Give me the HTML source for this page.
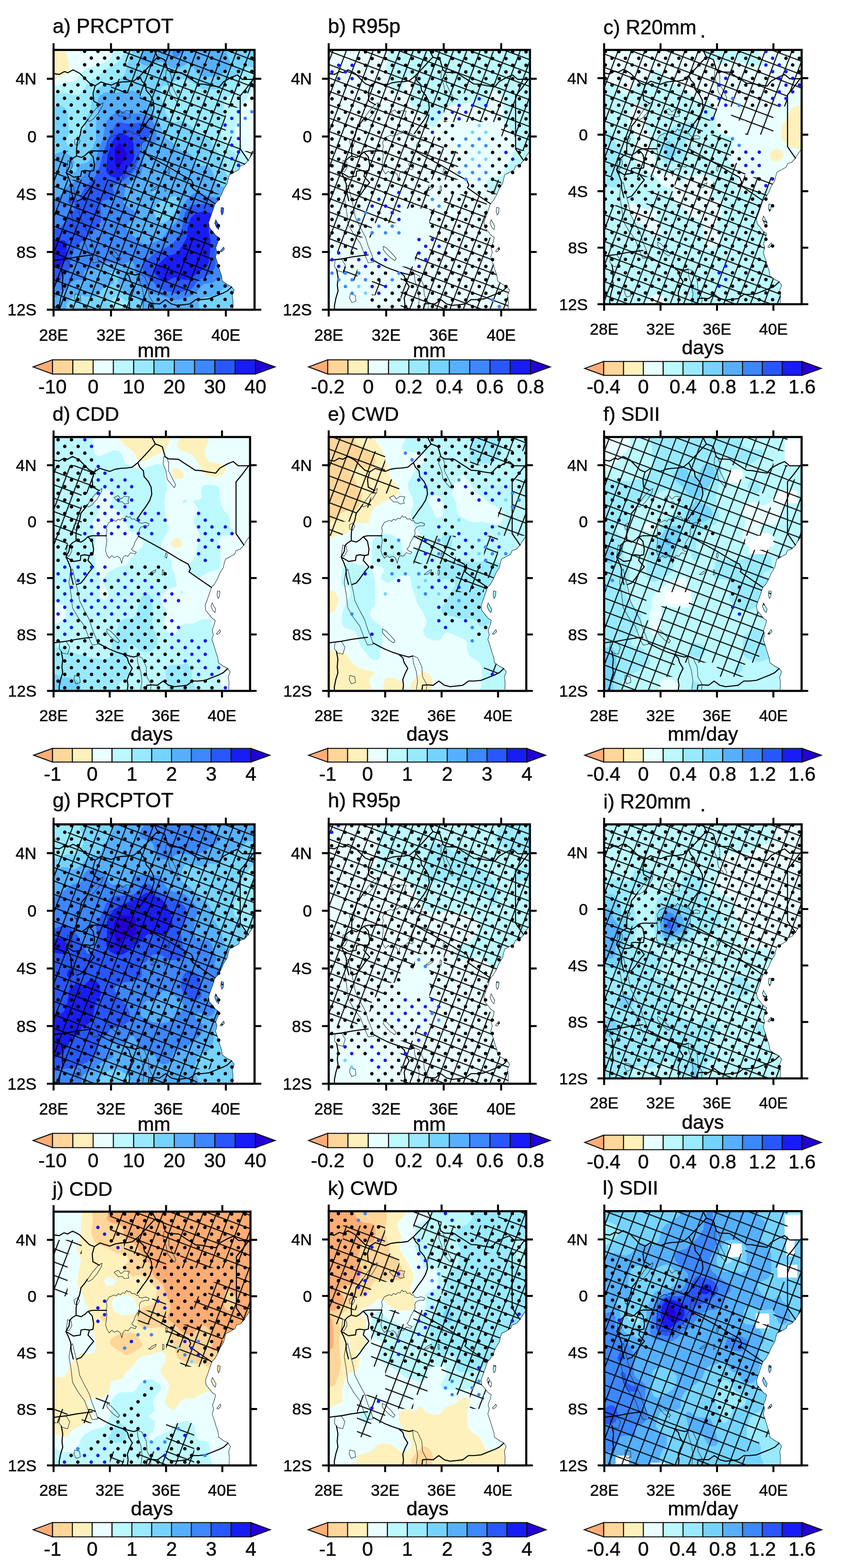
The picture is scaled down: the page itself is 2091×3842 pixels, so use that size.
<!DOCTYPE html>
<html lang="en"><head><meta charset="utf-8"><title>Figure</title>
<style>html,body{margin:0;padding:0;background:#fff}svg{display:block}text{font-family:"Liberation Sans", Arial, Helvetica, sans-serif;fill:#0a0a0a;stroke:#0a0a0a;stroke-width:.7px;stroke-linejoin:round}.fr{fill:none;stroke:#000;stroke-width:5.2}.tk{stroke:#000;stroke-width:4.8;fill:none}.cbx{stroke:#111;stroke-width:2.5;stroke-linejoin:miter}.bd{fill:none;stroke:#000;stroke-width:2.6;stroke-linejoin:round;stroke-linecap:round}.ct{fill:none;stroke:#1c2b33;stroke-width:1.2;stroke-linejoin:round}</style></head><body>
<svg width="2091" height="3842" viewBox="0 0 2091 3842">
<rect width="2091" height="3842" fill="#fff"/>
<defs>
<pattern id="h_a" patternUnits="userSpaceOnUse" width="30.7" height="30.7" patternTransform="translate(448.4 213.9) rotate(20.6) translate(-15.3 -15.3)"><path d="M0 15.3H30.7M15.3 0V30.7" stroke="#000" stroke-width="2.5" fill="none"/></pattern>
<clipPath id="c_a"><rect x="131.3" y="122.3" width="492.7" height="636.6"/></clipPath>
<pattern id="h_b" patternUnits="userSpaceOnUse" width="30.7" height="30.7" patternTransform="translate(843.4 139.1) rotate(20.6) translate(-15.3 -15.3)"><path d="M0 15.3H30.7M15.3 0V30.7" stroke="#000" stroke-width="2.5" fill="none"/></pattern>
<clipPath id="c_b"><rect x="805.8" y="122.3" width="493.3" height="636.6"/></clipPath>
<pattern id="h_c" patternUnits="userSpaceOnUse" width="30.7" height="30.7" patternTransform="translate(1565.9 164.1) rotate(20.6) translate(-15.3 -15.3)"><path d="M0 15.3H30.7M15.3 0V30.7" stroke="#000" stroke-width="2.5" fill="none"/></pattern>
<clipPath id="c_c"><rect x="1480.9" y="122.3" width="484.2" height="623.1"/></clipPath>
<pattern id="h_d" patternUnits="userSpaceOnUse" width="30.7" height="30.7" patternTransform="translate(230.9 1159.4) rotate(20.6) translate(-15.3 -15.3)"><path d="M0 15.3H30.7M15.3 0V30.7" stroke="#000" stroke-width="2.5" fill="none"/></pattern>
<clipPath id="c_d"><rect x="131.3" y="1070.8" width="481.7" height="622.1"/></clipPath>
<pattern id="h_e" patternUnits="userSpaceOnUse" width="30.7" height="30.7" patternTransform="translate(1180.9 1109.8) rotate(20.6) translate(-15.3 -15.3)"><path d="M0 15.3H30.7M15.3 0V30.7" stroke="#000" stroke-width="2.5" fill="none"/></pattern>
<clipPath id="c_e"><rect x="805.8" y="1070.8" width="484.3" height="622.1"/></clipPath>
<pattern id="h_f" patternUnits="userSpaceOnUse" width="30.7" height="30.7" patternTransform="translate(1582.3 1273.7) rotate(20.6) translate(-15.3 -15.3)"><path d="M0 15.3H30.7M15.3 0V30.7" stroke="#000" stroke-width="2.5" fill="none"/></pattern>
<clipPath id="c_f"><rect x="1480.9" y="1070.8" width="484.1" height="622.1"/></clipPath>
<pattern id="h_g" patternUnits="userSpaceOnUse" width="30.7" height="30.7" patternTransform="translate(208 2121.3) rotate(20.6) translate(-15.3 -15.3)"><path d="M0 15.3H30.7M15.3 0V30.7" stroke="#000" stroke-width="2.5" fill="none"/></pattern>
<clipPath id="c_g"><rect x="131.3" y="2019.9" width="492.7" height="635.5"/></clipPath>
<pattern id="h_h" patternUnits="userSpaceOnUse" width="30.7" height="30.7" patternTransform="translate(832.1 2065.6) rotate(20.6) translate(-15.3 -15.3)"><path d="M0 15.3H30.7M15.3 0V30.7" stroke="#000" stroke-width="2.5" fill="none"/></pattern>
<clipPath id="c_h"><rect x="805.8" y="2019.9" width="493.2" height="635.5"/></clipPath>
<pattern id="h_i" patternUnits="userSpaceOnUse" width="30.7" height="30.7" patternTransform="translate(1505 2040.3) rotate(20.6) translate(-15.3 -15.3)"><path d="M0 15.3H30.7M15.3 0V30.7" stroke="#000" stroke-width="2.5" fill="none"/></pattern>
<clipPath id="c_i"><rect x="1480.9" y="2019.9" width="484.2" height="622.5"/></clipPath>
<pattern id="h_j" patternUnits="userSpaceOnUse" width="30.7" height="30.7" patternTransform="translate(496 3064.9) rotate(20.6) translate(-15.3 -15.3)"><path d="M0 15.3H30.7M15.3 0V30.7" stroke="#000" stroke-width="2.5" fill="none"/></pattern>
<clipPath id="c_j"><rect x="131.3" y="2968.9" width="482.7" height="621.8"/></clipPath>
<pattern id="h_k" patternUnits="userSpaceOnUse" width="30.7" height="30.7" patternTransform="translate(913.7 3095.6) rotate(20.6) translate(-15.3 -15.3)"><path d="M0 15.3H30.7M15.3 0V30.7" stroke="#000" stroke-width="2.5" fill="none"/></pattern>
<clipPath id="c_k"><rect x="805.8" y="2967.8" width="484.2" height="622.9"/></clipPath>
<pattern id="h_l" patternUnits="userSpaceOnUse" width="30.7" height="30.7" patternTransform="translate(1583.5 3169.3) rotate(20.6) translate(-15.3 -15.3)"><path d="M0 15.3H30.7M15.3 0V30.7" stroke="#000" stroke-width="2.5" fill="none"/></pattern>
<clipPath id="c_l"><rect x="1481.4" y="2967.6" width="483.6" height="623.1"/></clipPath>
</defs>
<g id="p_a">
<g clip-path="url(#c_a)">
<rect x="131.3" y="122.3" width="492.7" height="636.6" fill="#fff1bc"/>
<path d="M130.9 190.5l16.1-2.4l9.3-4.4l7.9-5.7l4.6-5.6l2.1-11.3l-7.2-22.6l-1.6-16.6l462.3 0l0 637.4l-493.5 0z" fill="#eaffff" fill-rule="evenodd"/>
<path d="M619.4 223.2l-19 22.6l-6.7 11.3l-8.9 39.5l-9.4 16.9l.1 22.6l.1 5.7l3.6 5.6l6.8 4.1l5.6 7.1l11.1 23l6.9 5.4l14.8 2.1l0 370.2l-493.5 0l0-549.5l10.6-.1l16.7-6l22.2-4.8l5.5-3.4l16.7-19.3l11.1-7.9l33.4-11.5l15.4-7l7.2-5.7l4.1-5.6l2.2-16.6l348.4 0l0 99z" fill="#bcf9ff" fill-rule="evenodd"/>
<path d="M624.4 191.5l-16.1-1.4l-17.1 10.5l-5.1 5.7l-8 16.9l-5.6 5.6l-17.1 11.3l-5.2 5.7l-1.8 5.6l.3 22.6l-6.4 50.8l2.5 17l7.9 16.9l5.5 5.6l16.7 9.4l5.6 7.3l12.2 22.9l10 5.8l21.7-1.4l0 351l-493.5 0l0-525.7l21.7-6.4l11.1 .8l16.7 5.3l11.1-1.5l5.3-3l5.9-5.6l10.5-16.9l6.1-6.8l16.7-10l20.5-17.1l29.5-17.3l13.4-16.6l5.4-11.3l.3-5.3l319.3 0z" fill="#99eaff" fill-rule="evenodd"/>
<path d="M624.4 165.2l-16.1-2.2l-5.6 2.7l-10.1 12.3l-6.6 5l-28.2 12l-6.7 5.6l-9.5 12.8l-5.8 4.2l-10.9 1.7l-27.8-.5l-33.3-22l-11.1-2.5l-11.1-.1l-11.2 3.1l-16.6 10.7l-16.7 3.2l-3.4 6.4l-.8 11.2l1 11.3l4.7 11.3l5.8 22.6l9.4 14.9l5.5 6.2l5.6 3.3l5.5 .5l11.2-2.6l11.1 1.7l21.4 15.5l17.5 17.3l22.2 11.5l27.8 44.7l6.1 16.9l3.6 16.9l6.9 10.1l5.6 3.1l16.7 4.7l16.6 12.6l5.6 1.5l21.7-.1l0 306.6l-308.9 0l2.7-11l-2.1-5.6l-19-13.4l-11.1-3.1l-10.4 5.2l-4.1 5.7l-5.5 22.2l-135.1 0l0-498.6l10.6-2l11.1 1.6l5.6 3.9l7 9.8l1.7 5.7l.1 16.9l3 28.2l-8.9 22.6l2.9 5.7l5.3 2.7l11.1 .4l5.5-4.6l7.7-15.5l14.3-22.6l3.1-22.5l10.8-22.6l3.6-28.3l4.4-11.3l9.8-11.2l13-9l11.1-5.1l22.3-4.9l6.7-3.6l12-11.3l3.3-5.7l3.9-22.6l11.1-22.5l.8-11l300.6 0z" fill="#75d3ff" fill-rule="evenodd"/>
<path d="M308.2 221l16.7 1l16.6 7.8l11.1 8.1l18.7 24.8l6.8 17l11.2 16.9l4.9 11.3l3.5 16.9l5 10.8l16.6 11.4l22.3 20.3l5.5 3.5l16.7 4.4l5.5 4.6l4.5 7.2l4.1 11.2l4.5 5.7l9.2 2.4l16.6 .6l5.6 2.5l7.1 11.4l12.8 33.9l24.5 5.5l27.8 8.6l38.4 2.3l0 223.8l-10.6-1.1l-38.9 2.3l-27.8 12.2l-16.6 15.6l-11.2 3.6l-16.6 .5l-5.6 2.5l-7.6 6.6l-3.1 5.6l2.4 16.6l-132.3 0l-5.7-5.3l-3.6-11.3l-5.7-7.6l-5.5-3.7l-22.3-9l-11-7.9l-8.6-11.3l-6.1-17l3.8-11.3l-2.8-5.6l-8.6-3.9l-5.6 .2l-6.5 3.7l-.5 5.6l2.7 5.7l6.3 5.6l3 5.7l-7.9 5.6l-19.3 9.1l-16.6 18.2l-5.6 1.9l-11.1 .6l-27.8-4.5l-5.6 .4l-5.5 2.7l-16.7 16.8l-1.9 5.6l2.4 11l-33.3 0l0-380.3l16.1-6.1l5.6-.3l10.1 3.1l9.5 5.6l5.4 5.7l5.4 11.2l-1.8 5.7l-7.6 11.3l.7 5.6l6.1 2.1l5.5-2.9l3.6-10.5l3.9-5.6l20.3-5.8l5.6-4.7l2.5-6.4l2-17l11.3-28.2l.1-33.9l4.7-33.9l-1.6-22.6l2.8-11.3l6-7.8l11.1-6.1l27.8 1.5zM380.4 464.9l-9.4 6.8l3.9 3.3l5.5-1.4l1.6-1.9zM424.9 480.4l-33.4 13.9l-5.5 3.6l-5.8 7.6l-2.6 11.3l1.7 11.3l5.3 11.3l6.9 6.6l5.6 .9l5.6-1.5l17.6-11.6l10.1-16.1l7.3-17.8l.9-11.3l-3.8-5.6l-4.4-2.4zM553.1 121.9l9.7 27.9l.2 11.3l-1.5 5.6l-4.1 5.7l-7.1 5.6l-14.3 8.4l-5.5 1.5l-27.8 .3l-11.1-3.3l-8.4-6.9l-13.9-20.2l-5.5-2.4l-5.6 1.1l-18.2 10.2l-9.6 2l-11.1-2.4l-22.2-14.5l-5.6-.5l-22.2 7.7l-11.1 1.8l-11.1-3.7l-4.7-7.3l.2-5.7l4.4-11.2l9.8-11z" fill="#56b0ff" fill-rule="evenodd"/>
<path d="M291.5 272.1l11.1 .2l11.1 3.7l11.2 1.5l22.2 .6l11.1 4l11.1 8.7l7.8 11.5l3.9 11.2l2.6 17l-1.1 16.9l-2.1 5.2l-5.5 3.6l-11.1 3.3l-5.6 4.5l-2.6 6l-5 17l-2.1 28.2l-2.5 11.3l-4.8 5.6l-24.1 17l-10 11.3l-4.7 28.2l.2 7l5.6 7.8l19.6 13.4l3.3 5.7l1 5.6l-1.7 6l-14.1 11l-4.5 5.6l-1.5 5.7l.8 5.6l3.5 5.7l26.9 24.3l11.1 6.1l11.2 1l27.7-10.6l10.3-9.6l12.2-16.9l18.4-16.9l3.6-6.3l9.2-27.6l13-22.4l11.1-10.9l11.2-5l11.1 .2l22.2 8.7l16.7 2.8l27.7-1.1l27.8 1.2l38.4-1.9l0 195.2l-10.6-1.6l-27.8 .6l-27.8 5.5l-22.2 .4l-16.7 11.2l-16.6 1.1l-5.6 2.1l-16.6 20.1l-11.2 7.4l-27.7 8.9l-16.7 1.3l-22.2-8.2l-27.8-7.5l-9.5-4.8l-23.2-17l-6.2-12.4l-6.2-32.7l-4.9-11l-5.6-1.4l-16.7 6.9l-38.9-3.9l-11.1 3l-22.2 11.6l-16.7 2.4l-5.5 2.3l-2.5 7l3 11.3l-.5 6.1l-16.7-1.6l-11.1 3.3l-5.6 4.3l-22.2 25.5l-21.7 12.2l0-245.7l10.6-2.7l5.5-3.2l7.6-7.1l14.7-20l22.2-9l36.6-33.2l5.9-11.3l6.4-28.2l11.2-28.2l6.6-34.9l3.4-10.3l13.2-15.2zM452.7 122.3l-16.7 16.4l-5.6 2l-5.5-2.5l-1.9-5.3l-.3-11z" fill="#3d87ff" fill-rule="evenodd"/>
<path d="M502.7 499.4l38.9 5.9l33.3-4.2l27.8 .7l21.7-2.3l0 49.7l-5.6 1.5l-21.7 15l-27.7 .5l-22.3-5.7l-5.5-.2l-2.5 1.7l-10.7 50.8l-1.1 11.3l1.6 22.6l-3.6 11.3l-11.5 14.1l-26.7 14.1l-17.8 21.4l-5.5 2.9l-33.4 8.4l-35.6-10.1l-8.3-5.6l-15.4-17l-12.9-9.6l-5.6-6.7l-2.6-11.9l2.6-15.8l11.2-7.8l17.1-15.9l36.2-17l17.9-16.9l6.6-12.6l7.6-26.9l4.3-22.6l10.3-16.5l11.1-4.5zM291.5 299.4l22.2 3.8l38.9-3.1l11.2 7.6l3.2 5.8l1.4 5.7l-1 11.3l-16.6 16.9l-7.4 11.3l-5.8 39.5l-10.7 22.6l-10.4 11.3l-13.9 10.5l-24.7 12.1l-2.3 5.7l4.8 11.3l-.2 5.6l-4.5 5.7l-6.4 4l-16.7 4.6l-3.4 2.6l-2.4 5.7l.9 39.5l-1.5 5.7l-23.4 28.2l-20.2 16l-18 17.9l-4.2 6.9l-12.7 43.9l-5.4 11.3l-15.3 19l-5.5 4.2l-10.6 4.4l0-136.8l16.1-1l7.5-8.4l14.8-23.5l12.4-10.4l1-16.9l-2.3-5.1l-5.6 3.6l-5.5 .5l-2.5-4.7l1.7-5.6l6.3-5.8l5.6-1l3.1 1.2l2.4 8.9l9.1-3.3l3.4-11.3l13.6-22.6l21.7-22.6l10.1-22.6l10-39.5l13.4-33.9l13.9-28.2l4.9-5.9z" fill="#2857ff" fill-rule="evenodd"/>
<path d="M152.6 588.8l7.2 1.4l3.9 5.7l-.4 22.6l-3.4 16.9l-7.3 14.2l-5.6 4.5l-16.1 1.2l0-63.5zM491.6 519l16.6 .9l7.5 2.6l7.8 5.6l.6 5.7l-9 16.9l-3.7 11.3l-.1 5.7l4.9 22.5l.1 11.3l-4.2 39.6l-3.9 9.9l-5.5 6.4l-16.7 10.2l-22.2 18.1l-11.1 .1l-22.3-6.1l-5.5 .6l-16.7 10.1l-5.5 .1l-5.6-2.6l-17.9-18.6l-2.1-5.7l1.4-5.6l29.7-30.5l16.7-3.2l11.1-6.2l20.8-33.5l3.4-28.2l7.7-22.6l11.6-11.3zM574.9 517.3l11.1 1.5l6.5 3.7l3.8 5.6l-1.7 5.7l-3 2.9l-11.1 6.3l-5.6 .2l-10.6-3.8l-6.4-5.6l-1.4-5.7l4.9-5.6zM297.1 326l16.6 7.3l11.2 11.5l2.3 8.3l1.7 33.9l-4 9.5l-7.1 7.4l-9.7 16.9l-5 5.7l-11.6 8.2l-11.1 .2l-11.1-4.1l-5.7-4.3l-2.8-5.7l-.6-5.6l4.3-33.9l5.7-22.6l10.2-21l5.6-7.2l5.5-3.8z" fill="#181cf7" fill-rule="evenodd"/>
<path d="M291.5 351.4l5.6 1.4l4.4 5.9l8.4 17l1.2 5.6l-1.3 5.7l-13.2 16.9l-5.1 10.1l-5.5 1.6l-2.1-6.1l-3.7-33.8l4.6-17z" fill="#2400d8" fill-rule="evenodd"/>
<path d="M569.5 723.5l4.5-12.3l-6.3-8.9l-10.6-5.3l-12.3-8.8l-1.7-12.4l-5.3-15.9l-3.5-12.4l-6-17.7l3.5-12.4l-2.8-10.6l5.3-14.1l2.4-10.6l-7.7-5.3l-7.1-8.9l-8.8-10.6l-1.7-12.4l6.3-17.7l4.9-14.1l4.6-13.8l7.1-7.4l8.1-14.2l5.9-14.1l8.8-14.2l1.8-8.8l3.5-12.4l10.6-5.3l12.3-7.1l3.5-8.8l10.6-3.5l9.1-10.3l6.7-11l8.8-12.3l21.1 0l0 410.2l-74.6 0l.7-42.4zM548.3 509.6l-5.9-1.8l-1.1 10.6l2.5 8.8l3.5-5.3zM536 562.6l1.8-8.8l-5.3-8.9l-3.5-7l-2.8 8.8l4.5 10.6zM543.1 617.4l7-7l-1.8-5.3l-8.8 10.6z" fill="#fff" fill-rule="evenodd"/>
<path class="ct" d="M624 369.9l-8.8 12.3l-6.7 11l-9.1 10.3l-10.6 3.5l-3.5 8.8l-12.3 7.1l-10.6 5.3l-3.5 12.4l-1.8 8.8l-8.8 14.2l-5.9 14.1l-8.1 14.2l-7.1 7.4l-4.6 13.8l-4.9 14.1l-6.3 17.7l1.7 12.4l8.8 10.6l7.1 8.9l7.7 5.3l-2.4 10.6l-5.3 14.1l2.8 10.6l-3.5 12.4l6 17.7l3.5 12.4l5.3 15.9l1.7 12.4l12.3 8.8l10.6 5.3l6.3 8.9l-4.5 12.3l1.7 14.2l-.7 21.2M542.4 507.8l5.9 1.8l-1 12.3l-3.5 5.3l-2.5-8.8l1.1-10.6M529 537.9l3.5 7l5.3 8.9l-1.8 8.8l-5.3-5.3l-4.5-10.6l2.8-8.8M548.3 605.1l1.8 5.3l-7 7l-3.6-1.7l8.8-10.6M270.3 336.3l5.3-1.8l7-3.5l5.3 2.8l5.3-5.7l5.3 2.9l5.2-5.3l5.3 1.7l5.3-7.8l3.5 4.3l5.3-1.8l3.5 6l7.1-.7l5.2 5.3l3.6-1.7l3.5 6.3l7 1.4l8.8-2.4l8.8 3.5l-1.7 5.3l-10.6 0l-8.8 3.5l-3.5 7.1l.7 10.6l-6 10.6l-5.3 8.9l-3.5 10.6l-5.3 7.1l5.3 5.3l7 1.7l-3.5 5.3l-10.5-3.5l-7.1 8.8l-7-1.7l-5.3 5.3l-3.5 14.1l-3.5-12.3l-7.1-5.4l-8.8 3.6l-5.2-5.3l-7.1 7.1l-5.3-8.9l-3.5-10.6l1.8-12.4l1.7-14.1l-2.8-10.6l2.8-10.6l-1.7-10.7l7-12.3M178.8 453l8.8 37.1l5.3 21.2l3.5 21.3l12.3 24.7l12.3 23l7.1 23l8.8 21.2l5.3 17.7l-14.1 1.8l-8.8-19.5l-10.6-28.3l-15.8-21.2l-14.1-24.8l-3.5-31.8l-5.3-31.8l3.5-24.8l5.3-8.8M340.7 670.5l12.3 5.3l10.6 23l1.7 24.7l10.6 19.5l-1.8 15.9M340.7 670.5l1.8 17.7l7 21.2l3.5 24.7l-3.5 24.8M407.6 171.8l7 1.8l5.3 12.4l0 21.2l8.8 17.7l8.8 17.6l-3.5 7.1l-7.1-8.8l-10.5-12.4l-3.6-21.2l-7-17.7l1.8-17.7M214 295.6l15.8-23l14.1-15.9l8.8-5.3l-1.7 8.8l-10.6 17.7l-12.3 14.2l-8.8 5.3l-5.3-1.8M182.3 343.3l8.8-5.3l5.3 7.1l-5.3 10.6l-7-1.7l-1.8-10.7M166.5 392.9l8.8 3.5l1.8 12.4l-7.1 12.3l-7-1.7l1.7-14.2l1.8-12.3M282.6 274.4l10.6-5.3l7 8.8l8.8-7.1l12.3 1.8l-3.5 8.8l1.8 7.1l-10.6 1.8l-5.3-5.3l-10.5 0l-5.3-5.3l-5.3-5.3M265 603.3l8.8 5.3l12.3 12.4l10.6 12.3l-3.5 5.4l-10.6-7.1l-10.5-10.6l-7.1-8.9l0-8.8M147.1 636.9l15.9-1.8l8.8 14.2l-5.3 17.6l-14.1-3.5l-7-10.6l1.7-15.9M184.1 720l12.3 3.5l1.8 14.2l-10.6 3.5l-5.3-10.6l1.8-10.6M368.9 467.1l8.7-7l10.6-5.4l-1.8 5.4l-10.5 7l-7 0M404 454.7l3.6 1.8l0 10.6l-3.6 1.8l0-14.2M412.8 412.3l3.6 3.5l-1.8 10.7l-3.5-3.6l1.7-10.6"/>
<path class="bd" d="M131.3 180.3l14.1 2.1l12.3-7.1l8.8 2.9l12.3-7.1l8.8 4.2l8.8 5l12.3 12.7l12.3 12.1l12.4 4.9l14-9.2l10.6 3.6l14.1 4.2l14-5.7l14.1-2.1l14.1-.7l14.1-2.1l14.1-11.3M342.5 186.7l17.6-18.4l17.5-19.5l8.8-8.8l-3.5-7.1l-5.3-10.6M386.4 140l10.6 3.5l7 3.6l3.6 12.3l3.5 12.4l8.8 5.3l24.6 1.1l14.1 9.5l14.1 8.9l14 9.2l14.1 .7l17.6 3.5l19.4 2.8l10.5-12.7l19.4-10.6l14.1-5.7l12.3 10.6l26.4-.3l3.5-2.8M620.5 194.1l-17.6 23.7l-14.1 17l0 129.8l19.7 28.6M342.5 186.7l5.2 11.6l8.8 8.9l1.8 14.1l10.6 12.4l7 14.2l1.7 17.6l-5.2 15.9l-8.8 14.2l-10.6 14.1l-7 10.7l-5.3 7M344.2 370.9l33.4 18.4l35.2 19.5l35.2 21.2l21.2 11.3l5.2 11.7l-3.5 7.1l7 5.3l22.9 15.9l26.4 18M217.5 372.3l10.6-2.4l35.9 0M233.4 210l-5.3 18.4l1.7 19.5l15.9 8.8M215.8 292.1l-7.1 10.6l-8.8 10.6l-3.5 17.7l-7 17.6l-1.8 17.7l0 15.9M187.6 382.2l12.3 3.6l8.8-5.3l8.8-8.2M217.5 372.3l10.6 11.7l3.5 19.5l-1.8 14.1l-8.8 1.8M221 419.4l-12.3-1.8l-8.8 1.8l-1.7 12.4l-17.6 2.4l-12.3-7.7l-6-3.6M162.3 422.9l7.7-14.1l1.8-14.2l7-7l8.8-5.4M221 419.4l-3.5 12.4l14.1 15.9l-10.6 12.4l-12.3 17.6l-8.8 10.6l-10.5 3.9M162.3 422.9l6 12.4l5.9 15.9l1.1 19.5l5.3 21.2M131.3 638.7l10.6-1.8l21.1-2.5l24.6-4.6l24.6-3.5l15.9-1.8M150.7 659.9l3.5 19.4l-1.8 19.5l1.8 14.1l-5.3 17.7l-3.5 17.7l0 10.6M242.2 638.7l15.8 8.8l14.1 7.1l17.6 7l15.8 5.3M305.5 666.9l12.3 3.6l14.1 3.5l8.8-2.8M305.5 666.9l10.6 8.9l3.5 12.4l8.8 14.1l-7.1 14.2l-5.2 14.1l1.7 14.2l-1.7 14.1M375.9 743.7l15.8 1.1l14.1-10.7l14.1 10.7l14.1 3.5l17.6-1.8l14-1.7l14.1-10.7l14.1 0l17.6-1.7l17.6-7.1l17.6-7.1l10.5-5.3l10.6-9.9M375.9 743.7l-10.6 1.1l-1.7 14.1"/>
<path d="M131.3 652.8l0-35.4l0-35.3l0-35.4l0-35.4l0-35.3l0-35.4l0-35.4l0-35.3l35.2 0l0 35.3l0 35.4l140.8 0l0-35.4l35.2 0l0-35.3l0-35.4l0-35.4l0-35.3l0-35.4l-70.4 0l0-35.4l35.2 0l0-35.3l0-35.4l316.7 0l0 35.4l0 35.3l0 35.4l-35.2 0l0 35.4l-35.2 0l0 35.3l0 35.4l35.2 0l0 35.4l35.2 0l-8.8 12.3l-6.7 11l-9.1 10.3l-5.3 1.7l-5.3 0l0 1.8l-3.5 8.8l-12.3 7.1l-10.6 5.3l-3.5 12.4l-5.3 0l0 14.5l-5.3 8.5l-5.2 12.4l-24.7 0l0 35.3l-35.2 0l0 35.4l-35.2 0l0 35.4l70.4 0l0 35.3l0 35.4l0 35.4l-35.2 0l0 35.3l-105.6 0l0 35.4l-246.3 0l0-35.4l0-35.3zM412.8 582.1l0 35.3l0 35.4l35.2 0l0-35.4l0-35.3z" fill="url(#h_a)" fill-rule="evenodd"/>
<path d="M207.4 125.8h0m32.8 0h0m32.8 0h0m32.8 0h0m32.8 0h0m32.8 0h0m32.8 0h0m32.8 0h0m32.8 0h0m32.8 0h0m32.8 0h0m32.8 0h0m32.8 0h0m-377.2 16.4h0m32.8 0h0m32.8 0h0m32.8 0h0m32.8 0h0m32.8 0h0m32.8 0h0m32.8 0h0m32.8 0h0m32.8 0h0m32.8 0h0m32.8 0h0m32.8 0h0m-410 16.5h0m32.8 0h0m32.8 0h0m32.8 0h0m32.8 0h0m32.8 0h0m32.8 0h0m32.8 0h0m32.8 0h0m32.8 0h0m32.8 0h0m32.8 0h0m32.8 0h0m-377.2 16.4h0m32.8 0h0m32.8 0h0m32.8 0h0m32.8 0h0m32.8 0h0m32.8 0h0m32.8 0h0m32.8 0h0m32.8 0h0m32.8 0h0m32.8 0h0m32.8 0h0m-410 16.4h0m32.8 0h0m32.8 0h0m32.8 0h0m32.8 0h0m32.8 0h0m32.8 0h0m32.8 0h0m32.8 0h0m32.8 0h0m32.8 0h0m32.8 0h0m32.8 0h0m-442.8 16.4h0m32.8 0h0m32.8 0h0m32.8 0h0m32.8 0h0m32.8 0h0m32.8 0h0m32.8 0h0m32.8 0h0m32.8 0h0m32.8 0h0m32.8 0h0m32.8 0h0m32.8 0h0m32.8 0h0m-475.6 16.5h0m32.8 0h0m32.8 0h0m32.8 0h0m32.8 0h0m32.8 0h0m32.8 0h0m32.8 0h0m32.8 0h0m32.8 0h0m32.8 0h0m32.8 0h0m32.8 0h0m32.8 0h0m32.8 0h0m-442.8 16.4h0m32.8 0h0m32.8 0h0m32.8 0h0m32.8 0h0m32.8 0h0m32.8 0h0m32.8 0h0m32.8 0h0m32.8 0h0m32.8 0h0m32.8 0h0m32.8 0h0m32.8 0h0m32.8 0h0m-475.6 16.4h0m32.8 0h0m32.8 0h0m32.8 0h0m32.8 0h0m32.8 0h0m32.8 0h0m32.8 0h0m32.8 0h0m32.8 0h0m32.8 0h0m32.8 0h0m32.8 0h0m32.8 0h0m32.8 0h0m-442.8 16.5h0m32.8 0h0m32.8 0h0m32.8 0h0m32.8 0h0m32.8 0h0m32.8 0h0m32.8 0h0m32.8 0h0m32.8 0h0m32.8 0h0m32.8 0h0m32.8 0h0m-410 16.4h0m32.8 0h0m32.8 0h0m32.8 0h0m32.8 0h0m32.8 0h0m32.8 0h0m32.8 0h0m32.8 0h0m32.8 0h0m32.8 0h0m32.8 0h0m32.8 0h0m-377.2 16.4h0m32.8 0h0m32.8 0h0m32.8 0h0m32.8 0h0m32.8 0h0m32.8 0h0m32.8 0h0m32.8 0h0m32.8 0h0m32.8 0h0m32.8 0h0m-377.2 16.5h0m32.8 0h0m32.8 0h0m32.8 0h0m32.8 0h0m32.8 0h0m32.8 0h0m32.8 0h0m32.8 0h0m32.8 0h0m32.8 0h0m32.8 0h0m32.8 0h0m-377.2 16.4h0m32.8 0h0m32.8 0h0m32.8 0h0m32.8 0h0m32.8 0h0m32.8 0h0m32.8 0h0m32.8 0h0m32.8 0h0m32.8 0h0m32.8 0h0m32.8 0h0m-410 16.4h0m32.8 0h0m32.8 0h0m32.8 0h0m32.8 0h0m32.8 0h0m32.8 0h0m32.8 0h0m32.8 0h0m32.8 0h0m32.8 0h0m32.8 0h0m32.8 0h0m-377.2 16.4h0m32.8 0h0m32.8 0h0m32.8 0h0m32.8 0h0m32.8 0h0m32.8 0h0m32.8 0h0m32.8 0h0m32.8 0h0m32.8 0h0m32.8 0h0m32.8 0h0m-410 16.5h0m32.8 0h0m32.8 0h0m32.8 0h0m32.8 0h0m32.8 0h0m32.8 0h0m32.8 0h0m32.8 0h0m32.8 0h0m32.8 0h0m32.8 0h0m32.8 0h0m-377.2 16.4h0m32.8 0h0m32.8 0h0m32.8 0h0m32.8 0h0m32.8 0h0m32.8 0h0m32.8 0h0m32.8 0h0m32.8 0h0m32.8 0h0m32.8 0h0m32.8 0h0m-410 16.4h0m32.8 0h0m32.8 0h0m32.8 0h0m32.8 0h0m32.8 0h0m32.8 0h0m32.8 0h0m32.8 0h0m32.8 0h0m32.8 0h0m32.8 0h0m32.8 0h0m32.8 0h0m-410 16.5h0m32.8 0h0m32.8 0h0m32.8 0h0m32.8 0h0m32.8 0h0m32.8 0h0m32.8 0h0m32.8 0h0m32.8 0h0m32.8 0h0m32.8 0h0m32.8 0h0m-410 16.4h0m32.8 0h0m32.8 0h0m32.8 0h0m32.8 0h0m32.8 0h0m32.8 0h0m32.8 0h0m32.8 0h0m32.8 0h0m32.8 0h0m32.8 0h0m32.8 0h0m-377.2 16.4h0m32.8 0h0m32.8 0h0m32.8 0h0m32.8 0h0m32.8 0h0m32.8 0h0m32.8 0h0m32.8 0h0m32.8 0h0m32.8 0h0m32.8 0h0m-377.2 16.5h0m32.8 0h0m32.8 0h0m32.8 0h0m32.8 0h0m32.8 0h0m32.8 0h0m32.8 0h0m32.8 0h0m32.8 0h0m32.8 0h0m32.8 0h0m32.8 0h0m-377.2 16.4h0m32.8 0h0m32.8 0h0m32.8 0h0m32.8 0h0m32.8 0h0m32.8 0h0m32.8 0h0m32.8 0h0m32.8 0h0m32.8 0h0m32.8 0h0m-377.2 16.4h0m32.8 0h0m32.8 0h0m32.8 0h0m32.8 0h0m32.8 0h0m32.8 0h0m32.8 0h0m32.8 0h0m32.8 0h0m32.8 0h0m32.8 0h0m-344.4 16.4h0m32.8 0h0m32.8 0h0m32.8 0h0m32.8 0h0m32.8 0h0m32.8 0h0m32.8 0h0m32.8 0h0m32.8 0h0m32.8 0h0m-344.4 16.5h0m32.8 0h0m32.8 0h0m32.8 0h0m32.8 0h0m32.8 0h0m32.8 0h0m32.8 0h0m32.8 0h0m32.8 0h0m32.8 0h0m32.8 0h0m32.8 0h0m-377.2 16.4h0m32.8 0h0m32.8 0h0m32.8 0h0m32.8 0h0m32.8 0h0m32.8 0h0m32.8 0h0m32.8 0h0m32.8 0h0m32.8 0h0m32.8 0h0m-377.2 16.4h0m32.8 0h0m32.8 0h0m32.8 0h0m32.8 0h0m32.8 0h0m32.8 0h0m32.8 0h0m32.8 0h0m32.8 0h0m32.8 0h0m32.8 0h0m32.8 0h0m-377.2 16.5h0m32.8 0h0m32.8 0h0m32.8 0h0m32.8 0h0m32.8 0h0m32.8 0h0m32.8 0h0m32.8 0h0m32.8 0h0m32.8 0h0m32.8 0h0m-377.2 16.4h0m32.8 0h0m32.8 0h0m32.8 0h0m32.8 0h0m32.8 0h0m32.8 0h0m32.8 0h0m32.8 0h0m32.8 0h0m32.8 0h0m32.8 0h0m32.8 0h0m-377.2 16.4h0m32.8 0h0m32.8 0h0m32.8 0h0m32.8 0h0m32.8 0h0m32.8 0h0m32.8 0h0m32.8 0h0m32.8 0h0m32.8 0h0m32.8 0h0m-377.2 16.5h0m32.8 0h0m32.8 0h0m32.8 0h0m32.8 0h0m32.8 0h0m32.8 0h0m32.8 0h0m32.8 0h0m32.8 0h0m32.8 0h0m32.8 0h0m32.8 0h0m-377.2 16.4h0m32.8 0h0m32.8 0h0m32.8 0h0m32.8 0h0m32.8 0h0m32.8 0h0m32.8 0h0m32.8 0h0m32.8 0h0m32.8 0h0m32.8 0h0m-377.2 16.4h0m32.8 0h0m32.8 0h0m32.8 0h0m32.8 0h0m32.8 0h0m32.8 0h0m32.8 0h0m32.8 0h0m32.8 0h0m32.8 0h0m32.8 0h0m32.8 0h0m-377.2 16.4h0m32.8 0h0m32.8 0h0m32.8 0h0m32.8 0h0m32.8 0h0m32.8 0h0m32.8 0h0m32.8 0h0m32.8 0h0m32.8 0h0m32.8 0h0m32.8 0h0m-410 16.5h0m32.8 0h0m32.8 0h0m32.8 0h0m32.8 0h0m32.8 0h0m32.8 0h0m32.8 0h0m32.8 0h0m32.8 0h0m32.8 0h0m32.8 0h0m32.8 0h0m32.8 0h0m-410 16.4h0m32.8 0h0m32.8 0h0m32.8 0h0m32.8 0h0m32.8 0h0m32.8 0h0m32.8 0h0m32.8 0h0m32.8 0h0m32.8 0h0m32.8 0h0m32.8 0h0m-410 16.4h0m32.8 0h0m32.8 0h0m32.8 0h0m32.8 0h0m32.8 0h0m32.8 0h0m32.8 0h0m32.8 0h0m32.8 0h0m32.8 0h0m32.8 0h0m32.8 0h0m32.8 0h0" stroke="#000" stroke-width="8.5" stroke-linecap="round" fill="none"/>
<path d="M584.6 273.7h0m-16.4 16.4h0m-16.4 16.4h0m32.8 32.9h0m-16.4 16.4h0m16.4 16.4h0m-16.4 16.5h0m16.4 16.4h0" stroke="#1a1af0" stroke-width="8.5" stroke-linecap="round" fill="none"/>
<path d="M617.4 273.7h0m-16.4 16.4h0m-16.4 16.4h0m-16.4 16.5h0" stroke="#3d87ff" stroke-width="8.5" stroke-linecap="round" fill="none"/>
</g>
<path class="tk" d="M131.3 105.8v16.5M131.3 758.9v16.5M272.1 105.8v16.5M272.1 758.9v16.5M412.8 105.8v16.5M412.8 758.9v16.5M553.6 105.8v16.5M553.6 758.9v16.5M114.8 193h16.5M624 193h16.5M114.8 334.5h16.5M624 334.5h16.5M114.8 476h16.5M624 476h16.5M114.8 617.4h16.5M624 617.4h16.5M114.8 758.9h16.5M624 758.9h16.5"/>
<rect class="fr" x="131.3" y="122.3" width="492.7" height="636.6"/>
<text x="129" y="81" font-size="50">a) PRCPTOT</text>
<text x="89.5" y="207.4" font-size="40" text-anchor="end">4N</text>
<text x="89.5" y="348.8" font-size="40" text-anchor="end">0</text>
<text x="89.5" y="490.3" font-size="40" text-anchor="end">4S</text>
<text x="89.5" y="631.8" font-size="40" text-anchor="end">8S</text>
<text x="89.5" y="773.2" font-size="40" text-anchor="end">12S</text>
<text x="131.3" y="835.4" font-size="40" text-anchor="middle">28E</text>
<text x="272.1" y="835.4" font-size="40" text-anchor="middle">32E</text>
<text x="412.8" y="835.4" font-size="40" text-anchor="middle">36E</text>
<text x="553.6" y="835.4" font-size="40" text-anchor="middle">40E</text>
<text x="377.6" y="874.5" font-size="48.5" text-anchor="middle">mm</text>
<g class="cbx">
<path d="M128.8 881.7L81.2 899.1L128.8 916.5Z" fill="#ffac75"/>
<rect x="128.8" y="881.7" width="49.7" height="34.8" fill="#ffd699"/>
<rect x="178.6" y="881.7" width="49.7" height="34.8" fill="#fff1bc"/>
<rect x="228.3" y="881.7" width="49.7" height="34.8" fill="#eaffff"/>
<rect x="278" y="881.7" width="49.7" height="34.8" fill="#bcf9ff"/>
<rect x="327.8" y="881.7" width="49.7" height="34.8" fill="#99eaff"/>
<rect x="377.5" y="881.7" width="49.7" height="34.8" fill="#75d3ff"/>
<rect x="427.3" y="881.7" width="49.7" height="34.8" fill="#56b0ff"/>
<rect x="477" y="881.7" width="49.7" height="34.8" fill="#3d87ff"/>
<rect x="526.8" y="881.7" width="49.7" height="34.8" fill="#2857ff"/>
<rect x="576.5" y="881.7" width="49.7" height="34.8" fill="#181cf7"/>
<path d="M626.3 881.7L674.3 899.1L626.3 916.5Z" fill="#2400d8"/>
</g>
<text x="128.8" y="964" font-size="48" text-anchor="middle">-10</text>
<text x="228.3" y="964" font-size="48" text-anchor="middle">0</text>
<text x="327.8" y="964" font-size="48" text-anchor="middle">10</text>
<text x="427.3" y="964" font-size="48" text-anchor="middle">20</text>
<text x="526.8" y="964" font-size="48" text-anchor="middle">30</text>
<text x="626.3" y="964" font-size="48" text-anchor="middle">40</text>
</g>
<g id="p_b">
<g clip-path="url(#c_b)">
<rect x="805.8" y="122.3" width="493.3" height="636.6" fill="#eaffff"/>
<path d="M1299.5 437.3l-27.3 .1l-23 6l-6.7 5.7l-9.2 19.4l-11.2 6.2l-11.1-.2l-5.6-2.7l-7-5.8l-6.5-11.3l1.8-11.3l6.2-6.7l11.1-3.7l16.7-1l5.5-5.5l4.6-11.3l17.3-28.2l10-33.9l.6-22.6l-3-5.7l-12.7-6.7l-11.2-13.3l-3.8-8.2l-2.2-16.9l1.8-28.3l-4.1-11.3l-8.4-12.7l-5.5-4.3l-5.6-1.7l-5.6 .5l-5.5 3.7l-3.5 31.5l-7.6 6.2l-11.2-.3l-22.2-10.8l-5.6-1.2l-16.7 3.6l-16.7 .8l-11.1 3.2l-11.1 7.7l-6.8 7.7l-21 37.9l-11.2-1.6l-10.4-8l-7.3-17l-4.1-5.6l-21.5-17l-7.7-11.3l-2.4-11.3l1.2-5.6l7.7-8.4l3.9-8.5l-.2-22.6l-2.7-5.7l-6.5-2.3l-5.6 .7l-5.6 4.3l-7.1 14.3l-.9 16.9l-2.7 5.6l-11.9 0l-11.6-5.6l-3.4-16.9l-9.1-28.3l-.4-11.3l4-28.2l0-16.6l348.6 0z" fill="#bcf9ff" fill-rule="evenodd"/>
<path d="M1244.5 723.5l4.6-12.3l-6.4-8.9l-10.5-5.3l-12.4-8.8l-1.7-12.4l-5.3-15.9l-3.6-12.4l-5.9-17.7l3.5-12.4l-2.8-10.6l5.2-14.1l2.5-10.6l-7.7-5.3l-7.1-8.9l-8.8-10.6l-1.8-12.4l6.4-17.7l4.9-14.1l4.6-13.8l7-7.4l8.2-14.2l5.9-14.1l8.9-14.2l1.7-8.8l3.5-12.4l10.6-5.3l12.3-7.1l3.6-8.8l10.5-3.5l9.2-10.3l6.7-11l8.8-12.3l21.1 0l0 410.2l-74.7 0l.7-42.4zM1223.3 509.6l-5.9-1.8l-1.1 10.6l2.5 8.8l3.5-5.3zM1211 562.6l1.8-8.8l-5.3-8.9l-3.5-7l-2.9 8.8l4.6 10.6zM1218.1 617.4l7-7l-1.8-5.3l-8.8 10.6z" fill="#fff" fill-rule="evenodd"/>
<path class="ct" d="M1299.1 369.9l-8.8 12.3l-6.7 11l-9.2 10.3l-10.5 3.5l-3.6 8.8l-12.3 7.1l-10.6 5.3l-3.5 12.4l-1.7 8.8l-8.9 14.2l-5.9 14.1l-8.2 14.2l-7 7.4l-4.6 13.8l-4.9 14.1l-6.4 17.7l1.8 12.4l8.8 10.6l7.1 8.9l7.7 5.3l-2.5 10.6l-5.2 14.1l2.8 10.6l-3.5 12.4l5.9 17.7l3.6 12.4l5.3 15.9l1.7 12.4l12.4 8.8l10.5 5.3l6.4 8.9l-4.6 12.3l1.7 14.2l-.7 21.2M1217.4 507.8l5.9 1.8l-1 12.3l-3.5 5.3l-2.5-8.8l1.1-10.6M1204 537.9l3.5 7l5.3 8.9l-1.8 8.8l-5.3-5.3l-4.6-10.6l2.9-8.8M1223.3 605.1l1.8 5.3l-7 7l-3.6-1.7l8.8-10.6M945 336.3l5.3-1.8l7-3.5l5.3 2.8l5.3-5.7l5.3 2.9l5.3-5.3l5.2 1.7l5.3-7.8l3.5 4.3l5.3-1.8l3.6 6l7-.7l5.3 5.3l3.5-1.7l3.5 6.3l7.1 1.4l8.8-2.4l8.8 3.5l-1.8 5.3l-10.5 0l-8.8 3.5l-3.6 7.1l.7 10.6l-5.9 10.6l-5.3 8.9l-3.6 10.6l-5.2 7.1l5.2 5.3l7.1 1.7l-3.5 5.3l-10.6-3.5l-7.1 8.8l-7-1.7l-5.3 5.3l-3.5 14.1l-3.5-12.3l-7.1-5.4l-8.8 3.6l-5.3-5.3l-7 7.1l-5.3-8.9l-3.5-10.6l1.7-12.4l1.8-14.1l-2.8-10.6l2.8-10.6l-1.8-10.7l7.1-12.3M853.4 453l8.8 37.1l5.3 21.2l3.5 21.3l12.3 24.7l12.4 23l7 23l8.8 21.2l5.3 17.7l-14.1 1.8l-8.8-19.5l-10.6-28.3l-15.8-21.2l-14.1-24.8l-3.6-31.8l-5.2-31.8l3.5-24.8l5.3-8.8M1015.5 670.5l12.3 5.3l10.6 23l1.7 24.7l10.6 19.5l-1.8 15.9M1015.5 670.5l1.7 17.7l7.1 21.2l3.5 24.7l-3.5 24.8M1082.4 171.8l7 1.8l5.3 12.4l0 21.2l8.8 17.7l8.9 17.6l-3.6 7.1l-7-8.8l-10.6-12.4l-3.5-21.2l-7.1-17.7l1.8-17.7M888.6 295.6l15.9-23l14.1-15.9l8.8-5.3l-1.8 8.8l-10.6 17.7l-12.3 14.2l-8.8 5.3l-5.3-1.8M856.9 343.3l8.8-5.3l5.3 7.1l-5.3 10.6l-7-1.7l-1.8-10.7M841 392.9l8.8 3.5l1.8 12.4l-7 12.3l-7.1-1.7l1.8-14.2l1.7-12.3M957.3 274.4l10.6-5.3l7 8.8l8.8-7.1l12.4 1.8l-3.6 8.8l1.8 7.1l-10.6 1.8l-5.2-5.3l-10.6 0l-5.3-5.3l-5.3-5.3M939.7 603.3l8.8 5.3l12.3 12.4l10.6 12.3l-3.5 5.4l-10.6-7.1l-10.6-10.6l-7-8.9l0-8.8M821.7 636.9l15.8-1.8l8.8 14.2l-5.3 17.6l-14.1-3.5l-7-10.6l1.8-15.9M858.7 720l12.3 3.5l1.7 14.2l-10.5 3.5l-5.3-10.6l1.8-10.6M1043.6 467.1l8.8-7l10.6-5.4l-1.7 5.4l-10.6 7l-7.1 0M1078.9 454.7l3.5 1.8l0 10.6l-3.5 1.8l0-14.2M1087.7 412.3l3.5 3.5l-1.8 10.7l-3.5-3.6l1.8-10.6"/>
<path class="bd" d="M805.8 180.3l14.1 2.1l12.3-7.1l8.8 2.9l12.4-7.1l8.8 4.2l8.8 5l12.3 12.7l12.4 12.1l12.3 4.9l14.1-9.2l10.5 3.6l14.1 4.2l14.1-5.7l14.1-2.1l14.1-.7l14.1-2.1l14.1-11.3M1017.2 186.7l17.6-18.4l17.6-19.5l8.9-8.8l-3.6-7.1l-5.3-10.6M1061.3 140l10.5 3.5l7.1 3.6l3.5 12.3l3.5 12.4l8.8 5.3l24.7 1.1l14.1 9.5l14.1 8.9l14.1 9.2l14.1 .7l17.6 3.5l19.4 2.8l10.5-12.7l19.4-10.6l14.1-5.7l12.3 10.6l26.5-.3l3.5-2.8M1295.6 194.1l-17.6 23.7l-14.1 17l0 129.8l19.7 28.6M1017.2 186.7l5.3 11.6l8.8 8.9l1.8 14.1l10.5 12.4l7.1 14.2l1.7 17.6l-5.2 15.9l-8.8 14.2l-10.6 14.1l-7.1 10.7l-5.2 7M1019 370.9l33.4 18.4l35.3 19.5l35.2 21.2l21.2 11.3l5.2 11.7l-3.5 7.1l7.1 5.3l22.9 15.9l26.4 18M892.1 372.3l10.6-2.4l35.9 0M908 210l-5.3 18.4l1.8 19.5l15.8 8.8M890.4 292.1l-7.1 10.6l-8.8 10.6l-3.5 17.7l-7.1 17.6l-1.7 17.7l0 15.9M862.2 382.2l12.3 3.6l8.8-5.3l8.8-8.2M892.1 372.3l10.6 11.7l3.5 19.5l-1.7 14.1l-8.8 1.8M895.7 419.4l-12.4-1.8l-8.8 1.8l-1.8 12.4l-17.6 2.4l-12.3-7.7l-6-3.6M836.8 422.9l7.8-14.1l1.7-14.2l7.1-7l8.8-5.4M895.7 419.4l-3.6 12.4l14.1 15.9l-10.5 12.4l-12.4 17.6l-8.8 10.6l-10.6 3.9M836.8 422.9l6 12.4l6 15.9l1 19.5l5.3 21.2M805.8 638.7l10.6-1.8l21.1-2.5l24.7-4.6l24.6-3.5l15.9-1.8M825.2 659.9l3.5 19.4l-1.8 19.5l1.8 14.1l-5.3 17.7l-3.5 17.7l0 10.6M916.8 638.7l15.8 8.8l14.1 7.1l17.7 7l15.8 5.3M980.2 666.9l12.3 3.6l14.1 3.5l8.9-2.8M980.2 666.9l10.6 8.9l3.5 12.4l8.8 14.1l-7 14.2l-5.3 14.1l1.7 14.2l-1.7 14.1M1050.7 743.7l15.8 1.1l14.1-10.7l14.1 10.7l14.1 3.5l17.6-1.8l14.1-1.7l14.1-10.7l14.1 0l17.6-1.7l17.7-7.1l17.6-7.1l10.6-5.3l10.5-9.9M1050.7 743.7l-10.6 1.1l-1.7 14.1"/>
<path d="M911.5 723.5l0-35.3l35.2 0l0 35.3zM841 652.8l35.3 0l0 35.4l-35.3 0zM805.8 546.7l0-35.4l0-35.3l0-35.4l0-35.4l0-35.3l0-35.4l0-35.4l0-35.3l0-35.4l0-35.4l0-35.3l0-35.4l493.3 0l0 35.4l0 35.3l0 35.4l0 35.4l0 35.3l0 35.4l0 35.4l-35.2 0l0-35.4l-35.3 0l0-35.4l-140.9 0l0-35.3l-35.3 0l0 35.3l0 35.4l35.3 0l0 35.4l35.2 0l0 35.3l0 35.4l-70.5 0l0 35.4l0 35.3l-70.4 0l0 35.4l-70.5 0l0 35.4l-35.2 0l0 35.3l-70.5 0l0-35.3zM1158.2 263.8l0-35.4l-35.3 0l0 35.4zM1017.2 652.8l0-35.4l35.2 0l0-35.3l0-35.4l0-35.4l35.3 0l0-35.3l105.7 0l0 35.3l0 13.9l-.7 2l-6.4 17.7l1.8 12.4l5.3 6.4l0 18.4l18.3 0l-2.5 10.6l-5.2 14.1l2.8 10.6l-3.5 12.4l5.9 17.7l3.6 12.4l5.3 15.9l1.7 12.4l12.4 8.8l10.5 5.3l6.4 8.9l-4.6 12.3l1.7 14.2l-.3 21.2l-263.9 0l0-35.4l0-35.3l0-35.4zM1193.4 440.6l35.2 0l0 14.5l-5.3 8.5l-5.2 12.4l-24.7 0zM1225.1 610.4l-7 7l-3.6-1.7l8.8-10.6z" fill="url(#h_b)" fill-rule="evenodd"/>
<path d="M895.9 127h0m32.8 0h0m32.8 0h0m32.8 0h0m32.8 0h0m32.8 0h0m32.8 0h0m32.8 0h0m32.8 0h0m32.8 0h0m32.8 0h0m32.8 0h0m32.8 0h0m-410 16.4h0m32.8 0h0m32.8 0h0m32.8 0h0m32.8 0h0m32.8 0h0m32.8 0h0m32.8 0h0m32.8 0h0m32.8 0h0m32.8 0h0m32.8 0h0m32.8 0h0m-377.2 16.5h0m32.8 0h0m32.8 0h0m32.8 0h0m32.8 0h0m32.8 0h0m32.8 0h0m32.8 0h0m32.8 0h0m32.8 0h0m32.8 0h0m32.8 0h0m32.8 0h0m-410 16.4h0m32.8 0h0m32.8 0h0m32.8 0h0m32.8 0h0m32.8 0h0m32.8 0h0m32.8 0h0m32.8 0h0m32.8 0h0m32.8 0h0m32.8 0h0m32.8 0h0m-377.2 16.4h0m32.8 0h0m32.8 0h0m32.8 0h0m32.8 0h0m32.8 0h0m32.8 0h0m32.8 0h0m32.8 0h0m32.8 0h0m32.8 0h0m32.8 0h0m32.8 0h0m-475.6 16.5h0m32.8 0h0m32.8 0h0m32.8 0h0m32.8 0h0m32.8 0h0m32.8 0h0m32.8 0h0m32.8 0h0m32.8 0h0m32.8 0h0m32.8 0h0m32.8 0h0m32.8 0h0m32.8 0h0m-442.8 16.4h0m32.8 0h0m32.8 0h0m32.8 0h0m32.8 0h0m32.8 0h0m32.8 0h0m32.8 0h0m32.8 0h0m32.8 0h0m32.8 0h0m32.8 0h0m32.8 0h0m32.8 0h0m32.8 0h0m-475.6 16.4h0m32.8 0h0m32.8 0h0m32.8 0h0m32.8 0h0m32.8 0h0m32.8 0h0m32.8 0h0m32.8 0h0m32.8 0h0m32.8 0h0m65.6 0h0m32.8 0h0m32.8 0h0m-442.8 16.4h0m32.8 0h0m32.8 0h0m32.8 0h0m32.8 0h0m32.8 0h0m32.8 0h0m32.8 0h0m32.8 0h0m131.2 0h0m32.8 0h0m32.8 0h0m-475.6 16.5h0m32.8 0h0m32.8 0h0m32.8 0h0m32.8 0h0m32.8 0h0m32.8 0h0m32.8 0h0m131.2 0h0m32.8 0h0m32.8 0h0m32.8 0h0m-442.8 16.4h0m32.8 0h0m32.8 0h0m32.8 0h0m32.8 0h0m32.8 0h0m32.8 0h0m65.6 0h0m65.6 0h0m32.8 0h0m32.8 0h0m32.8 0h0m32.8 0h0m-475.6 16.4h0m32.8 0h0m32.8 0h0m32.8 0h0m32.8 0h0m32.8 0h0m32.8 0h0m32.8 0h0m32.8 0h0m32.8 0h0m131.2 0h0m32.8 0h0m-442.8 16.5h0m32.8 0h0m32.8 0h0m32.8 0h0m32.8 0h0m32.8 0h0m32.8 0h0m65.6 0h0m164 0h0m32.8 0h0m-475.6 16.4h0m32.8 0h0m32.8 0h0m32.8 0h0m32.8 0h0m32.8 0h0m32.8 0h0m32.8 0h0m32.8 0h0m32.8 0h0m98.4 0h0m32.8 0h0m32.8 0h0m-442.8 16.4h0m32.8 0h0m32.8 0h0m32.8 0h0m32.8 0h0m32.8 0h0m32.8 0h0m32.8 0h0m32.8 0h0m131.2 0h0m32.8 0h0m32.8 0h0m-475.6 16.4h0m32.8 0h0m32.8 0h0m32.8 0h0m32.8 0h0m32.8 0h0m32.8 0h0m32.8 0h0m32.8 0h0m32.8 0h0m32.8 0h0m65.6 0h0m65.6 0h0m-442.8 16.5h0m32.8 0h0m32.8 0h0m32.8 0h0m32.8 0h0m32.8 0h0m32.8 0h0m32.8 0h0m32.8 0h0m32.8 0h0m98.4 0h0m65.6 0h0m-475.6 16.4h0m32.8 0h0m32.8 0h0m32.8 0h0m32.8 0h0m32.8 0h0m32.8 0h0m32.8 0h0m32.8 0h0m32.8 0h0m98.4 0h0m32.8 0h0m32.8 0h0m-442.8 16.4h0m32.8 0h0m32.8 0h0m32.8 0h0m32.8 0h0m32.8 0h0m32.8 0h0m32.8 0h0m32.8 0h0m131.2 0h0m32.8 0h0m-442.8 16.5h0m32.8 0h0m32.8 0h0m32.8 0h0m32.8 0h0m32.8 0h0m32.8 0h0m32.8 0h0m32.8 0h0m32.8 0h0m98.4 0h0m-377.2 16.4h0m32.8 0h0m32.8 0h0m32.8 0h0m32.8 0h0m32.8 0h0m32.8 0h0m32.8 0h0m32.8 0h0m32.8 0h0m32.8 0h0m32.8 0h0m32.8 0h0m-410 16.4h0m32.8 0h0m32.8 0h0m32.8 0h0m32.8 0h0m65.6 0h0m32.8 0h0m32.8 0h0m32.8 0h0m32.8 0h0m32.8 0h0m32.8 0h0m-377.2 16.5h0m32.8 0h0m32.8 0h0m65.6 0h0m32.8 0h0m32.8 0h0m65.6 0h0m32.8 0h0m32.8 0h0m32.8 0h0m-377.2 16.4h0m32.8 0h0m32.8 0h0m131.2 0h0m32.8 0h0m65.6 0h0m32.8 0h0m32.8 0h0m-344.4 16.4h0m32.8 0h0m65.6 0h0m131.2 0h0m32.8 0h0m32.8 0h0m32.8 0h0m32.8 0h0m-377.2 16.5h0m32.8 0h0m65.6 0h0m32.8 0h0m131.2 0h0m32.8 0h0m32.8 0h0m32.8 0h0m-344.4 16.4h0m32.8 0h0m32.8 0h0m164 0h0m32.8 0h0m32.8 0h0m32.8 0h0m32.8 0h0m-377.2 16.4h0m32.8 0h0m32.8 0h0m196.8 0h0m32.8 0h0m32.8 0h0m32.8 0h0m-344.4 16.4h0m32.8 0h0m229.6 0h0m32.8 0h0m32.8 0h0m32.8 0h0m-377.2 16.5h0m32.8 0h0m262.4 0h0m32.8 0h0m32.8 0h0m32.8 0h0m-344.4 16.4h0m196.8 0h0m32.8 0h0m32.8 0h0m32.8 0h0m32.8 0h0m-344.4 16.4h0m229.6 0h0m32.8 0h0m32.8 0h0m32.8 0h0m32.8 0h0m-344.4 16.5h0m196.8 0h0m32.8 0h0m32.8 0h0m32.8 0h0m32.8 0h0m-278.8 16.4h0m32.8 0h0m65.6 0h0m32.8 0h0m32.8 0h0m32.8 0h0m32.8 0h0m32.8 0h0m32.8 0h0m-278.8 16.4h0m65.6 0h0m32.8 0h0m32.8 0h0m32.8 0h0m32.8 0h0m32.8 0h0m32.8 0h0m-213.2 16.4h0m32.8 0h0m32.8 0h0m32.8 0h0m32.8 0h0m32.8 0h0m32.8 0h0m32.8 0h0m32.8 0h0m-278.8 16.5h0m32.8 0h0m32.8 0h0m32.8 0h0m32.8 0h0m32.8 0h0m32.8 0h0m32.8 0h0m32.8 0h0m-311.6 16.4h0m32.8 0h0m32.8 0h0m32.8 0h0m32.8 0h0m32.8 0h0m32.8 0h0m32.8 0h0m32.8 0h0m65.6 0h0m-311.6 16.4h0m32.8 0h0m32.8 0h0m32.8 0h0m32.8 0h0m32.8 0h0m32.8 0h0m32.8 0h0m32.8 0h0" stroke="#000" stroke-width="8.5" stroke-linecap="round" fill="none"/>
<path d="M830.3 159.9h0m32.8 0h0m-49.2 16.4h0m32.8 0h0m-16.4 16.4h0m32.8 0h0m311.6 49.3h0m-49.2 16.4h0m32.8 0h0m32.8 0h0m-114.8 16.5h0m32.8 0h0m32.8 0h0m-82 16.4h0m65.6 0h0m-65.6 32.9h0m180.4 49.2h0m16.4 16.5h0m-278.8 82.1h0m-49.2 16.5h0m-16.4 16.4h0m32.8 0h0m32.8 0h0m-16.4 16.4h0m16.4 16.5h0m49.2 49.2h0m32.8 0h0m-16.4 16.5h0m32.8 0h0m-246 16.4h0m65.6 0h0m32.8 0h0m98.4 0h0m-213.2 16.4h0m65.6 0h0m32.8 0h0m32.8 0h0m98.4 0h0m-213.2 16.5h0m65.6 0h0m32.8 0h0m98.4 0h0m-114.8 49.2h0m32.8 0h0m-16.4 16.5h0" stroke="#1a1af0" stroke-width="8.5" stroke-linecap="round" fill="none"/>
<path d="M1174.7 307.7h0m-16.4 16.5h0m32.8 0h0m-16.4 49.2h0m-16.4 16.5h0m32.8 0h0m-311.6 312.1h0m16.4 16.5h0" stroke="#75d3ff" stroke-width="8.5" stroke-linecap="round" fill="none"/>
<path d="M1141.9 340.6h0m32.8 0h0m-49.2 16.4h0m32.8 0h0m32.8 0h0m-49.2 49.3h0m32.8 0h0m-49.2 16.4h0m32.8 0h0m32.8 0h0m-49.2 16.5h0m32.8 0h0m-114.8 49.3h0m16.4 16.4h0m-180.4 16.4h0m-16.4 16.5h0m49.2 16.4h0m32.8 0h0m-49.2 16.4h0m32.8 0h0m32.8 0h0m-164 98.6h0m32.8 0h0m32.8 0h0m98.4 0h0m-147.6 16.4h0m32.8 0h0m32.8 0h0m65.6 0h0m-114.8 16.4h0m16.4 16.5h0m344.4 16.4h0m16.4 16.4h0" stroke="#3d87ff" stroke-width="8.5" stroke-linecap="round" fill="none"/>
</g>
<path class="tk" d="M805.8 105.8v16.5M805.8 758.9v16.5M946.7 105.8v16.5M946.7 758.9v16.5M1087.7 105.8v16.5M1087.7 758.9v16.5M1228.6 105.8v16.5M1228.6 758.9v16.5M789.3 193h16.5M1299.1 193h16.5M789.3 334.5h16.5M1299.1 334.5h16.5M789.3 476h16.5M1299.1 476h16.5M789.3 617.4h16.5M1299.1 617.4h16.5M789.3 758.9h16.5M1299.1 758.9h16.5"/>
<rect class="fr" x="805.8" y="122.3" width="493.3" height="636.6"/>
<text x="803.8" y="81" font-size="50">b) R95p</text>
<text x="764.5" y="207.4" font-size="40" text-anchor="end">4N</text>
<text x="764.5" y="348.8" font-size="40" text-anchor="end">0</text>
<text x="764.5" y="490.3" font-size="40" text-anchor="end">4S</text>
<text x="764.5" y="631.8" font-size="40" text-anchor="end">8S</text>
<text x="764.5" y="773.2" font-size="40" text-anchor="end">12S</text>
<text x="805.8" y="835.4" font-size="40" text-anchor="middle">28E</text>
<text x="946.7" y="835.4" font-size="40" text-anchor="middle">32E</text>
<text x="1087.7" y="835.4" font-size="40" text-anchor="middle">36E</text>
<text x="1228.6" y="835.4" font-size="40" text-anchor="middle">40E</text>
<text x="1052.4" y="874.5" font-size="48.5" text-anchor="middle">mm</text>
<g class="cbx">
<path d="M803.3 881.7L756.4 899.1L803.3 916.5Z" fill="#ffac75"/>
<rect x="803.3" y="881.7" width="49.7" height="34.8" fill="#ffd699"/>
<rect x="853" y="881.7" width="49.7" height="34.8" fill="#fff1bc"/>
<rect x="902.8" y="881.7" width="49.7" height="34.8" fill="#eaffff"/>
<rect x="952.5" y="881.7" width="49.7" height="34.8" fill="#bcf9ff"/>
<rect x="1002.2" y="881.7" width="49.7" height="34.8" fill="#99eaff"/>
<rect x="1051.9" y="881.7" width="49.7" height="34.8" fill="#75d3ff"/>
<rect x="1101.7" y="881.7" width="49.7" height="34.8" fill="#56b0ff"/>
<rect x="1151.4" y="881.7" width="49.7" height="34.8" fill="#3d87ff"/>
<rect x="1201.1" y="881.7" width="49.7" height="34.8" fill="#2857ff"/>
<rect x="1250.9" y="881.7" width="49.7" height="34.8" fill="#181cf7"/>
<path d="M1300.6 881.7L1349 899.1L1300.6 916.5Z" fill="#2400d8"/>
</g>
<text x="803.3" y="964" font-size="48" text-anchor="middle">-0.2</text>
<text x="902.8" y="964" font-size="48" text-anchor="middle">0</text>
<text x="1002.2" y="964" font-size="48" text-anchor="middle">0.2</text>
<text x="1101.7" y="964" font-size="48" text-anchor="middle">0.4</text>
<text x="1201.1" y="964" font-size="48" text-anchor="middle">0.6</text>
<text x="1300.6" y="964" font-size="48" text-anchor="middle">0.8</text>
</g>
<g id="p_c">
<g clip-path="url(#c_c)">
<rect x="1480.9" y="122.3" width="484.2" height="623.1" fill="#fff1bc"/>
<path d="M1965.4 258.1l-15.8 1.6l-5.4 3.1l-12.1 13.5l-8.3 22.1l-8.3 11.1l-.2 27.6l.4 5.6l9.3 5.5l9.4 11l31 8.1l0 378.4l-484.8 0l0-623.7l484.8 0zM1897.9 364.8l-7.1 5.5l-2.8 5.5l.7 11.1l6.3 7.7l5.5 2.2l5.4-.4l5.5-2.7l6.3-6.8l1.9-5.6l-.3-5.5l-7.9-9.1l-5.5-2.5z" fill="#eaffff" fill-rule="evenodd"/>
<path d="M1612.7 171.3l8.1 5.5l12.1 19.4l21.8 10.6l16.4 11.6l21.9 12.5l14.5 12.3l7.3 2.5l21.9 .9l5.4 4.9l12.9 35.9l.7 22.1l2.8 8.3l10.3 8.3l25.5 11l3.6 5.6l-1.6 11l-8.3 22.1l-.5 11.1l5.4 27.6l3.8 6.8l8.7 9.8l1.6 5.5l1.1 11.1l-3.3 11l2.8 6.9l5.5 1.9l16.4-2.7l21.8 5.4l16.4 .8l10.9-3.8l11-9.5l5.4-.9l27.3 12.2l43.1 .9l0 275.8l-334.6 0l-1.3-10.6l-2.3-5.6l-5.8-5.5l-10.3-3l-5.5 .1l-5.5 2.3l-22.1 22.3l-97.4 0l0-539.1l10.3 .3l10.9-3.6l5.5 3l16.4 20l5.4 3.2l11-.1l11-8.3l10.8-18.2l5.5-3.9l5.4-.8l10.9 1.7l5.5-2l8.1-10l3.3-11.1l5-5.3zM1551 260.5l-6.3 10.3l-5.6 27.6l1.2 5.6l10.7 17.9l3.6 9.7l4.3 27.6l-3.5 22.1l5.1 16.6l12.3 13.3l32.8 20l12.3 16.5l6 5.5l22.5 11l2 5.6l0 16.6l2.7 5.5l23 16.6l13.4 19.8l5.5 3.2l21.8 5.9l4.7 4.2l5 11.1l-.6 27.6l4.6 16.6l8.2 10.7l5.4 2.8l10.9-5l9.4-8.5l1.6-5.5l.8-16.6l-6.9-16.6l-1.4-11l12.1-22.2l1.7-5.5l.7-16.6l-1.6-6.5l-3.8-4.5l-16.6-5.5l-5.2-5.6l5.3-27.6l-3.7-11.1l-8.7-8.7l-11-4.5l-27.3 2.6l-16.4-.2l-4.8 5.3l-6.1 13.1l-5.4-.2l-.8-12.9l-3.3-5.5l-6.9-5.2l-5.4-1.4l-16.4 .3l-16.4-5.7l-4.8-4.6l-2.8-5.5l-3.3-27.7l-11.2-22.1l-4-27.6l-6.5-16.6l-.8-11l2.9-22.1l-.8-5.6l-6.3-11l-11.5-8.5l-11 .2zM1540.7 502.9l-3.6 11.1l8.7 16.6l5.2 6.2l27.1 15.9l8.6 16.6l8 6.5l10.9 3l5.5-1.6l5.4-4.3l4.7-9.2l-.1-5.5l-13.1-22.1l2.8-16.6l-3.5-5.5l-7.2-1.5l-10.9 .6l-16.4-4.6l-13.4-5.6l-8.4-9.4l-5.5 3.4zM1860.1 122l-.9 10.6l3.1 7.4l5.4 6.4l5.7 2.8l-5.7 11.6l-27.3 .2l-21.8-8l-21.9-5.5l-10.6 1.7l-11.2 7.8l-5.5 .3l-16.4-8.5l-19.2-5.1l-4.5-5.5l3.5-16.2z" fill="#bcf9ff" fill-rule="evenodd"/>
<path d="M1703.9 699l5.4 6.4l6.3 24.1l-.7 5.6l-3.7 5.5l-1.9 2.2l-5.4 1.4l-6.6-3.6l-4.9-33.2l.9-5.5l5.1-3.5zM1497.4 326.1l4 5.5l5.8 16.6l16.5 18.9l3.3 8.7l1.8 11.1l-1.5 11l-7.7 16.6l1.5 22.1l-1.4 11.1l-2.1 5.5l-4.8 6l-5.5 1.6l-26.7-7.1l0-109.7l4.9-14.9l5.4-3.8zM1701.3 304l1.6 16.5l-20.1 22.2l-3 5.5l-1.1 11l2.8 22.1l-2.1 5.6l-7.2 5.5l-28.4 9.8l-5.4 .7l-5.5-1.4l-5.5-4.5l-5.4-8.8l-8.2-23.4l-1.7-16.6l4.6-16.6l5.3-6.7l5.4-3.4l17.8-6.5l20.5-13l10.9-2.1l10.9 .4l10.9-2.7z" fill="#99eaff" fill-rule="evenodd"/>
<path d="M1632.9 346.9l5.5-2.3l5.4 2.3l12.6 23.4l.9 5.5l-3 5.5l-5 2.9l-5.5 1.9l-5.4-.5l-5.4-4.3l-2.6-5.5l-2.4-16.6z" fill="#75d3ff" fill-rule="evenodd"/>
<path d="M1911.5 710.8l4.5-12.1l-6.2-8.7l-10.4-5.2l-12.1-8.6l-1.7-12.1l-5.2-15.6l-3.5-12.1l-5.9-17.4l3.5-12.1l-2.8-10.4l5.2-13.8l2.4-10.4l-7.6-5.2l-6.9-8.6l-8.6-10.4l-1.8-12.1l6.3-17.3l4.8-13.9l4.5-13.5l6.9-7.3l8-13.8l5.8-13.8l8.7-13.9l1.7-8.6l3.5-12.2l10.4-5.2l12.1-6.9l3.4-8.6l10.4-3.5l9-10l6.6-10.8l8.6-12.1l20.8 0l0 401.6l-73.4 0l.7-41.6zM1890.7 501.4l-5.8-1.8l-1.1 10.4l2.4 8.7l3.5-5.2zM1878.6 553.3l1.8-8.7l-5.2-8.6l-3.5-7l-2.7 8.7l4.4 10.4zM1885.6 606.9l6.9-6.9l-1.8-5.2l-8.6 10.4z" fill="#fff" fill-rule="evenodd"/>
<path class="ct" d="M1965.1 364.6l-8.6 12.1l-6.6 10.8l-9 10l-10.4 3.5l-3.4 8.6l-12.1 6.9l-10.4 5.2l-3.5 12.2l-1.7 8.6l-8.7 13.9l-5.8 13.8l-8 13.8l-6.9 7.3l-4.5 13.5l-4.8 13.9l-6.3 17.3l1.8 12.1l8.6 10.4l6.9 8.6l7.6 5.2l-2.4 10.4l-5.2 13.8l2.8 10.4l-3.5 12.1l5.9 17.4l3.5 12.1l5.2 15.6l1.7 12.1l12.1 8.6l10.4 5.2l6.2 8.7l-4.5 12.1l1.7 13.8l-.7 20.8M1884.9 499.6l5.8 1.8l-1 12.1l-3.5 5.2l-2.4-8.7l1.1-10.4M1871.7 529l3.5 7l5.2 8.6l-1.8 8.7l-5.2-5.2l-4.4-10.4l2.7-8.7M1890.7 594.8l1.8 5.2l-6.9 6.9l-3.5-1.7l8.6-10.4M1617.5 331.7l5.2-1.7l6.9-3.5l5.2 2.8l5.2-5.5l5.2 2.7l5.2-5.2l5.2 1.8l5.1-7.6l3.5 4.1l5.2-1.7l3.5 5.9l6.9-.7l5.2 5.2l3.4-1.8l3.5 6.3l6.9 1.4l8.6-2.5l8.7 3.5l-1.7 5.2l-10.4 0l-8.7 3.4l-3.4 7l.7 10.4l-5.9 10.3l-5.2 8.7l-3.5 10.4l-5.1 6.9l5.1 5.2l7 1.7l-3.5 5.2l-10.4-3.4l-6.9 8.6l-6.9-1.7l-5.2 5.2l-3.5 13.8l-3.4-12.1l-6.9-5.2l-8.7 3.5l-5.2-5.2l-6.9 6.9l-5.2-8.7l-3.4-10.3l1.7-12.2l1.7-13.8l-2.7-10.4l2.7-10.4l-1.7-10.4l6.9-12.1M1527.6 446l8.6 36.3l5.2 20.8l3.5 20.8l12.1 24.2l12.1 22.5l6.9 22.5l8.7 20.8l5.1 17.3l-13.8 1.7l-8.6-19l-10.4-27.7l-15.6-20.8l-13.8-24.2l-3.5-31.2l-5.2-31.1l3.5-24.3l5.2-8.6M1686.7 658.9l12.1 5.2l10.4 22.5l1.7 24.2l10.4 19l-1.8 15.6M1686.7 658.9l1.7 17.3l6.9 20.7l3.5 24.3l-3.5 24.2M1752.4 170.8l6.9 1.7l5.2 12.1l0 20.8l8.6 17.3l8.7 17.3l-3.5 6.9l-6.9-8.6l-10.4-12.2l-3.4-20.7l-6.9-17.3l1.7-17.3M1562.2 291.9l15.5-22.5l13.9-15.6l8.6-5.1l-1.7 8.6l-10.4 17.3l-12.1 13.9l-8.6 5.2l-5.2-1.8M1531 338.7l8.7-5.2l5.2 6.9l-5.2 10.4l-6.9-1.8l-1.8-10.3M1515.5 387.1l8.6 3.5l1.8 12.1l-7 12.1l-6.9-1.7l1.8-13.9l1.7-12.1M1629.6 271.2l10.4-5.2l6.9 8.6l8.7-6.9l12.1 1.7l-3.5 8.7l1.7 6.9l-10.3 1.7l-5.2-5.2l-10.4 0l-5.2-5.2l-5.2-5.1M1612.3 593.1l8.7 5.2l12.1 12.1l10.4 12.1l-3.5 5.2l-10.4-6.9l-10.4-10.4l-6.9-8.7l0-8.6M1496.5 626l15.5-1.8l8.7 13.9l-5.2 17.3l-13.8-3.5l-7-10.4l1.8-15.5M1532.8 707.3l12.1 3.5l1.7 13.8l-10.4 3.5l-5.2-10.4l1.8-10.4M1714.4 459.8l8.6-6.9l10.4-5.2l-1.8 5.2l-10.3 6.9l-6.9 0M1748.9 447.7l3.5 1.7l0 10.4l-3.5 1.7l0-13.8M1757.6 406.2l3.4 3.4l-1.7 10.4l-3.4-3.5l1.7-10.3"/>
<path class="bd" d="M1480.9 179.1l13.8 2l12.1-6.9l8.7 2.8l12.1-6.9l8.6 4.1l8.7 4.9l12.1 12.4l12.1 11.8l12.1 4.8l13.8-9l10.4 3.5l13.8 4.2l13.9-5.6l13.8-2.1l13.8-.6l13.9-2.1l13.8-11.1M1688.4 185.3l17.3-18l17.3-19l8.6-8.7l-3.4-6.9l-5.2-10.4M1731.6 139.6l10.4 3.5l6.9 3.4l3.5 12.1l3.5 12.2l8.6 5.2l24.2 1l13.8 9.3l13.9 8.7l13.8 9l13.8 .7l17.3 3.4l19.1 2.8l10.3-12.4l19.1-10.4l13.8-5.6l12.1 10.4l25.9-.3l3.5-2.8M1961.6 192.6l-17.3 23.2l-13.8 16.6l0 127l19.4 28.1M1688.4 185.3l5.2 11.4l8.6 8.7l1.8 13.8l10.4 12.1l6.9 13.9l1.7 17.3l-5.2 15.6l-8.6 13.8l-10.4 13.9l-6.9 10.4l-5.2 6.9M1690.1 365.7l32.9 18l34.6 19l34.6 20.8l20.7 11l5.2 11.5l-3.4 6.9l6.9 5.2l22.4 15.6l26 17.6M1565.6 367l10.4-2.4l35.3 0M1581.2 208.1l-5.2 18l1.7 19.1l15.6 8.6M1563.9 288.5l-6.9 10.3l-8.7 10.4l-3.4 17.3l-6.9 17.3l-1.8 17.4l0 15.5M1536.2 376.7l12.1 3.5l8.7-5.2l8.6-8M1565.6 367l10.4 11.5l3.5 19l-1.8 13.8l-8.6 1.8M1569.1 413.1l-12.1-1.8l-8.7 1.8l-1.7 12.1l-17.3 2.4l-12.1-7.6l-5.9-3.5M1511.3 416.5l7.6-13.8l1.8-13.9l6.9-6.9l8.6-5.2M1569.1 413.1l-3.5 12.1l13.9 15.6l-10.4 12.1l-12.1 17.3l-8.7 10.4l-10.3 3.8M1511.3 416.5l5.9 12.2l5.9 15.5l1 19.1l5.2 20.7M1480.9 627.7l10.4-1.7l20.7-2.5l24.2-4.5l24.2-3.4l15.6-1.7M1499.9 648.5l3.5 19l-1.7 19.1l1.7 13.8l-5.2 17.3l-3.5 17.3l0 10.4M1589.8 627.7l15.6 8.7l13.8 6.9l17.3 6.9l15.6 5.2M1652.1 655.4l12.1 3.5l13.8 3.4l8.7-2.7M1652.1 655.4l10.4 8.7l3.4 12.1l8.7 13.8l-6.9 13.9l-5.2 13.8l1.7 13.9l-1.7 13.8M1721.3 730.5l15.5 1.1l13.9-10.4l13.8 10.4l13.8 3.4l17.3-1.7l13.9-1.7l13.8-10.4l13.8 0l17.3-1.8l17.3-6.9l17.3-6.9l10.4-5.2l10.4-9.7M1721.3 730.5l-10.4 1.1l-1.7 13.8"/>
<path d="M1480.9 641.5l0-34.6l0-34.6l0-34.6l0-34.6l103.8 0l0-34.6l69.1 0l0-34.6l-172.9 0l0-34.7l0-34.6l0-34.6l0-34.6l0-34.6l0-34.7l0-34.6l0-34.6l0-34.6l484.2 0l0 34.6l0 34.6l0 34.6l-34.6 0l0 34.7l-34.6 0l0 34.6l0 34.6l-69.1 0l0-34.6l-34.6 0l0-34.6l-34.6 0l0 34.6l-34.6 0l0 34.6l69.2 0l0 34.6l0 34.6l34.6 0l0 34.7l69.1 0l0 14.1l-5.2 8.4l-5.8 13.8l-8 13.8l-6.9 7.3l-4.5 13.5l-4.8 13.9l-6.3 17.3l1.8 12.1l8.6 10.4l6.9 8.6l7.6 5.2l-2.4 10.4l-5.2 13.8l2.8 10.4l-3.5 12.1l5.9 17.4l3.5 12.1l5.2 15.6l1.7 12.1l12.1 8.6l10.4 5.2l6.2 8.7l-4.5 12.1l1.7 13.8l-.3 20.8l-432 0l0-34.6l0-34.6zM1883.8 510l1.1-10.4l5.8 1.8l-1 12.1l-3.5 5.2zM1871.7 529l3.5 7l5.2 8.6l-1.8 8.7l-5.2-5.2l-4.4-10.4zM1892.5 600l-6.9 6.9l-3.5-1.7l8.6-10.4z" fill="url(#h_c)" fill-rule="evenodd"/>
<path d="M1483.9 126.3h0m32.8 0h0m32.8 0h0m32.8 0h0m32.8 0h0m32.8 0h0m32.8 0h0m32.8 0h0m32.8 0h0m32.8 0h0m32.8 0h0m32.8 0h0m65.6 0h0m32.8 0h0m-442.8 16.4h0m32.8 0h0m32.8 0h0m32.8 0h0m32.8 0h0m32.8 0h0m32.8 0h0m32.8 0h0m32.8 0h0m32.8 0h0m32.8 0h0m32.8 0h0m65.6 0h0m32.8 0h0m-475.6 16.5h0m32.8 0h0m32.8 0h0m32.8 0h0m32.8 0h0m32.8 0h0m32.8 0h0m32.8 0h0m32.8 0h0m32.8 0h0m32.8 0h0m32.8 0h0m98.4 0h0m-442.8 16.4h0m32.8 0h0m32.8 0h0m32.8 0h0m32.8 0h0m32.8 0h0m32.8 0h0m32.8 0h0m32.8 0h0m32.8 0h0m32.8 0h0m32.8 0h0m98.4 0h0m-475.6 16.4h0m32.8 0h0m32.8 0h0m32.8 0h0m32.8 0h0m32.8 0h0m32.8 0h0m32.8 0h0m32.8 0h0m65.6 0h0m32.8 0h0m32.8 0h0m-377.2 16.4h0m32.8 0h0m32.8 0h0m32.8 0h0m32.8 0h0m32.8 0h0m32.8 0h0m32.8 0h0m65.6 0h0m32.8 0h0m32.8 0h0m32.8 0h0m-410 16.5h0m32.8 0h0m32.8 0h0m32.8 0h0m32.8 0h0m32.8 0h0m32.8 0h0m32.8 0h0m32.8 0h0m65.6 0h0m32.8 0h0m32.8 0h0m-377.2 16.4h0m32.8 0h0m32.8 0h0m32.8 0h0m32.8 0h0m32.8 0h0m32.8 0h0m32.8 0h0m98.4 0h0m32.8 0h0m-377.2 16.4h0m32.8 0h0m32.8 0h0m32.8 0h0m32.8 0h0m32.8 0h0m32.8 0h0m32.8 0h0m32.8 0h0m98.4 0h0m32.8 0h0m-377.2 16.5h0m32.8 0h0m32.8 0h0m32.8 0h0m32.8 0h0m32.8 0h0m32.8 0h0m-213.2 16.4h0m32.8 0h0m32.8 0h0m32.8 0h0m32.8 0h0m32.8 0h0m32.8 0h0m32.8 0h0m-213.2 16.4h0m32.8 0h0m32.8 0h0m32.8 0h0m32.8 0h0m32.8 0h0m32.8 0h0m32.8 0h0m32.8 0h0m-278.8 16.5h0m32.8 0h0m32.8 0h0m32.8 0h0m32.8 0h0m32.8 0h0m32.8 0h0m32.8 0h0m32.8 0h0m32.8 0h0m-278.8 16.4h0m32.8 0h0m32.8 0h0m32.8 0h0m32.8 0h0m32.8 0h0m32.8 0h0m32.8 0h0m32.8 0h0m-278.8 16.4h0m32.8 0h0m32.8 0h0m32.8 0h0m32.8 0h0m32.8 0h0m32.8 0h0m32.8 0h0m32.8 0h0m32.8 0h0m-278.8 16.5h0m32.8 0h0m32.8 0h0m32.8 0h0m32.8 0h0m32.8 0h0m32.8 0h0m32.8 0h0m32.8 0h0m32.8 0h0m-311.6 16.4h0m32.8 0h0m32.8 0h0m32.8 0h0m32.8 0h0m32.8 0h0m32.8 0h0m32.8 0h0m32.8 0h0m32.8 0h0m32.8 0h0m-311.6 16.4h0m32.8 0h0m32.8 0h0m32.8 0h0m32.8 0h0m32.8 0h0m32.8 0h0m32.8 0h0m32.8 0h0m32.8 0h0m-311.6 16.4h0m32.8 0h0m32.8 0h0m32.8 0h0m32.8 0h0m32.8 0h0m32.8 0h0m32.8 0h0m32.8 0h0m32.8 0h0m32.8 0h0m-311.6 16.5h0m32.8 0h0m32.8 0h0m32.8 0h0m32.8 0h0m32.8 0h0m32.8 0h0m32.8 0h0m32.8 0h0m32.8 0h0m32.8 0h0m32.8 0h0m-377.2 16.4h0m32.8 0h0m32.8 0h0m32.8 0h0m32.8 0h0m32.8 0h0m32.8 0h0m32.8 0h0m32.8 0h0m32.8 0h0m32.8 0h0m32.8 0h0m-344.4 16.4h0m32.8 0h0m32.8 0h0m32.8 0h0m32.8 0h0m32.8 0h0m32.8 0h0m32.8 0h0m32.8 0h0m32.8 0h0m32.8 0h0m32.8 0h0m-377.2 16.5h0m32.8 0h0m32.8 0h0m32.8 0h0m32.8 0h0m32.8 0h0m32.8 0h0m32.8 0h0m32.8 0h0m32.8 0h0m32.8 0h0m32.8 0h0m32.8 0h0m-377.2 16.4h0m32.8 0h0m32.8 0h0m32.8 0h0m32.8 0h0m32.8 0h0m32.8 0h0m32.8 0h0m32.8 0h0m32.8 0h0m32.8 0h0m32.8 0h0m32.8 0h0m-410 16.4h0m32.8 0h0m32.8 0h0m32.8 0h0m32.8 0h0m32.8 0h0m32.8 0h0m32.8 0h0m32.8 0h0m32.8 0h0m32.8 0h0m32.8 0h0m-344.4 16.4h0m32.8 0h0m32.8 0h0m32.8 0h0m32.8 0h0m32.8 0h0m32.8 0h0m32.8 0h0m32.8 0h0m32.8 0h0m32.8 0h0m-344.4 16.5h0m32.8 0h0m32.8 0h0m32.8 0h0m32.8 0h0m32.8 0h0m32.8 0h0m32.8 0h0m32.8 0h0m32.8 0h0m32.8 0h0m32.8 0h0m32.8 0h0m-377.2 16.4h0m32.8 0h0m32.8 0h0m32.8 0h0m32.8 0h0m32.8 0h0m32.8 0h0m32.8 0h0m32.8 0h0m32.8 0h0m32.8 0h0m32.8 0h0m-377.2 16.4h0m32.8 0h0m32.8 0h0m32.8 0h0m32.8 0h0m32.8 0h0m32.8 0h0m32.8 0h0m32.8 0h0m32.8 0h0m32.8 0h0m32.8 0h0m32.8 0h0m-377.2 16.5h0m32.8 0h0m32.8 0h0m32.8 0h0m32.8 0h0m32.8 0h0m32.8 0h0m32.8 0h0m32.8 0h0m32.8 0h0m32.8 0h0m32.8 0h0m32.8 0h0m-410 16.4h0m32.8 0h0m32.8 0h0m32.8 0h0m32.8 0h0m32.8 0h0m32.8 0h0m32.8 0h0m32.8 0h0m32.8 0h0m32.8 0h0m32.8 0h0m-344.4 16.4h0m32.8 0h0m32.8 0h0m32.8 0h0m32.8 0h0m32.8 0h0m32.8 0h0m32.8 0h0m32.8 0h0m32.8 0h0m32.8 0h0m32.8 0h0m-377.2 16.5h0m32.8 0h0m32.8 0h0m32.8 0h0m32.8 0h0m32.8 0h0m32.8 0h0m32.8 0h0m32.8 0h0m65.6 0h0m32.8 0h0m32.8 0h0m-377.2 16.4h0m32.8 0h0m32.8 0h0m32.8 0h0m32.8 0h0m32.8 0h0m32.8 0h0m32.8 0h0m65.6 0h0m32.8 0h0m32.8 0h0m-377.2 16.4h0m32.8 0h0m32.8 0h0m32.8 0h0m32.8 0h0m32.8 0h0m32.8 0h0m32.8 0h0m32.8 0h0m65.6 0h0m32.8 0h0m32.8 0h0m-377.2 16.4h0m32.8 0h0m32.8 0h0m32.8 0h0m32.8 0h0m32.8 0h0m32.8 0h0m32.8 0h0m65.6 0h0m32.8 0h0m32.8 0h0m32.8 0h0m-410 16.5h0m32.8 0h0m32.8 0h0m32.8 0h0m32.8 0h0m32.8 0h0m32.8 0h0m32.8 0h0m32.8 0h0m32.8 0h0m32.8 0h0m32.8 0h0m32.8 0h0m32.8 0h0m-410 16.4h0m32.8 0h0m32.8 0h0m32.8 0h0m32.8 0h0m32.8 0h0m32.8 0h0m32.8 0h0m32.8 0h0m32.8 0h0m32.8 0h0m32.8 0h0m32.8 0h0" stroke="#000" stroke-width="8.5" stroke-linecap="round" fill="none"/>
<path d="M1877.5 126.3h0m16.4 16.4h0m-16.4 16.5h0m32.8 0h0m-16.4 16.4h0m32.8 0h0m-147.6 16.4h0m131.2 0h0m32.8 0h0m-180.4 16.4h0m164 0h0m32.8 0h0m-180.4 16.5h0m131.2 0h0m32.8 0h0m-180.4 16.4h0m131.2 0h0m32.8 0h0m-147.6 16.4h0m131.2 0h0m-180.4 16.5h0m16.4 16.4h0m82 82.2h0m32.8 0h0m-16.4 16.4h0m-16.4 16.4h0m32.8 0h0m-16.4 16.4h0m49.2 16.5h0m-16.4 16.4h0m-98.4 197.2h0m-16.4 16.4h0m16.4 16.4h0m-16.4 16.4h0" stroke="#1a1af0" stroke-width="8.5" stroke-linecap="round" fill="none"/>
<path d="M1795.5 241.3h0m16.4 16.4h0m-16.4 82.2h0m16.4 16.4h0" stroke="#3d87ff" stroke-width="8.5" stroke-linecap="round" fill="none"/>
</g>
<path class="tk" d="M1480.9 106.1v16.2M1480.9 745.4v16.2M1619.2 106.1v16.2M1619.2 745.4v16.2M1757.6 106.1v16.2M1757.6 745.4v16.2M1895.9 106.1v16.2M1895.9 745.4v16.2M1464.7 191.5h16.2M1965.1 191.5h16.2M1464.7 330h16.2M1965.1 330h16.2M1464.7 468.5h16.2M1965.1 468.5h16.2M1464.7 606.9h16.2M1965.1 606.9h16.2M1464.7 745.4h16.2M1965.1 745.4h16.2"/>
<rect class="fr" x="1480.9" y="122.3" width="484.2" height="623.1"/>
<text x="1478.9" y="84" font-size="49.5">c) R20mm</text>
<text x="1723" y="92" font-size="49.5" text-anchor="middle">.</text>
<text x="1440.9" y="205.7" font-size="39.5" text-anchor="end">4N</text>
<text x="1440.9" y="344.1" font-size="39.5" text-anchor="end">0</text>
<text x="1440.9" y="482.6" font-size="39.5" text-anchor="end">4S</text>
<text x="1440.9" y="621.1" font-size="39.5" text-anchor="end">8S</text>
<text x="1440.9" y="759.5" font-size="39.5" text-anchor="end">12S</text>
<text x="1480.9" y="819.8" font-size="39.5" text-anchor="middle">28E</text>
<text x="1619.2" y="819.8" font-size="39.5" text-anchor="middle">32E</text>
<text x="1757.6" y="819.8" font-size="39.5" text-anchor="middle">36E</text>
<text x="1895.9" y="819.8" font-size="39.5" text-anchor="middle">40E</text>
<text x="1723" y="867.7" font-size="49" text-anchor="middle">days</text>
<g class="cbx">
<path d="M1479.9 885.7L1433.4 902.7L1479.9 919.7Z" fill="#ffac75"/>
<rect x="1479.9" y="885.7" width="48.6" height="34" fill="#ffd699"/>
<rect x="1528.5" y="885.7" width="48.6" height="34" fill="#fff1bc"/>
<rect x="1577.1" y="885.7" width="48.6" height="34" fill="#eaffff"/>
<rect x="1625.8" y="885.7" width="48.6" height="34" fill="#bcf9ff"/>
<rect x="1674.4" y="885.7" width="48.6" height="34" fill="#99eaff"/>
<rect x="1723" y="885.7" width="48.6" height="34" fill="#75d3ff"/>
<rect x="1771.6" y="885.7" width="48.6" height="34" fill="#56b0ff"/>
<rect x="1820.2" y="885.7" width="48.6" height="34" fill="#3d87ff"/>
<rect x="1868.9" y="885.7" width="48.6" height="34" fill="#2857ff"/>
<rect x="1917.5" y="885.7" width="48.6" height="34" fill="#181cf7"/>
<path d="M1966.1 885.7L2013.5 902.7L1966.1 919.7Z" fill="#2400d8"/>
</g>
<text x="1479.9" y="964" font-size="48" text-anchor="middle">-0.4</text>
<text x="1577.1" y="964" font-size="48" text-anchor="middle">0</text>
<text x="1674.4" y="964" font-size="48" text-anchor="middle">0.4</text>
<text x="1771.6" y="964" font-size="48" text-anchor="middle">0.8</text>
<text x="1868.9" y="964" font-size="48" text-anchor="middle">1.2</text>
<text x="1966.1" y="964" font-size="48" text-anchor="middle">1.6</text>
</g>
<g id="p_d">
<g clip-path="url(#c_d)">
<rect x="131.3" y="1070.8" width="481.7" height="622.1" fill="#fff1bc"/>
<path d="M291.4 1070.5l4.6 10.6l10.6 11l22.6 16.6l6.7 16.6l11.8 5.3l10.9-2.7l16.3-10l21.1-9.2l6-4.4l6-6.6l6.1-11.1l2.1-16.1l29.5 0l-11.2 16.1l-.3 5.5l2.5 5.6l8.8 6.8l16.3 4.6l10.9 6.2l18 26.5l8.1 16.6l5.9 5.5l11.4 3.8l10.9 1.2l10.8-2.4l10.9-6.6l4.5-7.1l-.1-5.5l-3.1-5.5l-6.7-4.4l-27.2-5l-5.4-3.9l-6.1-8.8l-3.5-11l.5-5.5l9.4-22.1l-.2-10.6l102.5 0l0 622.7l-482.3 0l0-622.7zM427.1 1147.3l-4.5 5.5l-.7 5.6l1.9 8.7l5.4 5.9l5.4 1.5l10.9-2l3.5-3.1l1.3-5.5l-4.8-9.8l-10.9-7.4zM422.2 1323.9l-2.8 5.5l.2 5.5l4.2 5.9l10.8 1.7l8.7-2l2.2-2.3l.9-8.8l-2.9-5.5l-3.4-2.8l-5.5-2.1l-5.4 .1z" fill="#eaffff" fill-rule="evenodd"/>
<path d="M446.4 1456.3l-1.7 0l-2.9-5.5l3.7-4.6l4.5 4.6zM226 1070.5l4.7 38.2l2.9 5.5l5.4 2.8l5.5 1.4l32.6-14.4l10.8 .1l5.5 3.2l5.4 6.9l5.3 16.6l3.8 5.5l18.1 8.8l10.8 2.9l10.9 .5l38-11.6l10.9 2.3l5.4 5.9l7.4 46.4l0 5.5l-6.6 27.6l1.8 38.6l2.9 12.7l6.4 14.9l.2 5.5l-15.5 27.6l-4.2 11l3.2 11.1l22.5 27.6l1.5 16.5l1.3 5.5l4 5.6l6.5 33.1l-4.2 3.6l-16.3 5.8l-16.8 12.6l-2.2 11.1l1.5 11l9.8 11.1l2.6 5.5l-.1 5.5l-5.9 22.1l-.1 11l5.8 11.4l10.8 9.4l5.5 1.7l5.4-1.8l15.5-20.7l6.2-4.3l5.5-1.4l16.3 .2l16.3-8.3l10.8-3l10.9 .2l5.4 2.1l2.3 3.5l1.5 22l3 11.1l5.4 5.5l18.9 11l3.3 5.5l.4 11.1l-14 66.2l.9 11l9.1 27.2l-415.9 0l0-163.7l15.7-3.6l6.1-3.3l7.3-11.1l2.1-11l-2.7-11l-4.6-5.6l-23.9-11.5l0-401.9zM255.3 1200.5l-24.7 18.6l-1.7 5.5l3.1 11l9.1 16.6l-.5 5.5l-12.4 18.2l-2.1 9.4l9.3 33.1l-7 33.1l4.2 16.6l3.1 27.5l8.8 24.1l2.6 3.5l-2.7 11.1l.5 27.6l3 5.5l7.4 2.3l5.9-2.3l3.9-5.5l1.2-5.6l-3.6-11l-11.1-16.5l.1-11.1l8.6-11l11.3-8.7l16.3-8.1l21.8-6.1l4.3-4.7l6.5-13.1l10.9-6.5l9.4-13.5l8.6-5.5l2.1-11.1l-1.9-11l-6.4-11l-6.4-2.9l-10.8 .1l-5.5-1.7l-5.4-7.2l-16.9-38l-4.8-5.6l-13.8-5.4l-6.5-5.6l-.1-11l4.7-22.1l-1.2-5.5l-4.9-3.4l-10.8-.2zM510.7 1187.4l16.3 1.3l6.4 2.8l4.1 5.5l3.6 38.6l8.2 16.6l11.8 11l2.5 11l-.1 16.6l7.3 5.5l1.3 5.5l-1.7 5.9l-5.4 4.7l-16.3-.7l-5.4 2.3l-7.2 9.9l-.5 11l4.7 22.1l.4 33.1l-6.7 5.5l-23.3 6.1l-16.3 11.4l-5.4 1.3l-5.5-.7l-10.8-6.9l-10.7-11.2l-1.5-5.5l0-5.5l12.2-11.4l6.5-10.7l3.7-22l6.3-16.6l.6-5.5l-1.4-11l-14.2-27.6l.5-5.6l11.6-27.5l-8.2-12l-5.5-4.6l5.5-4l10.9-2.1l5.4-3.9l-2.1-17.6l2.1-7.6l5.4-5.5zM456.9 1224.6l1.6 5.5l-2.1 1.6l-5.5 1.6l-4.2-3.2l4.2-5.8z" fill="#bcf9ff" fill-rule="evenodd"/>
<path d="M440.1 1628.4l16.3-2.8l5.4 2.4l7.5 10.4l1.4 11.1l-2.3 16.5l9.4 16.6l3 10.6l-70.9 0l.3-10.6l-4.1-38.6l1.4-7.9l2.4-3.2l8.4-3.2zM358.6 1452.7l5.4 3.1l5.3 6.1l4 11l1.7 22.1l-2 33.1l2.2 11l11 22.1l0 11l-2.1 11.1l-11 11l-14.5 3.9l-16.3-3.1l-16.3-14.3l-5.5-2.7l-5.4 4.4l-2.4 33.9l4.2 33.1l-1.8 5.5l-5 5.5l-16.7 11.2l-3 5.4l-.8 5.5l.9 10.6l-159.5 0l0-105.2l21.1-4.1l21.8 14.2l38 10.5l38 7.2l10.9-1.2l5.4-2.6l6.1-6.7l1.8-5.5l-.7-27.6l20-46.8l5.4-6.1l5.4-2.8l16.3-1.4l8.6-3.6l3.7-5.5l14.9-46.4l5.4-6.5z" fill="#99eaff" fill-rule="evenodd"/>
<path d="M131 1649.5l21.1 10.3l21.8 .9l15.1 5.3l5.2 5.6l2.7 5.5l1.7 16.1l-67.6 0z" fill="#75d3ff" fill-rule="evenodd"/>
<path d="M559.7 1658.3l4.4-12.1l-6.2-8.6l-10.3-5.2l-12-8.6l-1.7-12.1l-5.2-15.6l-3.4-12.1l-5.9-17.2l3.5-12.1l-2.8-10.4l5.2-13.8l2.4-10.4l-7.6-5.2l-6.9-8.6l-8.6-10.4l-1.7-12.1l6.2-17.3l4.8-13.8l4.5-13.5l6.9-7.2l7.9-13.9l5.8-13.8l8.6-13.8l1.7-8.7l3.5-12l10.3-5.2l12.1-6.9l3.4-8.7l10.3-3.4l9-10.1l6.5-10.7l8.6-12.1l20.6 0l0 400.9l-72.9 0l.7-41.4zM539 1449.2l-5.8-1.7l-1.1 10.4l2.5 8.6l3.4-5.2zM527 1501.1l1.7-8.7l-5.2-8.6l-3.4-6.9l-2.8 8.6l4.5 10.4zM533.9 1554.7l6.8-7l-1.7-5.1l-8.6 10.3z" fill="#fff" fill-rule="evenodd"/>
<path class="ct" d="M613 1312.7l-8.6 12.1l-6.5 10.7l-9 10.1l-10.3 3.4l-3.4 8.7l-12.1 6.9l-10.3 5.2l-3.5 12l-1.7 8.7l-8.6 13.8l-5.8 13.8l-7.9 13.9l-6.9 7.2l-4.5 13.5l-4.8 13.8l-6.2 17.3l1.7 12.1l8.6 10.4l6.9 8.6l7.6 5.2l-2.4 10.4l-5.2 13.8l2.8 10.4l-3.5 12.1l5.9 17.2l3.4 12.1l5.2 15.6l1.7 12.1l12 8.6l10.3 5.2l6.2 8.6l-4.4 12.1l1.7 13.9l-.7 20.7M533.2 1447.5l5.8 1.7l-1 12.1l-3.4 5.2l-2.5-8.6l1.1-10.4M520.1 1476.9l3.4 6.9l5.2 8.6l-1.7 8.7l-5.2-5.2l-4.5-10.4l2.8-8.6M539 1542.6l1.7 5.1l-6.8 7l-3.5-1.8l8.6-10.3M267.2 1279.9l5.2-1.7l6.9-3.5l5.1 2.8l5.2-5.6l5.1 2.8l5.2-5.2l5.2 1.8l5.1-7.6l3.5 4.1l5.1-1.7l3.5 5.8l6.8-.6l5.2 5.1l3.4-1.7l3.5 6.2l6.9 1.4l8.6-2.4l8.6 3.5l-1.8 5.1l-10.3 0l-8.6 3.5l-3.4 6.9l.7 10.4l-5.9 10.3l-5.1 8.7l-3.5 10.3l-5.1 7l5.1 5.1l6.9 1.8l-3.4 5.2l-10.4-3.5l-6.8 8.6l-6.9-1.7l-5.2 5.2l-3.4 13.8l-3.5-12.1l-6.8-5.2l-8.6 3.5l-5.2-5.2l-6.9 6.9l-5.2-8.6l-3.4-10.4l1.7-12.1l1.7-13.8l-2.7-10.4l2.7-10.3l-1.7-10.4l6.9-12.1M177.7 1393.9l8.7 36.3l5.1 20.8l3.5 20.7l12 24.2l12 22.5l6.9 22.4l8.6 20.8l5.2 17.2l-13.8 1.8l-8.6-19l-10.3-27.7l-15.5-20.7l-13.8-24.2l-3.4-31.1l-5.2-31.1l3.5-24.2l5.1-8.7M336 1606.5l12.1 5.2l10.3 22.4l1.7 24.2l10.3 19l-1.7 15.6M336 1606.5l1.7 17.3l6.9 20.7l3.5 24.2l-3.5 24.2M401.4 1119.2l6.9 1.7l5.1 12.1l0 20.7l8.6 17.3l8.6 17.3l-3.4 6.9l-6.9-8.6l-10.3-12.1l-3.4-20.8l-6.9-17.2l1.7-17.3M212.2 1240.1l15.4-22.4l13.8-15.6l8.6-5.2l-1.7 8.7l-10.3 17.3l-12.1 13.8l-8.6 5.2l-5.1-1.8M181.2 1286.8l8.6-5.2l5.2 6.9l-5.2 10.4l-6.9-1.7l-1.7-10.4M165.7 1335.2l8.6 3.4l1.7 12.1l-6.9 12.1l-6.8-1.7l1.7-13.8l1.7-12.1M279.3 1219.4l10.3-5.2l6.9 8.7l8.6-6.9l12 1.7l-3.4 8.6l1.7 6.9l-10.3 1.8l-5.2-5.2l-10.3 0l-5.2-5.2l-5.1-5.2M262 1540.8l8.6 5.2l12.1 12.1l10.3 12.1l-3.4 5.2l-10.3-6.9l-10.4-10.4l-6.9-8.6l0-8.7M146.8 1573.7l15.5-1.8l8.6 13.9l-5.2 17.2l-13.8-3.4l-6.8-10.4l1.7-15.5M182.9 1654.9l12.1 3.4l1.7 13.9l-10.3 3.4l-5.2-10.3l1.7-10.4M363.5 1407.8l8.6-6.9l10.4-5.2l-1.7 5.2l-10.4 6.9l-6.9 0M398 1395.7l3.4 1.7l0 10.4l-3.4 1.7l0-13.8M406.6 1354.2l3.4 3.5l-1.7 10.3l-3.5-3.4l1.8-10.4"/>
<path class="bd" d="M131.3 1127.5l13.8 2.1l12-7l8.6 2.8l12-6.9l8.7 4.1l8.6 4.9l12 12.4l12 11.8l12.1 4.8l13.7-9l10.4 3.5l13.7 4.1l13.8-5.5l13.8-2.1l13.7-.7l13.8-2l13.7-11.1M337.7 1133.7l17.2-18l17.2-19l8.7-8.6l-3.5-6.9l-5.2-10.4M380.8 1088.1l10.3 3.4l6.9 3.5l3.4 12.1l3.4 12.1l8.6 5.2l24.1 1l13.8 9.3l13.7 8.7l13.8 9l13.8 .7l17.2 3.4l18.9 2.8l10.3-12.5l18.9-10.3l13.8-5.6l12.1 10.4l25.8-.3l3.4-2.8M609.6 1141l-17.2 23.1l-13.8 16.6l0 126.8l19.3 28M337.7 1133.7l5.2 11.4l8.6 8.6l1.7 13.9l10.3 12.1l6.9 13.8l1.7 17.3l-5.1 15.5l-8.6 13.8l-10.3 13.9l-6.9 10.3l-5.2 7M339.5 1313.8l32.6 17.9l34.5 19l34.4 20.8l20.6 11l5.2 11.4l-3.5 7l6.9 5.1l22.4 15.6l25.8 17.6M215.6 1315.1l10.3-2.4l35.1 0M231.1 1156.5l-5.2 18l1.7 19l15.5 8.6M213.9 1236.7l-6.9 10.4l-8.6 10.3l-3.4 17.3l-6.9 17.3l-1.7 17.3l0 15.5M186.4 1324.8l12 3.5l8.6-5.2l8.6-8M215.6 1315.1l10.3 11.5l3.5 19l-1.8 13.8l-8.6 1.7M219 1361.1l-12-1.7l-8.6 1.7l-1.7 12.1l-17.2 2.4l-12.1-7.6l-5.8-3.4M161.6 1364.6l7.5-13.9l1.8-13.8l6.8-6.9l8.7-5.2M219 1361.1l-3.4 12.1l13.8 15.6l-10.4 12.1l-12 17.2l-8.6 10.4l-10.3 3.8M161.6 1364.6l5.8 12.1l5.9 15.5l1 19l5.2 20.8M131.3 1575.4l10.3-1.7l20.7-2.5l24.1-4.4l24-3.5l15.5-1.7M150.2 1596.1l3.5 19l-1.8 19l1.8 13.9l-5.2 17.3l-3.4 17.2l0 10.4M239.7 1575.4l15.5 8.6l13.7 6.9l17.2 7l15.5 5.1M301.6 1603l12.1 3.5l13.7 3.5l8.6-2.8M301.6 1603l10.3 8.7l3.5 12.1l8.6 13.8l-6.9 13.8l-5.2 13.9l1.8 13.8l-1.8 13.8M370.4 1678l15.5 1.1l13.8-10.4l13.7 10.4l13.8 3.4l17.2-1.7l13.8-1.7l13.7-10.4l13.8 0l17.2-1.7l17.2-6.9l17.2-6.9l10.3-5.2l10.3-9.7M370.4 1678l-10.3 1.1l-1.7 13.8"/>
<path d="M131.3 1312.7l0-34.5l0-34.6l0-34.6l0-34.5l0-34.6l103.2 0l0 34.6l0 34.5l-34.4 0l0 34.6l0 34.6l0 34.5l-34.4 0l0 34.6l-34.4 0z" fill="url(#h_d)" fill-rule="evenodd"/>
<path d="M142.4 1077.4h0m32.8 0h0m-16.4 16.4h0m32.8 0h0m-49.2 16.5h0m32.8 0h0m32.8 0h0m-49.2 16.4h0m32.8 0h0m32.8 0h0m-82 16.4h0m32.8 0h0m32.8 0h0m-49.2 16.4h0m32.8 0h0m32.8 0h0m-82 16.5h0m32.8 0h0m32.8 0h0m-49.2 16.4h0m32.8 0h0m32.8 0h0m-82 16.4h0m32.8 0h0m32.8 0h0m-49.2 16.5h0m32.8 0h0m32.8 0h0m-82 16.4h0m32.8 0h0m32.8 0h0m-49.2 16.4h0m32.8 0h0m32.8 0h0m-82 16.5h0m32.8 0h0m32.8 0h0m-49.2 16.4h0m32.8 0h0m-49.2 16.4h0m32.8 0h0m-16.4 16.4h0m32.8 0h0m32.8 0h0m-82 16.5h0m32.8 0h0m32.8 0h0m-49.2 16.4h0m32.8 0h0m32.8 0h0m-82 16.4h0m32.8 0h0m32.8 0h0m114.8 16.5h0m32.8 0h0m32.8 0h0m-49.2 16.4h0m32.8 0h0m32.8 0h0m-16.4 16.4h0m-246 16.5h0m65.6 0h0m65.6 0h0m65.6 0h0m65.6 0h0m-213.2 16.4h0m65.6 0h0m82 16.4h0m-16.4 16.4h0m32.8 0h0m32.8 0h0m-180.4 16.5h0m131.2 0h0m32.8 0h0m32.8 0h0m-213.2 16.4h0m32.8 0h0m32.8 0h0m32.8 0h0m32.8 0h0m32.8 0h0m32.8 0h0m-246 16.4h0m65.6 0h0m32.8 0h0m32.8 0h0m32.8 0h0m32.8 0h0m32.8 0h0m32.8 0h0m-213.2 16.5h0m32.8 0h0m32.8 0h0m32.8 0h0m32.8 0h0m32.8 0h0m32.8 0h0m-246 16.4h0m32.8 0h0m32.8 0h0m32.8 0h0m32.8 0h0m32.8 0h0m32.8 0h0m32.8 0h0m32.8 0h0m-246 16.4h0m32.8 0h0m32.8 0h0m32.8 0h0m32.8 0h0m32.8 0h0m32.8 0h0m32.8 0h0m-246 16.5h0m32.8 0h0m32.8 0h0m32.8 0h0m32.8 0h0m32.8 0h0m32.8 0h0m32.8 0h0m32.8 0h0m32.8 0h0m-278.8 16.4h0m32.8 0h0m32.8 0h0m32.8 0h0m32.8 0h0m32.8 0h0m32.8 0h0m32.8 0h0m32.8 0h0m-278.8 16.4h0m32.8 0h0m32.8 0h0m32.8 0h0m32.8 0h0m32.8 0h0m32.8 0h0m32.8 0h0m32.8 0h0m32.8 0h0m32.8 0h0m-311.6 16.4h0m32.8 0h0m32.8 0h0m32.8 0h0m32.8 0h0m32.8 0h0m32.8 0h0m32.8 0h0m32.8 0h0m32.8 0h0m-311.6 16.5h0m32.8 0h0m32.8 0h0m32.8 0h0m32.8 0h0m32.8 0h0m32.8 0h0m32.8 0h0m32.8 0h0m32.8 0h0m32.8 0h0m32.8 0h0m32.8 0h0m-377.2 16.4h0m32.8 0h0m32.8 0h0m32.8 0h0m32.8 0h0m32.8 0h0m32.8 0h0m32.8 0h0m32.8 0h0m32.8 0h0m32.8 0h0m32.8 0h0" stroke="#000" stroke-width="8.5" stroke-linecap="round" fill="none"/>
<path d="M208 1077.4h0m16.4 16.4h0m16.4 49.3h0m16.4 16.4h0m-16.4 16.5h0m32.8 0h0m32.8 0h0m-49.2 16.4h0m32.8 0h0m32.8 0h0m-82 16.4h0m32.8 0h0m32.8 0h0m-49.2 16.5h0m32.8 0h0m32.8 0h0m-82 16.4h0m32.8 0h0m32.8 0h0m-49.2 16.4h0m32.8 0h0m32.8 0h0m32.8 0h0m32.8 0h0m98.4 0h0m-246 16.5h0m32.8 0h0m32.8 0h0m32.8 0h0m32.8 0h0m32.8 0h0m98.4 0h0m-278.8 16.4h0m32.8 0h0m32.8 0h0m32.8 0h0m32.8 0h0m131.2 0h0m32.8 0h0m32.8 0h0m-344.4 16.4h0m32.8 0h0m32.8 0h0m32.8 0h0m32.8 0h0m32.8 0h0m131.2 0h0m32.8 0h0m32.8 0h0m-82 16.4h0m32.8 0h0m-16.4 16.5h0m32.8 0h0m-49.2 16.4h0m16.4 16.4h0m-344.4 16.5h0m32.8 0h0m32.8 0h0m32.8 0h0m-114.8 16.4h0m32.8 0h0m32.8 0h0m32.8 0h0m65.6 0h0m-147.6 16.4h0m32.8 0h0m32.8 0h0m32.8 0h0m32.8 0h0m32.8 0h0m32.8 0h0m-180.4 16.5h0m65.6 0h0m65.6 0h0m65.6 0h0m-213.2 16.4h0m65.6 0h0m65.6 0h0m32.8 0h0m32.8 0h0m32.8 0h0m32.8 0h0m-278.8 16.4h0m32.8 0h0m32.8 0h0m32.8 0h0m32.8 0h0m32.8 0h0m65.6 0h0m32.8 0h0m32.8 0h0m-278.8 16.4h0m32.8 0h0m32.8 0h0m32.8 0h0m32.8 0h0m-147.6 16.5h0m32.8 0h0m65.6 0h0m32.8 0h0m32.8 0h0m-147.6 16.4h0m262.4 0h0m-246 16.4h0m262.4 0h0m-278.8 16.5h0m262.4 0h0m16.4 16.4h0m32.8 0h0m32.8 0h0m-82 16.4h0m32.8 0h0m32.8 0h0m-16.4 16.5h0m32.8 0h0m-49.2 16.4h0m32.8 0h0m16.4 16.4h0m32.8 0h0m-49.2 16.4h0m32.8 0h0m32.8 32.9h0" stroke="#1a1af0" stroke-width="8.5" stroke-linecap="round" fill="none"/>
</g>
<path class="tk" d="M131.3 1054.7v16.1M131.3 1692.9v16.1M268.9 1054.7v16.1M268.9 1692.9v16.1M406.6 1054.7v16.1M406.6 1692.9v16.1M544.2 1054.7v16.1M544.2 1692.9v16.1M115.2 1139.9h16.1M613 1139.9h16.1M115.2 1278.2h16.1M613 1278.2h16.1M115.2 1416.4h16.1M613 1416.4h16.1M115.2 1554.7h16.1M613 1554.7h16.1M115.2 1692.9h16.1M613 1692.9h16.1"/>
<rect class="fr" x="131.3" y="1070.8" width="481.7" height="622.1"/>
<text x="128.7" y="1030.6" font-size="49">d) CDD</text>
<text x="89.5" y="1154.1" font-size="39.5" text-anchor="end">4N</text>
<text x="89.5" y="1292.3" font-size="39.5" text-anchor="end">0</text>
<text x="89.5" y="1430.6" font-size="39.5" text-anchor="end">4S</text>
<text x="89.5" y="1568.8" font-size="39.5" text-anchor="end">8S</text>
<text x="89.5" y="1707" font-size="39.5" text-anchor="end">12S</text>
<text x="131.3" y="1767" font-size="39.5" text-anchor="middle">28E</text>
<text x="268.9" y="1767" font-size="39.5" text-anchor="middle">32E</text>
<text x="406.6" y="1767" font-size="39.5" text-anchor="middle">36E</text>
<text x="544.2" y="1767" font-size="39.5" text-anchor="middle">40E</text>
<text x="372.1" y="1814.5" font-size="49" text-anchor="middle">days</text>
<g class="cbx">
<path d="M128.8 1833.8L82.4 1850.5L128.8 1867.2Z" fill="#ffac75"/>
<rect x="128.8" y="1833.8" width="48.6" height="33.4" fill="#ffd699"/>
<rect x="177.4" y="1833.8" width="48.6" height="33.4" fill="#fff1bc"/>
<rect x="226" y="1833.8" width="48.6" height="33.4" fill="#eaffff"/>
<rect x="274.7" y="1833.8" width="48.6" height="33.4" fill="#bcf9ff"/>
<rect x="323.3" y="1833.8" width="48.6" height="33.4" fill="#99eaff"/>
<rect x="371.9" y="1833.8" width="48.6" height="33.4" fill="#75d3ff"/>
<rect x="420.5" y="1833.8" width="48.6" height="33.4" fill="#56b0ff"/>
<rect x="469.1" y="1833.8" width="48.6" height="33.4" fill="#3d87ff"/>
<rect x="517.8" y="1833.8" width="48.6" height="33.4" fill="#2857ff"/>
<rect x="566.4" y="1833.8" width="48.6" height="33.4" fill="#181cf7"/>
<path d="M615 1833.8L661.5 1850.5L615 1867.2Z" fill="#2400d8"/>
</g>
<text x="128.8" y="1913" font-size="48" text-anchor="middle">-1</text>
<text x="226" y="1913" font-size="48" text-anchor="middle">0</text>
<text x="323.3" y="1913" font-size="48" text-anchor="middle">1</text>
<text x="420.5" y="1913" font-size="48" text-anchor="middle">2</text>
<text x="517.8" y="1913" font-size="48" text-anchor="middle">3</text>
<text x="615" y="1913" font-size="48" text-anchor="middle">4</text>
</g>
<g id="p_e">
<g clip-path="url(#c_e)">
<rect x="805.8" y="1070.8" width="484.3" height="622.1" fill="#ffd699"/>
<path d="M805.5 1290l4.9-13l16.3-10l11-10.8l10.9-4.3l16.4-.4l10.6-4.8l10.8-22.1l1.1-11.1l-12.4-22l-6.4-22.1l-11.5-11l-.5-5.6l2.8-2l21.9-5.3l10.9-.1l16.4 2.9l5.4-2.3l5.5-9.7l.5-11l-6.3-11.1l-5.9-5.5l-20.6-11l-13.2-11.1l-3.5-5.5l-.9-5.5l1.1-5.1l419.6 0l0 622.7l-484.9 0z" fill="#fff1bc" fill-rule="evenodd"/>
<path d="M1059.1 1693.2l-.8-10.6l3.3-11l-3-11.1l-7.9-9.9l-5.5-3.1l-10.9-2.5l-25.2 26.6l-2.5 5.5l-.2 5.5l1.8 10.6l-20.9 0l3.6-10.6l-1.5-5.5l-5.3-5.5l-9.9-6.4l-16.4-6l-9.3 1.3l-5.6 5.5l-4.8 27.2l-24.4 0l-6.7-16.1l-.5-11.1l2.2-7.5l10.9-9.6l-5.5-4.4l-5.4 0l-27.3-7.4l-11-6.9l-9.6-8.3l-12.2-19.3l-5.5-4.1l-37.6-6.7l0-91.5l10.3-.6l5.5-3.7l7.3-17.6l1.4-11l-3.3-8.8l-5.4-6.8l-5.5-4.2l-10.3-3.3l0-122.7l21.2-9.1l22.4-5.1l7.5-5.6l13.8-18.5l11-2.6l21.8 1.9l2.8-2.8l3-22.1l5.4-11l5.8-5.6l21.2-10.7l16.4-11.3l16.4-6.7l3.6-4.4l.7-5.5l-2.8-11l-20.4-22.1l-3.5-22.1l-13-38.6l-5.3-11l-12.3-16.6l-2.6-10.6l371.8 0l0 622.7z" fill="#eaffff" fill-rule="evenodd"/>
<path d="M859.5 1377.6l21.9 6.3l21.8 2.6l5.5 2.1l10.3 29.1l1.2 60.7l-1.4 5.5l-9.5 11.1l-2.1 11l4.4 11l21.4 16.6l5.3 5.5l1 5.5l-1.9 11.1l.5 22l-7.3 16.6l1.6 16.6l-7.1 6.2l-11-.7l-7.9-5.5l-13.9-16.8l-10.7-16.4l-9-27.5l-7.2-5.6l-16.8-5.2l-5.5-3.2l-4.2-8.1l-1-16.6l1.8-11l8.9-24.6l5.4-11l3.4-3l.9-5.6l-1.7-16.5l-2.6-2.6l-10.9-.3l-4-2.6l-3.1-5.5l3.3-33.2l4.5-11l8.6-5.5zM1177 1693.2l5.4-32.7l-1.7-27.6l-6.6-11l-18-11l-6.2-5.6l-4.2-11l-.4-16.6l-1.8-5.5l-4.5-5.5l-39.2-17l-5.4 .2l-5.5 3.5l-10.9 16l-16.4-.9l-16.4-6.2l-5.7-6.6l-2.5-11.1l7.2-11l1.4-5.5l-1.3-11.1l-6.9-16.5l-8.7-11l-5.8-11.1l-12.7-38.6l-5.4-27.6l-3.3-2.6l-5.4-1.3l-5.5 .7l-16.4 6.6l-21.8 13.2l-5.5-1.6l-13.2-9.5l.2-5.5l6.7-11l.2-5.6l-4.4-5.5l-5.9-2.8l-16.4-3.3l-2.9-4.9l.9-49.7l1.8-5.5l4.4-5.5l12.2-7.5l10.9-2.7l11 .1l10.9 3.1l11.8 7l5.8 5.5l2.9 5.5l.8 16.6l2.9 5.5l8.6 6.8l5.4 1.7l5.5-.8l9.4-13.2l8.7-5.5l2-5.6l1.1-27.5l-2.1-5.6l-12.3-16.5l-7.3-22.1l0-5.5l5.5-16.6l1.4-11l-2.8-11l-8.7-16.6l-1.9-16.5l1-5.6l8-11l4.7-11l25.4-27.6l4.5-11.1l-3-5.5l-6.3-2.7l-27.3-3.6l-15.4-4.7l-6.5-5.2l.2-5.9l7.1-11l1.1-10.6l296.9 0l0 622.7zM1061.6 1214l-8 5.1l-3 5.5l-.1 5.5l9.1 16.6l7.5 19.1l5.4 3.6l5.5-1.5l5.5-4.3l3-5.9l-1.1-33.1l-2.9-5.5l-4.5-3l-8.1-2.6zM1117.2 1174.9l-9.2 33.1l.5 5.5l8.7 16.6l2.3 22.1l1.4 5.5l4 5.5l24.1 13.3l10.9 3.5l21.9-2.3l38.2 8.8l5.5-2.1l3.9-4.6l4.5-11.1l.7-11l-4-5.5l-16.1-12.4l-16.3-6.3l-13.8-14.4l-19-13.8l-7.1-8.3l-9.3-19.3l-7.3-8.3l-9.1-4.3l-5.5-.1l-5.4 2.7z" fill="#bcf9ff" fill-rule="evenodd"/>
<path d="M1094.4 1369.8l21.8 3.6l38.3 3.5l21.8 0l21.9-2.6l27.3 4.7l16.4 .2l5.4 1l5.5 3.6l5.4 6.4l7.9 5.4l24.3 1.3l0 73.7l-21.2 1.3l-5.6 23.1l-5.4 5.3l-16.3 2.1l-21.9 17l-32.8 15.7l-10.9-.1l-9.4-12.4l-8.7-5.6l-9.2-1.6l-21.9 .5l-16.3-6l-21.9-2.8l-6.7-6.6l-.5-5.5l1.9-5.5l31.6-55.2l-.2-5.5l-4.2-5.4l-5.5-2.7l-10.9-1.8l-10.9 .6l-6.4-1.8l-1.3-16.5l2.8-22.1l4.9-6.3zM961.2 1362.5l-3.4 3.8l-6.3-3.8l.9-2.6l5.4-2.9zM1099.8 1305.1l6 7.8l3.6 16.5l-4.1 13.1l-5.5 3.6l-5.4-2l-7.3-9.2l-3.6-8.3l-.9-8.2l1-5.5l5.3-7.1l5.5-2.1zM1220.4 1070.5l8.3 21.6l1.7 16.6l-4.8 11l-6.3 5.6l-10.2 6.3l-10.9 3.5l-32.8 .8l-5.5-.8l-7.5-4.3l-2.5-5.5l.5-11.1l2.3-11l8.3-22.1l-.1-10.6z" fill="#99eaff" fill-rule="evenodd"/>
<path d="M1236.5 1658.3l4.5-12.1l-6.2-8.6l-10.4-5.2l-12.1-8.6l-1.8-12.1l-5.2-15.6l-3.4-12.1l-5.9-17.2l3.5-12.1l-2.8-10.4l5.2-13.8l2.4-10.4l-7.6-5.2l-6.9-8.6l-8.7-10.4l-1.7-12.1l6.2-17.3l4.9-13.8l4.5-13.5l6.9-7.2l7.9-13.9l5.9-13.8l8.7-13.8l1.7-8.7l3.5-12l10.3-5.2l12.1-6.9l3.5-8.7l10.4-3.4l9-10.1l6.6-10.7l8.6-12.1l20.8 0l0 400.9l-73.4 0l.7-41.4zM1215.7 1449.2l-5.9-1.7l-1 10.4l2.4 8.6l3.5-5.2zM1203.6 1501.1l1.7-8.7l-5.1-8.6l-3.5-6.9l-2.8 8.6l4.5 10.4zM1210.5 1554.7l7-7l-1.8-5.1l-8.6 10.3z" fill="#fff" fill-rule="evenodd"/>
<path class="ct" d="M1290.1 1312.7l-8.6 12.1l-6.6 10.7l-9 10.1l-10.4 3.4l-3.5 8.7l-12.1 6.9l-10.3 5.2l-3.5 12l-1.7 8.7l-8.7 13.8l-5.9 13.8l-7.9 13.9l-6.9 7.2l-4.5 13.5l-4.9 13.8l-6.2 17.3l1.7 12.1l8.7 10.4l6.9 8.6l7.6 5.2l-2.4 10.4l-5.2 13.8l2.8 10.4l-3.5 12.1l5.9 17.2l3.4 12.1l5.2 15.6l1.8 12.1l12.1 8.6l10.4 5.2l6.2 8.6l-4.5 12.1l1.7 13.9l-.7 20.7M1209.8 1447.5l5.9 1.7l-1 12.1l-3.5 5.2l-2.4-8.6l1-10.4M1196.7 1476.9l3.5 6.9l5.1 8.6l-1.7 8.7l-5.2-5.2l-4.5-10.4l2.8-8.6M1215.7 1542.6l1.8 5.1l-7 7l-3.4-1.8l8.6-10.3M942.4 1279.9l5.2-1.7l6.9-3.5l5.2 2.8l5.2-5.6l5.2 2.8l5.2-5.2l5.2 1.8l5.2-7.6l3.4 4.1l5.2-1.7l3.5 5.8l6.9-.6l5.2 5.1l3.5-1.7l3.4 6.2l6.9 1.4l8.7-2.4l8.6 3.5l-1.7 5.1l-10.4 0l-8.6 3.5l-3.5 6.9l.7 10.4l-5.9 10.3l-5.2 8.7l-3.4 10.3l-5.2 7l5.2 5.1l6.9 1.8l-3.5 5.2l-10.3-3.5l-7 8.6l-6.9-1.7l-5.2 5.2l-3.4 13.8l-3.5-12.1l-6.9-5.2l-8.7 3.5l-5.1-5.2l-7 6.9l-5.1-8.6l-3.5-10.4l1.7-12.1l1.8-13.8l-2.8-10.4l2.8-10.3l-1.8-10.4l6.9-12.1M852.5 1393.9l8.6 36.3l5.2 20.8l3.5 20.7l12.1 24.2l12.1 22.5l6.9 22.4l8.7 20.8l5.2 17.2l-13.9 1.8l-8.6-19l-10.4-27.7l-15.6-20.7l-13.8-24.2l-3.5-31.1l-5.1-31.1l3.4-24.2l5.2-8.7M1011.6 1606.5l12.1 5.2l10.4 22.4l1.7 24.2l10.4 19l-1.7 15.6M1011.6 1606.5l1.8 17.3l6.9 20.7l3.4 24.2l-3.4 24.2M1077.4 1119.2l6.9 1.7l5.2 12.1l0 20.7l8.6 17.3l8.7 17.3l-3.5 6.9l-6.9-8.6l-10.4-12.1l-3.5-20.8l-6.9-17.2l1.8-17.3M887.1 1240.1l15.6-22.4l13.8-15.6l8.6-5.2l-1.7 8.7l-10.4 17.3l-12.1 13.8l-8.6 5.2l-5.2-1.8M856 1286.8l8.6-5.2l5.2 6.9l-5.2 10.4l-6.9-1.7l-1.7-10.4M840.4 1335.2l8.6 3.4l1.8 12.1l-6.9 12.1l-7-1.7l1.8-13.8l1.7-12.1M954.5 1219.4l10.4-5.2l6.9 8.7l8.7-6.9l12.1 1.7l-3.5 8.6l1.8 6.9l-10.4 1.8l-5.2-5.2l-10.4 0l-5.2-5.2l-5.2-5.2M937.3 1540.8l8.6 5.2l12.1 12.1l10.4 12.1l-3.5 5.2l-10.4-6.9l-10.3-10.4l-6.9-8.6l0-8.7M821.4 1573.7l15.5-1.8l8.7 13.9l-5.2 17.2l-13.8-3.4l-7-10.4l1.8-15.5M857.7 1654.9l12.1 3.4l1.7 13.9l-10.4 3.4l-5.1-10.3l1.7-10.4M1039.3 1407.8l8.6-6.9l10.4-5.2l-1.7 5.2l-10.4 6.9l-6.9 0M1073.9 1395.7l3.5 1.7l0 10.4l-3.5 1.7l0-13.8M1082.5 1354.2l3.5 3.5l-1.7 10.3l-3.5-3.4l1.7-10.4"/>
<path class="bd" d="M805.8 1127.5l13.8 2.1l12.1-7l8.7 2.8l12.1-6.9l8.6 4.1l8.7 4.9l12.1 12.4l12.1 11.8l12.1 4.8l13.9-9l10.3 3.5l13.9 4.1l13.8-5.5l13.8-2.1l13.9-.7l13.8-2l13.9-11.1M1013.4 1133.7l17.3-18l17.2-19l8.7-8.6l-3.5-6.9l-5.2-10.4M1056.6 1088.1l10.4 3.4l6.9 3.5l3.5 12.1l3.4 12.1l8.7 5.2l24.2 1l13.8 9.3l13.9 8.7l13.8 9l13.8 .7l17.3 3.4l19 2.8l10.4-12.5l19.1-10.3l13.8-5.6l12.1 10.4l25.9-.3l3.5-2.8M1286.6 1141l-17.3 23.1l-13.8 16.6l0 126.8l19.4 28M1013.4 1133.7l5.1 11.4l8.7 8.6l1.7 13.9l10.4 12.1l6.9 13.8l1.7 17.3l-5.1 15.5l-8.7 13.8l-10.4 13.9l-6.9 10.3l-5.2 7M1015.1 1313.8l32.8 17.9l34.6 19l34.6 20.8l20.8 11l5.2 11.4l-3.5 7l6.9 5.1l22.5 15.6l26 17.6M890.6 1315.1l10.3-2.4l35.3 0M906.1 1156.5l-5.2 18l1.8 19l15.5 8.6M888.8 1236.7l-6.9 10.4l-8.6 10.3l-3.5 17.3l-6.9 17.3l-1.8 17.3l0 15.5M861.1 1324.8l12.2 3.5l8.6-5.2l8.7-8M890.6 1315.1l10.3 11.5l3.5 19l-1.7 13.8l-8.7 1.7M894 1361.1l-12.1-1.7l-8.6 1.7l-1.8 12.1l-17.3 2.4l-12.1-7.6l-5.9-3.4M836.2 1364.6l7.7-13.9l1.7-13.8l6.9-6.9l8.6-5.2M894 1361.1l-3.4 12.1l13.8 15.6l-10.4 12.1l-12.1 17.2l-8.6 10.4l-10.4 3.8M836.2 1364.6l5.9 12.1l5.9 15.5l1 19l5.2 20.8M805.8 1575.4l10.4-1.7l20.7-2.5l24.2-4.4l24.3-3.5l15.5-1.7M824.8 1596.1l3.5 19l-1.7 19l1.7 13.9l-5.2 17.3l-3.5 17.2l0 10.4M914.8 1575.4l15.5 8.6l13.9 6.9l17.3 7l15.5 5.1M977 1603l12.1 3.5l13.9 3.5l8.6-2.8M977 1603l10.4 8.7l3.5 12.1l8.6 13.8l-6.9 13.8l-5.2 13.9l1.7 13.8l-1.7 13.8M1046.2 1678l15.6 1.1l13.8-10.4l13.9 10.4l13.8 3.4l17.3-1.7l13.8-1.7l13.9-10.4l13.8 0l17.3-1.7l17.3-6.9l17.3-6.9l10.4-5.2l10.4-9.7M1046.2 1678l-10.4 1.1l-1.7 13.8"/>
<path d="M1117.1 1451l0-34.6l0-34.6l69.2 0l0-34.5l0-34.6l34.6 0l0 34.6l0 34.5l0 14.2l-5.2 8.3l-5.1 12.1l-24.3 0l0 34.6zM1117.1 1347.3l0 34.5l-103.7 0l0-34.5l0-34.6l103.7 0zM805.8 1174.5l0-34.6l0-34.5l0-34.6l103.8 0l0 34.6l34.6 0l0 34.5l0 34.6l34.6 0l0 34.5l-69.2 0l0 34.6l-34.6 0l0 34.6l-34.6 0l0 34.5l-34.6 0l0-34.5l0-34.6l0-34.6zM1186.3 1658.3l0-34.5l26 0l8.6 6.1l0 28.4zM1220.9 1243.6l34.6 0l0-34.6l0-34.5l34.6 0l0 34.5l0 34.6l0 34.6l0 34.5l-69.2 0l0-34.5zM1290.1 1105.4l-34.6 0l0 34.5l-103.8 0l0-34.5l0-34.6l138.4 0z" fill="url(#h_e)" fill-rule="evenodd"/>
<path d="M1026.5 1077.4h0m32.8 0h0m32.8 0h0m32.8 0h0m32.8 0h0m32.8 0h0m32.8 0h0m32.8 0h0m32.8 0h0m-246 16.4h0m32.8 0h0m32.8 0h0m32.8 0h0m32.8 0h0m32.8 0h0m32.8 0h0m32.8 0h0m-246 16.5h0m32.8 0h0m32.8 0h0m32.8 0h0m32.8 0h0m32.8 0h0m32.8 0h0m32.8 0h0m32.8 0h0m-246 16.4h0m32.8 0h0m32.8 0h0m32.8 0h0m32.8 0h0m32.8 0h0m32.8 0h0m32.8 0h0m-246 16.4h0m32.8 0h0m32.8 0h0m32.8 0h0m32.8 0h0m32.8 0h0m32.8 0h0m32.8 0h0m32.8 0h0m-213.2 16.4h0m32.8 0h0m32.8 0h0m32.8 0h0m32.8 0h0m32.8 0h0m32.8 0h0m-213.2 16.5h0m32.8 0h0m65.6 0h0m32.8 0h0m32.8 0h0m32.8 0h0m-180.4 16.4h0m32.8 0h0m65.6 0h0m98.4 0h0m-180.4 16.4h0m65.6 0h0m-65.6 32.9h0m0 32.9h0m16.4 16.4h0m-16.4 16.4h0m-147.6 16.4h0m-16.4 16.5h0m32.8 0h0m98.4 0h0m32.8 0h0m32.8 0h0m32.8 0h0m-213.2 16.4h0m32.8 0h0m131.2 0h0m-180.4 16.4h0m32.8 0h0m131.2 0h0m32.8 0h0m32.8 0h0m-246 16.5h0m65.6 0h0m65.6 0h0m32.8 0h0m32.8 0h0m32.8 0h0m32.8 0h0m32.8 0h0m-147.6 16.4h0m32.8 0h0m32.8 0h0m32.8 0h0m32.8 0h0m-82 16.4h0m32.8 0h0m32.8 0h0m-16.4 16.5h0m32.8 0h0m-82 16.4h0m32.8 0h0m32.8 0h0m-82 16.4h0m65.6 0h0m-49.2 16.4h0m32.8 0h0m32.8 0h0m-82 16.5h0m32.8 0h0m32.8 0h0m-49.2 16.4h0m65.6 0h0m16.4 16.4h0m-16.4 16.5h0" stroke="#000" stroke-width="8.5" stroke-linecap="round" fill="none"/>
<path d="M993.7 1110.3h0m16.4 16.4h0m114.8 49.3h0m131.2 32.8h0m16.4 16.5h0m-16.4 16.4h0m-278.8 82.1h0m98.4 0h0m98.4 0h0m16.4 16.5h0m-114.8 16.4h0m131.2 0h0m32.8 0h0m-49.2 16.4h0m-229.6 32.9h0m32.8 0h0m32.8 0h0m16.4 49.3h0m82 16.4h0m-262.4 32.9h0m295.2 32.8h0m0 32.9h0" stroke="#3d87ff" stroke-width="8.5" stroke-linecap="round" fill="none"/>
<path d="M1042.9 1159.5h0m-16.4 16.5h0m16.4 16.4h0m98.4 0h0m65.6 0h0m32.8 0h0m-180.4 16.4h0m131.2 0h0m32.8 0h0m-147.6 16.5h0m98.4 0h0m32.8 0h0m-131.2 65.7h0m131.2 0h0m-82 16.4h0m65.6 0h0m-147.6 16.4h0m98.4 0h0m65.6 0h0m16.4 16.5h0m-180.4 16.4h0m98.4 0h0m-82 16.4h0m-164 32.9h0m82 16.4h0m98.4 0h0m-16.4 16.5h0m32.8 0h0m32.8 0h0m-49.2 49.2h0m0 32.9h0m65.6 0h0m-49.2 16.4h0m-180.4 16.5h0m295.2 98.5h0" stroke="#1a1af0" stroke-width="8.5" stroke-linecap="round" fill="none"/>
<path d="M1239.7 1225.3h0m-114.8 49.3h0m98.4 32.8h0m-49.2 49.3h0m-131.2 65.7h0m-16.4 16.5h0m-82 16.4h0m131.2 0h0" stroke="#75d3ff" stroke-width="8.5" stroke-linecap="round" fill="none"/>
</g>
<path class="tk" d="M805.8 1054.6v16.2M805.8 1692.9v16.2M944.2 1054.6v16.2M944.2 1692.9v16.2M1082.5 1054.6v16.2M1082.5 1692.9v16.2M1220.9 1054.6v16.2M1220.9 1692.9v16.2M789.6 1139.9h16.2M1290.1 1139.9h16.2M789.6 1278.2h16.2M1290.1 1278.2h16.2M789.6 1416.4h16.2M1290.1 1416.4h16.2M789.6 1554.7h16.2M1290.1 1554.7h16.2M789.6 1692.9h16.2M1290.1 1692.9h16.2"/>
<rect class="fr" x="805.8" y="1070.8" width="484.3" height="622.1"/>
<text x="803.8" y="1030.6" font-size="49">e) CWD</text>
<text x="764.5" y="1154.1" font-size="39.5" text-anchor="end">4N</text>
<text x="764.5" y="1292.3" font-size="39.5" text-anchor="end">0</text>
<text x="764.5" y="1430.6" font-size="39.5" text-anchor="end">4S</text>
<text x="764.5" y="1568.8" font-size="39.5" text-anchor="end">8S</text>
<text x="764.5" y="1707" font-size="39.5" text-anchor="end">12S</text>
<text x="805.8" y="1767" font-size="39.5" text-anchor="middle">28E</text>
<text x="944.2" y="1767" font-size="39.5" text-anchor="middle">32E</text>
<text x="1082.5" y="1767" font-size="39.5" text-anchor="middle">36E</text>
<text x="1220.9" y="1767" font-size="39.5" text-anchor="middle">40E</text>
<text x="1047.9" y="1814.5" font-size="49" text-anchor="middle">days</text>
<g class="cbx">
<path d="M803.3 1833.8L756.5 1850.5L803.3 1867.2Z" fill="#ffac75"/>
<rect x="803.3" y="1833.8" width="48.8" height="33.4" fill="#ffd699"/>
<rect x="852.1" y="1833.8" width="48.8" height="33.4" fill="#fff1bc"/>
<rect x="901" y="1833.8" width="48.8" height="33.4" fill="#eaffff"/>
<rect x="949.8" y="1833.8" width="48.8" height="33.4" fill="#bcf9ff"/>
<rect x="998.6" y="1833.8" width="48.8" height="33.4" fill="#99eaff"/>
<rect x="1047.4" y="1833.8" width="48.8" height="33.4" fill="#75d3ff"/>
<rect x="1096.3" y="1833.8" width="48.8" height="33.4" fill="#56b0ff"/>
<rect x="1145.1" y="1833.8" width="48.8" height="33.4" fill="#3d87ff"/>
<rect x="1193.9" y="1833.8" width="48.8" height="33.4" fill="#2857ff"/>
<rect x="1242.8" y="1833.8" width="48.8" height="33.4" fill="#181cf7"/>
<path d="M1291.6 1833.8L1337.5 1850.5L1291.6 1867.2Z" fill="#2400d8"/>
</g>
<text x="803.3" y="1913" font-size="48" text-anchor="middle">-1</text>
<text x="901" y="1913" font-size="48" text-anchor="middle">0</text>
<text x="998.6" y="1913" font-size="48" text-anchor="middle">1</text>
<text x="1096.3" y="1913" font-size="48" text-anchor="middle">2</text>
<text x="1193.9" y="1913" font-size="48" text-anchor="middle">3</text>
<text x="1291.6" y="1913" font-size="48" text-anchor="middle">4</text>
</g>
<g id="p_f">
<g clip-path="url(#c_f)">
<rect x="1480.9" y="1070.8" width="484.1" height="622.1" fill="#eaffff"/>
<path d="M1929.1 1070.5l6.4 21.6l5.2 5.6l8.8 2.8l15.8-3.1l0 595.8l-303.4 0l3-10.6l-1.2-5.5l-3.5-4.3l-16.4-10.4l-10.9-1.8l-10.3 5.4l-3.9 5.6l-5.4 21.6l-132.7 0l0-540.1l10.3-.1l8-5.7l13.8-14.9l13.1-18.2l17.4-16.5l2.2-5.6l-.8-16.5l1.3-5.1zM1568 1323.9l-6.1 .8l-4.1 4.7l-.8 5.5l4.9 11.4l5.4 1.9l5.5-7l.9-6.3l-.9-6zM1586.2 1279.8l-7.1 5.5l-1.1 5.5l1.2 5.5l4.5 5.6l10.9 1l8.3-6.6l1.7-5.5l-1.4-5.5l-3.1-3.8l-4-1.7zM1669.3 1412.2l-31.8 16.6l-31.9 26.2l-5.5 6.9l-2.5 11l1.9 11l-7.7 22.1l-1.2 22.1l1.1 11l2.9 8.9l5.5 6.8l5.5 2.7l5.4-.4l5.6-6.9l7.2-33.2l-.4-11l-2.7-11l1.2-6.3l5.5-3.2l5.5-.8l21.8 4.7l27.3-.3l5.5-.7l6-4.5l.9-11l-1.4-11l-7.8-22.1l-3.6-22.1l-2.7-5.5l-2.4-1.4zM1703.8 1499.5l0 1.9l.9-.9zM1792.6 1152.8l-3.9 5.6l-.5 5.5l4.6 11l9.3 6.3l5.5 .2l5.4-2.7l7.4-9.3l2.7-5.5l-.2-5.5l-6-5.6l-9.3-2.9l-5.5-.1zM1903.6 1208l-5.8 5.5l-10.8 16.6l-8.4 6.3l-11 1.1l-16.3-7.2l-5.5 .3l-16.4 2.9l-5.4 2.7l-5.2 4.9l.5 11.1l7.7 22l-.6 11.1l-7.1 27.6l.9 16.5l3.8 6.8l10.9 4l27.3-3.6l21.8 3.4l5.5-.1l5.4-2l3-3l2.1-5.5l.1-5.5l-5.2-11.4l-5.4-2.4l-16.4-1.1l-5.5-3.8l-4.7-8.9l.3-5.5l6.2-5.5l9.2-1.3l16.3 2.7l4.5-1.4l5-5.5l7.8-16.6l7.5-5.5l1.6-11l6.1-16.6l-.7-5.5l-9.9-13.8l-5.5-3.4z" fill="#bcf9ff" fill-rule="evenodd"/>
<path d="M1710.3 1671.6l3.8 5.5l.3 5.5l-3.4 5.5l-1.7 2.1l-5.5 1.4l-5.4-2.2l-2.4-6.8l2.4-8.9l5.4-4.2zM1818.5 1629.5l2.3 8.9l-1.5 5.6l-6.3 4.4l-5.4 .4l-7.9-4.8l.1-5.6l7.8-10.5l5.4-2zM1714.8 1576.8l13 6.5l2.3 5.5l-2.4 11l-3.3 5.5l-9.2 5.6l-11.4 1.8l-7.5-1.8l-5.6-5.6l-.8-5.5l3-12.5l4.5-9.6l1-1.4l5.4-.7zM1845.8 1540.9l16.4-.7l10.9 17l25.8 15l3.3 5.5l.9 5.6l-2.7 14.2l-5.5 11.8l-5.4 3.6l-27.3 8.9l-10.9-1.2l-21.9-8l-6.3-7.3l-2.5-11l.2-22.1l2.2-11l3.8-5.5l13.5-11.4zM1862.2 1354.3l16.8 2.7l8.5 5.5l3 5.6l2.2 22l-2.9 5.5l-5.8 3.7l-9 1.9l-5.7 5.5l2.4 5.5l12.3 4.5l5.5 3.9l4.5 8.2l.2 11l-12.3 16.5l-4.3 11.1l-17.2 16.5l-14.6 7.4l-10.9 3.4l-10.9 1.2l-11-1.7l-10.9-7.8l-10.9-13.2l-2.8-5.8l-1.2-11.1l4.1-22l-.9-5.5l-4.7-5.6l-5.4-2.6l-10.9-1.7l-11 .5l-6.3-1.7l-1.4-11l2.3-26.1l4.7-7l6.2-2.3l10.9-.4l21.9 2.7l21.8-1.8l25.2-14.8zM1819 1070.5l-.7 16.1l5.7 8l5.4 2.9l10.9 2.6l27.3 2.3l4.5 6.3l1.3 5.5l-22.1 16.8l-11 5.1l-5.4 .7l-21.9-2l-16.1-4l-7.9-5.5l-8.7-11.9l-5.5-1.1l-5.4 2.8l-3.6 4.6l-.8 5.6l4.2 22l-.5 16.6l-14.3 55.2l.4 5.5l7 22.1l.8 16.5l-1.7 11l-2.6 5.6l-5.3 4.1l-13.7 6.9l-13.6 10.2l-13.7 6.4l-2.7 4.9l-3 33.7l9.9 16.5l-.5 5.6l-5 5.5l-6.9 1.1l-5.4-4.1l-5.5-19.1l-4.8-5.5l-11.6-3.1l-5.4 1.2l-5.5 3.9l-5.7 9l-6.2 16.6l-4.5 21l-3.3 6.6l-11.6 11l-28.7 13.4l-11-2.4l-6.2-5.5l-2.9-5.5l-1.5-11l1.7-33.1l9.5-38.7l19.4-27.6l12.8-29.4l21.8-14.4l18-22.4l-.1-11l-3.7-5.5l-19.6-16.7l-5.5-2.1l-10.9 1.2l-27.3 14.6l-21.2 8.5l-11.6 9.3l-19.3 7.2l-4.7 5.6l-.7 5.5l3.4 22l-.5 5.6l-3.4 5.5l-2.1 1.5l-16.3-2.5l-5.5 1l-6.7 5.5l-1.4 5.5l2 5.5l10.3 11.1l4.9 11l2.9 16.6l-2.3 22l1.7 5.6l11 16.5l2.6 11l.6 16.6l-8.6 22.1l.5 27.6l14.5 22l17.1 12.3l4.9 9.8l-3.2 33.1l-1.7 4.7l-5.4 5.4l-12.2 6.5l-3 11l1.3 11l5.1 5.6l19.7 3.4l5.5 4l16.5 31.2l-5.6 8.2l-16.8 8.3l-10.5 8.2l-21.9 7.1l-5.4 3.3l-5.5 6.4l-5.4 12.6l-.7 17.2l-42.4 0l0-513.6l15.8-5.2l10.9-1.3l21.8 6.5l16.4-.4l27.3-7.3l15.3-8l6.7-5.5l3.9-5.6l.8-11l-1.9-49.7l-3.9-21.6zM1855.4 1180.4l6.2 5.6l2.9 5.5l-.4 11l-7.4 6l-10.9-.8l-7.8-5.2l-4.1-5.5l-1.5-5.5l1-5.5l6.9-7.5l5.5-1.2z" fill="#99eaff" fill-rule="evenodd"/>
<path d="M1480.6 1588l15.8-3.2l5.4 2l7.3 13l2.9 38.6l-1.3 11.1l-7.6 27.6l2.3 16.1l-24.8 0zM1480.6 1348.1l15.8-4.8l5.4 3l4.1 10.7l1.1 11.1l-1.2 5.5l-4 5.7l-5.4 1.5l-15.8-2.7zM1649.2 1288.7l21.9 .6l3.3 1.5l-.4 5.5l-10.1 33.1l-17.4 22.1l-8.2 13.8l-5.4 3.7l-5.5-.4l-10.9-6l-3.8-5.6l-1.2-11l1.2-16.6l7.7-16.5l12.5-17.7l5.4-4.7zM1711.9 1230.1l24.7 11.1l6.4 5.5l3.8 11l-.8 5.5l-3.2 5.5l-11.7 8.4l-10.9 3.7l-27.3 3.2l-10.9-1.4l-2-13.9l2.4-11l3.1-5.5l17.4-22.1l.9-4l5.5 .4zM1742.1 1138.4l9.2 8.9l2.1 5.5l-.5 11.1l-17.7 33.1l-25.9 26.2l-5.5 1l-16.3-12.4l-16.5-20.3l-17.4-16.6l-1.4-5.5l1.6-11l6.4-9.8l5.4-3l5.5-.4l5.4 1.8l7.5 5.8l8.9 12.5l5.5 2.3l5.4 0l6.7-3.7l9.7-17.8l5.5-6.4l5.4-2.6l5.5-.4z" fill="#75d3ff" fill-rule="evenodd"/>
<path d="M1638.3 1317.5l6.1 6.4l-.5 5.5l-5.6 5.8l-5.4-2.1l-1.4-3.7l1.4-7.5z" fill="#56b0ff" fill-rule="evenodd"/>
<rect x="1785.2" y="1150.3" width="32.8" height="32.8" fill="#fff"/>
<rect x="1923.5" y="1079.4" width="41.5" height="60.5" fill="#fff"/>
<rect x="1906.2" y="1202.1" width="48.4" height="31.1" fill="#fff"/>
<rect x="1837.1" y="1323.1" width="48.4" height="34.6" fill="#fff"/>
<rect x="1857.8" y="1305.8" width="27.7" height="17.3" fill="#fff"/>
<rect x="1629.6" y="1445.8" width="65.7" height="32.8" fill="#fff"/>
<path d="M1911.4 1658.3l4.5-12.1l-6.2-8.6l-10.4-5.2l-12.1-8.6l-1.7-12.1l-5.2-15.6l-3.5-12.1l-5.9-17.2l3.5-12.1l-2.8-10.4l5.2-13.8l2.4-10.4l-7.6-5.2l-6.9-8.6l-8.6-10.4l-1.8-12.1l6.3-17.3l4.8-13.8l4.5-13.5l6.9-7.2l8-13.9l5.9-13.8l8.6-13.8l1.7-8.7l3.5-12l10.4-5.2l12.1-6.9l3.4-8.7l10.4-3.4l9-10.1l6.6-10.7l8.6-12.1l20.7 0l0 400.9l-73.3 0l.7-41.4zM1890.7 1449.2l-5.9-1.7l-1.1 10.4l2.5 8.6l3.4-5.2zM1878.6 1501.1l1.7-8.7l-5.2-8.6l-3.5-6.9l-2.7 8.6l4.5 10.4zM1885.5 1554.7l6.9-7l-1.7-5.1l-8.7 10.3z" fill="#fff" fill-rule="evenodd"/>
<path class="ct" d="M1965 1312.7l-8.6 12.1l-6.6 10.7l-9 10.1l-10.4 3.4l-3.4 8.7l-12.1 6.9l-10.4 5.2l-3.5 12l-1.7 8.7l-8.6 13.8l-5.9 13.8l-8 13.9l-6.9 7.2l-4.5 13.5l-4.8 13.8l-6.3 17.3l1.8 12.1l8.6 10.4l6.9 8.6l7.6 5.2l-2.4 10.4l-5.2 13.8l2.8 10.4l-3.5 12.1l5.9 17.2l3.5 12.1l5.2 15.6l1.7 12.1l12.1 8.6l10.4 5.2l6.2 8.6l-4.5 12.1l1.7 13.9l-.7 20.7M1884.8 1447.5l5.9 1.7l-1.1 12.1l-3.4 5.2l-2.5-8.6l1.1-10.4M1871.6 1476.9l3.5 6.9l5.2 8.6l-1.7 8.7l-5.2-5.2l-4.5-10.4l2.7-8.6M1890.7 1542.6l1.7 5.1l-6.9 7l-3.5-1.8l8.7-10.3M1617.5 1279.9l5.2-1.7l6.9-3.5l5.2 2.8l5.2-5.6l5.1 2.8l5.2-5.2l5.2 1.8l5.2-7.6l3.5 4.1l5.2-1.7l3.4 5.8l6.9-.6l5.2 5.1l3.5-1.7l3.4 6.2l6.9 1.4l8.7-2.4l8.6 3.5l-1.7 5.1l-10.4 0l-8.6 3.5l-3.5 6.9l.7 10.4l-5.9 10.3l-5.1 8.7l-3.5 10.3l-5.2 7l5.2 5.1l6.9 1.8l-3.4 5.2l-10.4-3.5l-6.9 8.6l-6.9-1.7l-5.2 5.2l-3.5 13.8l-3.5-12.1l-6.9-5.2l-8.6 3.5l-5.2-5.2l-6.9 6.9l-5.2-8.6l-3.5-10.4l1.8-12.1l1.7-13.8l-2.8-10.4l2.8-10.3l-1.7-10.4l6.9-12.1M1527.6 1393.9l8.6 36.3l5.2 20.8l3.5 20.7l12.1 24.2l12.1 22.5l6.9 22.4l8.6 20.8l5.2 17.2l-13.8 1.8l-8.7-19l-10.3-27.7l-15.6-20.7l-13.8-24.2l-3.5-31.1l-5.2-31.1l3.5-24.2l5.2-8.7M1686.6 1606.5l12.1 5.2l10.4 22.4l1.7 24.2l10.4 19l-1.7 15.6M1686.6 1606.5l1.8 17.3l6.9 20.7l3.4 24.2l-3.4 24.2M1752.3 1119.2l7 1.7l5.1 12.1l0 20.7l8.7 17.3l8.6 17.3l-3.4 6.9l-6.9-8.6l-10.4-12.1l-3.5-20.8l-6.9-17.2l1.7-17.3M1562.2 1240.1l15.5-22.4l13.9-15.6l8.6-5.2l-1.7 8.7l-10.4 17.3l-12.1 13.8l-8.7 5.2l-5.1-1.8M1531 1286.8l8.7-5.2l5.2 6.9l-5.2 10.4l-6.9-1.7l-1.8-10.4M1515.5 1335.2l8.6 3.4l1.8 12.1l-7 12.1l-6.9-1.7l1.7-13.8l1.8-12.1M1629.6 1219.4l10.4-5.2l6.9 8.7l8.6-6.9l12.1 1.7l-3.4 8.6l1.7 6.9l-10.4 1.8l-5.2-5.2l-10.3 0l-5.2-5.2l-5.2-5.2M1612.3 1540.8l8.6 5.2l12.1 12.1l10.4 12.1l-3.4 5.2l-10.4-6.9l-10.4-10.4l-6.9-8.6l0-8.7M1496.5 1573.7l15.5-1.8l8.7 13.9l-5.2 17.2l-13.9-3.4l-6.9-10.4l1.8-15.5M1532.8 1654.9l12.1 3.4l1.7 13.9l-10.4 3.4l-5.2-10.3l1.8-10.4M1714.3 1407.8l8.7-6.9l10.3-5.2l-1.7 5.2l-10.4 6.9l-6.9 0M1748.9 1395.7l3.4 1.7l0 10.4l-3.4 1.7l0-13.8M1757.5 1354.2l3.5 3.5l-1.7 10.3l-3.5-3.4l1.7-10.4"/>
<path class="bd" d="M1480.9 1127.5l13.8 2.1l12.1-7l8.7 2.8l12.1-6.9l8.6 4.1l8.7 4.9l12.1 12.4l12.1 11.8l12.1 4.8l13.8-9l10.4 3.5l13.8 4.1l13.8-5.5l13.9-2.1l13.8-.7l13.8-2l13.9-11.1M1688.4 1133.7l17.3-18l17.3-19l8.6-8.6l-3.5-6.9l-5.1-10.4M1731.6 1088.1l10.4 3.4l6.9 3.5l3.4 12.1l3.5 12.1l8.6 5.2l24.2 1l13.9 9.3l13.8 8.7l13.8 9l13.9 .7l17.3 3.4l19 2.8l10.4-12.5l19-10.3l13.8-5.6l12.1 10.4l25.9-.3l3.5-2.8M1961.5 1141l-17.2 23.1l-13.9 16.6l0 126.8l19.4 28M1688.4 1133.7l5.2 11.4l8.6 8.6l1.7 13.9l10.4 12.1l6.9 13.8l1.8 17.3l-5.2 15.5l-8.7 13.8l-10.4 13.9l-6.9 10.3l-5.2 7M1690.1 1313.8l32.9 17.9l34.5 19l34.6 20.8l20.8 11l5.1 11.4l-3.4 7l6.9 5.1l22.5 15.6l25.9 17.6M1565.6 1315.1l10.4-2.4l35.3 0M1581.2 1156.5l-5.2 18l1.7 19l15.6 8.6M1563.9 1236.7l-6.9 10.4l-8.7 10.3l-3.4 17.3l-6.9 17.3l-1.8 17.3l0 15.5M1536.2 1324.8l12.1 3.5l8.7-5.2l8.6-8M1565.6 1315.1l10.4 11.5l3.4 19l-1.7 13.8l-8.6 1.7M1569.1 1361.1l-12.1-1.7l-8.7 1.7l-1.7 12.1l-17.3 2.4l-12.1-7.6l-5.9-3.4M1511.3 1364.6l7.6-13.9l1.8-13.8l6.9-6.9l8.6-5.2M1569.1 1361.1l-3.5 12.1l13.8 15.6l-10.3 12.1l-12.1 17.2l-8.7 10.4l-10.3 3.8M1511.3 1364.6l5.9 12.1l5.9 15.5l1 19l5.2 20.8M1480.9 1575.4l10.4-1.7l20.7-2.5l24.2-4.4l24.2-3.5l15.6-1.7M1499.9 1596.1l3.5 19l-1.8 19l1.8 13.9l-5.2 17.3l-3.5 17.2l0 10.4M1589.8 1575.4l15.6 8.6l13.8 6.9l17.3 7l15.6 5.1M1652.1 1603l12.1 3.5l13.8 3.5l8.6-2.8M1652.1 1603l10.3 8.7l3.5 12.1l8.6 13.8l-6.9 13.8l-5.2 13.9l1.8 13.8l-1.8 13.8M1721.2 1678l15.6 1.1l13.8-10.4l13.8 10.4l13.9 3.4l17.3-1.7l13.8-1.7l13.8-10.4l13.9 0l17.2-1.7l17.3-6.9l17.3-6.9l10.4-5.2l10.4-9.7M1721.2 1678l-10.4 1.1l-1.7 13.8"/>
<path d="M1480.9 1589.2l0-34.5l0-34.6l0-34.6l0-34.5l0-34.6l0-34.6l0-34.5l0-34.6l0-34.5l0-34.6l0-34.6l0-34.5l0-34.6l0-34.5l0-34.6l449.5 0l0 34.6l-34.6 0l0 34.5l34.6 0l0 34.6l34.6 0l0 34.5l0 34.6l0 34.6l0 34.5l-8.6 12.1l-6.6 10.7l-9 10.1l-5.2 1.7l-5.2 0l0 1.7l-3.4 8.7l-12.1 6.9l-10.4 5.2l-3.5 12l-5.2 0l0 14.2l-5.1 8.3l-5.9 13.8l-8 13.9l-6.9 7.2l-4.5 13.5l-4.8 13.8l-6.3 17.3l1.8 12.1l8.6 10.4l6.9 8.6l7.6 5.2l-2.4 10.4l-5.2 13.8l2.8 10.4l-3.5 12.1l5.9 17.2l1.5 5.2l-17 0l0 34.6l-34.6 0l0 34.5l-69.2 0l0-34.5l-103.7 0l0 34.5l-34.6 0l0 34.6l-138.3 0l0-34.6l0-34.5zM1584.6 1485.5l0 34.6l34.6 0l0-34.6l69.2 0l0-34.5l-103.8 0zM1895.8 1347.3l0-34.6l-69.1 0l0 34.6zM1895.8 1243.6l0-34.6l-34.5 0l0 34.6zM1826.7 1174.5l0-34.6l-34.6 0l0 34.6zM1883.7 1457.9l1.1-10.4l5.9 1.7l-1.1 12.1l-3.4 5.2zM1871.6 1476.9l3.5 6.9l5.2 8.6l-1.7 8.7l-5.2-5.2l-4.5-10.4zM1892.4 1547.7l-6.9 7l-3.5-1.8l8.7-10.3z" fill="url(#h_f)" fill-rule="evenodd"/>
<path d="M1484.6 1175.8h0m32.8 0h0m-16.4 16.4h0m32.8 0h0m-49.2 16.4h0m32.8 0h0m-16.4 16.5h0m32.8 0h0m32.8 0h0m32.8 0h0m32.8 0h0m32.8 0h0m-180.4 16.4h0m32.8 0h0m32.8 0h0m32.8 0h0m32.8 0h0m32.8 0h0m32.8 0h0m-180.4 16.4h0m32.8 0h0m65.6 0h0m32.8 0h0m32.8 0h0m32.8 0h0m-213.2 16.5h0m32.8 0h0m98.4 0h0m32.8 0h0m32.8 0h0m32.8 0h0m-213.2 16.4h0m98.4 0h0m32.8 0h0m32.8 0h0m32.8 0h0m32.8 0h0m-246 16.4h0m131.2 0h0m32.8 0h0m32.8 0h0m32.8 0h0m32.8 0h0m-246 16.5h0m98.4 0h0m32.8 0h0m32.8 0h0m-180.4 16.4h0m131.2 0h0m32.8 0h0m32.8 0h0m-180.4 16.4h0m98.4 0h0m32.8 0h0m-147.6 16.4h0m131.2 0h0m32.8 0h0m-147.6 16.5h0m-16.4 16.4h0m311.6 16.4h0m16.4 16.5h0m-16.4 16.4h0m16.4 16.4h0" stroke="#000" stroke-width="8.5" stroke-linecap="round" fill="none"/>
<path d="M1501 1422.2h0m-16.4 16.5h0" stroke="#3d87ff" stroke-width="8.5" stroke-linecap="round" fill="none"/>
<path d="M1796.2 1488h0m16.4 16.4h0" stroke="#1a1af0" stroke-width="8.5" stroke-linecap="round" fill="none"/>
</g>
<path class="tk" d="M1480.9 1054.6v16.2M1480.9 1692.9v16.2M1619.2 1054.6v16.2M1619.2 1692.9v16.2M1757.5 1054.6v16.2M1757.5 1692.9v16.2M1895.8 1054.6v16.2M1895.8 1692.9v16.2M1464.7 1139.9h16.2M1965 1139.9h16.2M1464.7 1278.2h16.2M1965 1278.2h16.2M1464.7 1416.4h16.2M1965 1416.4h16.2M1464.7 1554.7h16.2M1965 1554.7h16.2M1464.7 1692.9h16.2M1965 1692.9h16.2"/>
<rect class="fr" x="1480.9" y="1070.8" width="484.1" height="622.1"/>
<text x="1478.9" y="1030.6" font-size="49">f) SDII</text>
<text x="1440.9" y="1154.1" font-size="39.5" text-anchor="end">4N</text>
<text x="1440.9" y="1292.3" font-size="39.5" text-anchor="end">0</text>
<text x="1440.9" y="1430.6" font-size="39.5" text-anchor="end">4S</text>
<text x="1440.9" y="1568.8" font-size="39.5" text-anchor="end">8S</text>
<text x="1440.9" y="1707" font-size="39.5" text-anchor="end">12S</text>
<text x="1480.9" y="1767" font-size="39.5" text-anchor="middle">28E</text>
<text x="1619.2" y="1767" font-size="39.5" text-anchor="middle">32E</text>
<text x="1757.5" y="1767" font-size="39.5" text-anchor="middle">36E</text>
<text x="1895.8" y="1767" font-size="39.5" text-anchor="middle">40E</text>
<text x="1723" y="1814.5" font-size="48.5" text-anchor="middle">mm/day</text>
<g class="cbx">
<path d="M1479.9 1833.8L1433.4 1850.5L1479.9 1867.2Z" fill="#ffac75"/>
<rect x="1479.9" y="1833.8" width="48.6" height="33.4" fill="#ffd699"/>
<rect x="1528.5" y="1833.8" width="48.6" height="33.4" fill="#fff1bc"/>
<rect x="1577.1" y="1833.8" width="48.6" height="33.4" fill="#eaffff"/>
<rect x="1625.8" y="1833.8" width="48.6" height="33.4" fill="#bcf9ff"/>
<rect x="1674.4" y="1833.8" width="48.6" height="33.4" fill="#99eaff"/>
<rect x="1723" y="1833.8" width="48.6" height="33.4" fill="#75d3ff"/>
<rect x="1771.6" y="1833.8" width="48.6" height="33.4" fill="#56b0ff"/>
<rect x="1820.2" y="1833.8" width="48.6" height="33.4" fill="#3d87ff"/>
<rect x="1868.9" y="1833.8" width="48.6" height="33.4" fill="#2857ff"/>
<rect x="1917.5" y="1833.8" width="48.6" height="33.4" fill="#181cf7"/>
<path d="M1966.1 1833.8L2013.5 1850.5L1966.1 1867.2Z" fill="#2400d8"/>
</g>
<text x="1479.9" y="1913" font-size="48" text-anchor="middle">-0.4</text>
<text x="1577.1" y="1913" font-size="48" text-anchor="middle">0</text>
<text x="1674.4" y="1913" font-size="48" text-anchor="middle">0.4</text>
<text x="1771.6" y="1913" font-size="48" text-anchor="middle">0.8</text>
<text x="1868.9" y="1913" font-size="48" text-anchor="middle">1.2</text>
<text x="1966.1" y="1913" font-size="48" text-anchor="middle">1.6</text>
</g>
<g id="p_g">
<g clip-path="url(#c_g)">
<rect x="131.3" y="2019.9" width="492.7" height="635.5" fill="#99eaff"/>
<path d="M619.4 2120.4l-19.5 22.8l-6.3 11.2l-8.9 39.5l-11.1 16.9l0 28.2l2 5.6l10.4 7l7.5 21.2l6.5 11.3l8.3 4.8l16.1 .9l0 366l-493.5 0l0-551.9l10.6 0l11.1-6.6l11.1-3.9l16.7 .5l5.5-2.2l9.8-10.5l7.6-11.3l1.6-5.6l-1.5-17l-6.5-16.9l.6-10.9l426.9 0l0 98.4z" fill="#75d3ff" fill-rule="evenodd"/>
<path d="M624.4 2063l-16.1-2.3l-5.6 2.9l-7.7 11.9l-9 7.6l-11.1 3.1l-22.2 2.5l-5.6 3.9l-5.5 16.8l-5.6 5.6l-5.5 1.3l-16.7-.5l-5.6 1.4l-11.1 6.5l-11.1-1.3l-22.2-6.2l-5.6 .3l-5.5 2.7l-5.6 10l-3.9 19.6l.6 5.6l3.6 5.7l16.4 11.5l26.8 27.9l16.7 11.3l5.3 5.7l6.5 16.9l2.6 16.9l14.3 21.7l6 12.1l12.1 39.5l9.7 7.5l16.7 4.7l16.6 15l5.6 1.9l21.7 .3l0 170.9l-5 4.5l-16.7 .6l-22.2-9.8l-16.7-11l-11.1-4.5l-11.1 2.8l-10.9 8.7l-6.6 11.3l.2 16.9l-2 11.3l-8.3 16.9l-5.8 5.1l-18.3 6.2l-5.4 5.6l-2.4 5.6l-6.2 28.2l.2 5.7l9.6 16.9l3.1 10.9l-173.1 0l3.3-10.9l-1.3-5.7l-5.1-5.6l-20-11.3l-12.2-1.5l-11.1 2.1l-11.1 4.4l-27.9 28.5l-99.4 0l0-524.8l21.7-6.4l11.1 .8l16.7 4.7l5.5-1.1l11.2-7.8l16.6-18.5l5.6-4l5.5-1.3l11.2 1.4l5.5-2.1l6.8-9.9l5.1-16.9l15.9-19.9l4.6-8.3l2.3-11.3l0-10.9l348.2 0z" fill="#56b0ff" fill-rule="evenodd"/>
<path d="M224.8 2128.5l22.3 5.2l11.1 10.8l7.6 15.6l5.9 5.6l8.7 2.6l16.7 .3l16.6 3.8l5.8-1l2.6-5.7l2.8-17.4l5.5-3.3l27.8-2.1l33.3 2.7l5.6 4.5l5.2 15.6l8.4 11.3l14.2 8.3l22.2 3.5l9.2 5.1l22.2 22.6l4.9 11.2l-.5 11.3l-7.1 28.2l.4 16.9l2.1 11.3l2.2 3.8l5.5 3.4l22.2 1.4l5.6 2.5l4.4 5.8l12.3 33.8l-5 16.9l3.4 5.7l12.7 4.6l5.5 4l4.6 8.3l.2 11.2l-12.5 16.9l-3.4 10.6l-5.5 6.6l-4.1 11l-2.8 16.9l4.2 11.3l-.2 5.7l-3 5.6l-5.3 6.2l-11.1 4.5l-11.1-8.4l-5.5-2l-5.6 .1l-7.2 5.2l-.8 5.7l2.5 5.9l17.1 11l-1.9 16.9l-4.1 9l-13.6 13.5l-19.8 15.7l-31.1 12.5l-3.8 5.7l-5.4 16.9l-5.4 5.6l-9.8 2.4l-5.6-.6l-5.6-3.1l-13.6-21.2l-8.6-5l-22.2-7l-9.5-10.6l-7.4-16.9l-5.3-5.2l-5.6 .6l-11.1 17.8l-5.6 3.5l-16.6-4.4l-11.2 1.6l-5.4 3l-2.6 5.6l.6 5.7l11.7 16.9l-8.1 5.6l-23.9 10.4l-16.7 13.9l-22.2 12.5l-6.6 8.3l-1.4 16.6l-69.3 0l0-456.7l20.4-10.8l18.8-16.9l10.3-5.3l18.9-6l5.4-16.9l3.7-5.7l5.9-5.6zM397.1 2428.8l-8.9 13.1l-7.8 4.6l-22.8 6.7l-5.1 5.6l-5.4 10.1l-2.6 12.5l1.3 5.6l4.3 5.7l8.1 4.8l16.7 6.9l16.6 3.3l11.2-1l11.1-3.7l11.2-10.3l16.6-10.6l5.5-5.5l3.1-6.5l.1-5.6l-5.4-11.3l-8.9-8l-11.1-6.9l-5.6-9.6zM517.1 2019.5l-.5 10.9l3.1 5.7l13.6 11.2l-.1 17l-7 5.6l-23.5 15.4l-16.7 7.2l-11.1 1.4l-33.3-2.2l-11.2 3l-16.6 10.8l-16.7-1l-11.1-7.2l-5.6-6.1l-5.1-21.3l-4.3-5.6l-23.9-9.7l-4.7-7.3l.1-5.6l4.5-11.3l9.8-10.9z" fill="#3d87ff" fill-rule="evenodd"/>
<path d="M463.8 2377.5l5.5 .2l11.2 6.5l5.7 7l5 11.3l2.7 33.8l-1.4 5.6l-4.2 5.7l-7.8 3.4l-11.2-.4l-5.5-3.7l-15.1-16.2l-5.5-11.3l.6-11.3l5.2-16.9l3.7-6.6l5.5-5zM363.8 2165.2l5.5 2.9l14.8 14.5l40.8 22.2l14.8 6l8.8 5.7l5.1 5.6l2.7 5.6l1 11.3l-2.9 11.3l-9 22.5l-2.1 16.9l3.8 24.3l2.8 9.6l6.7 11.2l-.6 5.7l-8.9 8.2l-5.5 2.1l-22.3 2.2l-5.5-.2l-11.1-8.5l-11.2-5.7l-11.1-.9l-5.5 2l-9.2 6.4l-7.5 9.9l-11.2 7l-1 5.7l2.4 16.9l-1.3 5.6l-4.2 5.6l-12.5 7.1l-27.8 3.3l-16.6 7.3l-4.5 4.9l-1.2 5.6l2 5.7l27.6 33.8l6.1 11.3l3.2 16.9l-.9 5.6l-3.3 5.6l-17.9 11.6l-22.3 4.1l-5.5 3.8l-5.1 8.7l-17.1 15.4l-4.9 7.2l-2.8 22.5l-25.7 25.8l-33.3 13.5l-33.4 3.7l-16.1 6.7l0-351l21.7-7.5l11.1 1.1l8.5 3.3l20.5 22.6l12.7 28.2l7.4 11.2l6.5 3.2l5.5-1l8.4-7.8l4-11.3l2.2-22.5l-3.8-22.6l.8-5.6l28.4-62l6.1-5.7l15.1-5l27.7-.2l16.7-4.5l8.9-7.2l7.8-12.8l5.5-3.9z" fill="#2857ff" fill-rule="evenodd"/>
<path d="M230.4 2400.2l5.6 2.4l5.5 7.5l5.5 26.2l-1.4 5.6l-9.4 11.3l-2.6 5.6l-6.7 39.5l-7.6 8.7l-18 8.2l-7.6 16.9l-18.9 13.5l-16.6 27.4l-7.9 9.9l-8.8 6.5l-10.6 4.1l0-105l16.1-3.7l6.3-3.4l4.9-5.6l6-17l5.1-31.7l5.5-8.2l8.5-5.2l2.6-9.5l16.7 14.2l5.6-4l3.7-6.3l6-5.6l6.9-2.4zM180.4 2377.5l0 11.2l-5.6 6.7l-5.5 1.3l-5.2-5.5l-.3-5.6l2.6-5.7l2.9-3.6l5.5-2.7zM130.9 2303.2l16.1-5.7l5.6 .6l5.6 5.1l7.4 14.7l.8 5.7l-1.1 5.6l-4.4 5.6l-8.3 2.8l-21.7-3.8zM364.9 2188.3l32.2 15.7l11.2 12.5l14.5 33.8l.3 11.3l-6.4 16.9l-8.5 8.5l-11.1 3.6l-16.7-3.5l-16.6 2l-5.6 3l-11.8 14.5l-10.4 6.8l-11.1 10.7l-22.3 13.6l-11.1 2.7l-5.5-.7l-11.2-4.9l-7.9-5.6l-4.4-5.6l-2.6-11.3l2.7-22.6l-1-28.1l5.7-17l13.1-16.5l11.1-7.8l49.8-20.8l16.9-11.9z" fill="#181cf7" fill-rule="evenodd"/>
<path d="M291.5 2244l5.6-1.4l22.2 .2l8.9 1.8l3.1 5.7l3.9 28.2l-.3 5.6l-4.5 7.1l-22.4 9.8l-7.3 5.6l-9.2 11l-5.5-2l-1.8-3.3l-6-45.1l2.5-11.3l5.3-7.8z" fill="#2400d8" fill-rule="evenodd"/>
<path d="M569.5 2620.1l4.5-12.4l-6.3-8.8l-10.6-5.3l-12.3-8.8l-1.7-12.4l-5.3-15.9l-3.5-12.3l-6-17.7l3.5-12.3l-2.8-10.6l5.3-14.1l2.4-10.6l-7.7-5.3l-7.1-8.8l-8.8-10.6l-1.7-12.4l6.3-17.7l4.9-14.1l4.6-13.7l7.1-7.5l8.1-14.1l5.9-14.1l8.8-14.1l1.8-8.8l3.5-12.4l10.6-5.3l12.3-7.1l3.5-8.8l10.6-3.5l9.1-10.3l6.7-10.9l8.8-12.4l21.1 0l0 409.6l-74.6 0l.7-42.4zM548.3 2406.5l-5.9-1.8l-1.1 10.6l2.5 8.8l3.5-5.2zM536 2459.5l1.8-8.9l-5.3-8.8l-3.5-7.1l-2.8 8.9l4.5 10.6zM543.1 2514.2l7-7.1l-1.8-5.3l-8.8 10.6z" fill="#fff" fill-rule="evenodd"/>
<path class="ct" d="M624 2267l-8.8 12.4l-6.7 10.9l-9.1 10.3l-10.6 3.5l-3.5 8.8l-12.3 7.1l-10.6 5.3l-3.5 12.4l-1.8 8.8l-8.8 14.1l-5.9 14.1l-8.1 14.1l-7.1 7.5l-4.6 13.7l-4.9 14.1l-6.3 17.7l1.7 12.4l8.8 10.6l7.1 8.8l7.7 5.3l-2.4 10.6l-5.3 14.1l2.8 10.6l-3.5 12.3l6 17.7l3.5 12.3l5.3 15.9l1.7 12.4l12.3 8.8l10.6 5.3l6.3 8.8l-4.5 12.4l1.7 14.1l-.7 21.2M542.4 2404.7l5.9 1.8l-1 12.4l-3.5 5.2l-2.5-8.8l1.1-10.6M529 2434.7l3.5 7.1l5.3 8.8l-1.8 8.9l-5.3-5.3l-4.5-10.6l2.8-8.9M548.3 2501.8l1.8 5.3l-7 7.1l-3.6-1.8l8.8-10.6M270.3 2233.5l5.3-1.8l7-3.5l5.3 2.8l5.3-5.6l5.3 2.8l5.2-5.3l5.3 1.8l5.3-7.8l3.5 4.2l5.3-1.7l3.5 6l7.1-.7l5.2 5.3l3.6-1.8l3.5 6.4l7 1.4l8.8-2.5l8.8 3.5l-1.7 5.3l-10.6 0l-8.8 3.6l-3.5 7l.7 10.6l-6 10.6l-5.3 8.8l-3.5 10.6l-5.3 7.1l5.3 5.3l7 1.7l-3.5 5.3l-10.5-3.5l-7.1 8.8l-7-1.7l-5.3 5.3l-3.5 14.1l-3.5-12.4l-7.1-5.3l-8.8 3.6l-5.2-5.3l-7.1 7l-5.3-8.8l-3.5-10.6l1.8-12.3l1.7-14.2l-2.8-10.6l2.8-10.6l-1.7-10.5l7-12.4M178.8 2350l8.8 37.1l5.3 21.2l3.5 21.1l12.3 24.8l12.3 22.9l7.1 23l8.8 21.1l5.3 17.7l-14.1 1.8l-8.8-19.5l-10.6-28.2l-15.8-21.2l-14.1-24.7l-3.5-31.8l-5.3-31.8l3.5-24.7l5.3-8.8M340.7 2567.1l12.3 5.3l10.6 23l1.7 24.7l10.6 19.4l-1.8 15.9M340.7 2567.1l1.8 17.7l7 21.2l3.5 24.7l-3.5 24.7M407.6 2069.3l7 1.8l5.3 12.4l0 21.1l8.8 17.7l8.8 17.6l-3.5 7.1l-7.1-8.8l-10.5-12.4l-3.6-21.2l-7-17.6l1.8-17.7M214 2192.9l15.8-23l14.1-15.8l8.8-5.3l-1.7 8.8l-10.6 17.6l-12.3 14.2l-8.8 5.3l-5.3-1.8M182.3 2240.6l8.8-5.3l5.3 7l-5.3 10.6l-7-1.7l-1.8-10.6M166.5 2290l8.8 3.5l1.8 12.4l-7.1 12.3l-7-1.7l1.7-14.2l1.8-12.3M282.6 2171.7l10.6-5.3l7 8.8l8.8-7l12.3 1.7l-3.5 8.9l1.8 7l-10.6 1.8l-5.3-5.3l-10.5 0l-5.3-5.3l-5.3-5.3M265 2500.1l8.8 5.3l12.3 12.3l10.6 12.4l-3.5 5.3l-10.6-7.1l-10.5-10.6l-7.1-8.8l0-8.8M147.1 2533.6l15.9-1.8l8.8 14.2l-5.3 17.6l-14.1-3.5l-7-10.6l1.7-15.9M184.1 2616.6l12.3 3.5l1.8 14.1l-10.6 3.5l-5.3-10.5l1.8-10.6M368.9 2364.1l8.7-7l10.6-5.3l-1.8 5.3l-10.5 7l-7 0M404 2351.8l3.6 1.7l0 10.6l-3.6 1.8l0-14.1M412.8 2309.4l3.6 3.5l-1.8 10.6l-3.5-3.5l1.7-10.6"/>
<path class="bd" d="M131.3 2077.8l14.1 2.1l12.3-7l8.8 2.8l12.3-7.1l8.8 4.3l8.8 4.9l12.3 12.7l12.3 12l12.4 5l14-9.2l10.6 3.5l14.1 4.2l14-5.6l14.1-2.1l14.1-.7l14.1-2.1l14.1-11.3M342.5 2084.2l17.6-18.4l17.5-19.4l8.8-8.8l-3.5-7.1l-5.3-10.6M386.4 2037.6l10.6 3.5l7 3.5l3.6 12.4l3.5 12.3l8.8 5.3l24.6 1.1l14.1 9.5l14.1 8.8l14 9.2l14.1 .7l17.6 3.6l19.4 2.8l10.5-12.7l19.4-10.6l14.1-5.7l12.3 10.6l26.4-.3l3.5-2.9M620.5 2091.6l-17.6 23.6l-14.1 17l0 129.5l19.7 28.6M342.5 2084.2l5.2 11.6l8.8 8.8l1.8 14.2l10.6 12.3l7 14.1l1.7 17.7l-5.2 15.9l-8.8 14.1l-10.6 14.1l-7 10.6l-5.3 7.1M344.2 2268.1l33.4 18.4l35.2 19.4l35.2 21.2l21.2 11.3l5.2 11.6l-3.5 7.1l7 5.3l22.9 15.9l26.4 18M217.5 2269.5l10.6-2.5l35.9 0M233.4 2107.5l-5.3 18.3l1.7 19.4l15.9 8.9M215.8 2189.4l-7.1 10.6l-8.8 10.6l-3.5 17.6l-7 17.7l-1.8 17.6l0 15.9M187.6 2279.4l12.3 3.5l8.8-5.3l8.8-8.1M217.5 2269.5l10.6 11.7l3.5 19.4l-1.8 14.1l-8.8 1.8M221 2316.5l-12.3-1.8l-8.8 1.8l-1.7 12.3l-17.6 2.5l-12.3-7.8l-6-3.5M162.3 2320l7.7-14.1l1.8-14.1l7-7.1l8.8-5.3M221 2316.5l-3.5 12.3l14.1 15.9l-10.6 12.4l-12.3 17.6l-8.8 10.6l-10.5 3.9M162.3 2320l6 12.4l5.9 15.8l1.1 19.5l5.3 21.1M131.3 2535.4l10.6-1.8l21.1-2.5l24.6-4.6l24.6-3.5l15.9-1.8M150.7 2556.5l3.5 19.5l-1.8 19.4l1.8 14.1l-5.3 17.7l-3.5 17.6l0 10.6M242.2 2535.4l15.8 8.8l14.1 7l17.6 7.1l15.8 5.3M305.5 2563.6l12.3 3.5l14.1 3.6l8.8-2.9M305.5 2563.6l10.6 8.8l3.5 12.4l8.8 14.1l-7.1 14.1l-5.2 14.2l1.7 14.1l-1.7 14.1M375.9 2640.2l15.8 1.1l14.1-10.6l14.1 10.6l14.1 3.5l17.6-1.8l14-1.7l14.1-10.6l14.1 0l17.6-1.8l17.6-7l17.6-7.1l10.5-5.3l10.6-9.9M375.9 2640.2l-10.6 1.1l-1.7 14.1"/>
<path d="M131.3 2549.5l0-35.3l0-35.3l0-35.3l0-35.3l0-35.3l0-35.3l0-35.4l0-35.3l0-35.3l0-35.3l0-35.3l0-35.3l0-35.3l0-35.3l35.2 0l0-35.3l457.5 0l0 35.3l0 35.3l0 35.3l0 35.3l0 35.3l0 35.3l0 35.3l-8.8 12.4l-6.7 10.9l-9.1 10.3l-10.6 3.5l-3.5 8.8l-12.3 7.1l-10.6 5.3l-3.5 12.4l-1.8 8.8l-8.8 14.1l-5.9 14.1l-8.1 14.1l-7.1 7.5l-4.6 13.7l-4.9 14.1l-6.3 17.7l1.7 12.4l8.8 10.6l7.1 8.8l7.7 5.3l-2.4 10.6l-5.3 14.1l2.8 10.6l-3.5 12.3l6 17.7l1.5 5.3l-17.4 0l0 35.3l0 35.3l-35.2 0l0 35.3l-351.9 0l0-35.3l0-35.3zM541.3 2415.3l1.1-10.6l5.9 1.8l-1 12.4l-3.5 5.2zM529 2434.7l3.5 7.1l5.3 8.8l-1.8 8.9l-5.3-5.3l-4.5-10.6zM550.1 2507.1l-7 7.1l-3.6-1.8l8.8-10.6z" fill="url(#h_g)" fill-rule="evenodd"/>
<path d="M142.4 2022.9h0m32.8 0h0m32.8 0h0m32.8 0h0m32.8 0h0m32.8 0h0m32.8 0h0m32.8 0h0m32.8 0h0m32.8 0h0m32.8 0h0m32.8 0h0m32.8 0h0m32.8 0h0m32.8 0h0m-442.8 16.4h0m32.8 0h0m32.8 0h0m32.8 0h0m32.8 0h0m32.8 0h0m32.8 0h0m32.8 0h0m32.8 0h0m32.8 0h0m32.8 0h0m32.8 0h0m32.8 0h0m32.8 0h0m32.8 0h0m-475.6 16.5h0m32.8 0h0m32.8 0h0m32.8 0h0m32.8 0h0m32.8 0h0m32.8 0h0m32.8 0h0m32.8 0h0m32.8 0h0m32.8 0h0m32.8 0h0m32.8 0h0m32.8 0h0m32.8 0h0m-442.8 16.4h0m32.8 0h0m32.8 0h0m32.8 0h0m32.8 0h0m32.8 0h0m32.8 0h0m32.8 0h0m32.8 0h0m32.8 0h0m32.8 0h0m32.8 0h0m32.8 0h0m32.8 0h0m32.8 0h0m-475.6 16.4h0m32.8 0h0m32.8 0h0m32.8 0h0m32.8 0h0m32.8 0h0m32.8 0h0m32.8 0h0m32.8 0h0m32.8 0h0m32.8 0h0m32.8 0h0m32.8 0h0m32.8 0h0m32.8 0h0m-442.8 16.5h0m32.8 0h0m32.8 0h0m32.8 0h0m32.8 0h0m32.8 0h0m32.8 0h0m32.8 0h0m32.8 0h0m32.8 0h0m32.8 0h0m32.8 0h0m32.8 0h0m32.8 0h0m32.8 0h0m-475.6 16.4h0m32.8 0h0m32.8 0h0m32.8 0h0m32.8 0h0m32.8 0h0m32.8 0h0m32.8 0h0m32.8 0h0m32.8 0h0m32.8 0h0m32.8 0h0m32.8 0h0m32.8 0h0m32.8 0h0m-442.8 16.4h0m32.8 0h0m32.8 0h0m32.8 0h0m32.8 0h0m32.8 0h0m32.8 0h0m32.8 0h0m32.8 0h0m32.8 0h0m32.8 0h0m32.8 0h0m32.8 0h0m32.8 0h0m32.8 0h0m-475.6 16.4h0m32.8 0h0m32.8 0h0m32.8 0h0m32.8 0h0m32.8 0h0m32.8 0h0m32.8 0h0m32.8 0h0m32.8 0h0m32.8 0h0m32.8 0h0m32.8 0h0m32.8 0h0m32.8 0h0m-442.8 16.5h0m32.8 0h0m32.8 0h0m32.8 0h0m32.8 0h0m32.8 0h0m32.8 0h0m32.8 0h0m32.8 0h0m32.8 0h0m32.8 0h0m32.8 0h0m32.8 0h0m32.8 0h0m32.8 0h0m-475.6 16.4h0m32.8 0h0m32.8 0h0m32.8 0h0m32.8 0h0m32.8 0h0m32.8 0h0m32.8 0h0m32.8 0h0m32.8 0h0m32.8 0h0m32.8 0h0m32.8 0h0m32.8 0h0m32.8 0h0m-442.8 16.4h0m32.8 0h0m32.8 0h0m32.8 0h0m32.8 0h0m32.8 0h0m32.8 0h0m32.8 0h0m32.8 0h0m32.8 0h0m32.8 0h0m32.8 0h0m32.8 0h0m32.8 0h0m32.8 0h0m-475.6 16.5h0m32.8 0h0m32.8 0h0m32.8 0h0m32.8 0h0m32.8 0h0m32.8 0h0m32.8 0h0m32.8 0h0m32.8 0h0m32.8 0h0m32.8 0h0m32.8 0h0m32.8 0h0m32.8 0h0m-442.8 16.4h0m32.8 0h0m32.8 0h0m32.8 0h0m32.8 0h0m32.8 0h0m32.8 0h0m32.8 0h0m32.8 0h0m32.8 0h0m32.8 0h0m32.8 0h0m32.8 0h0m32.8 0h0m32.8 0h0m-475.6 16.4h0m32.8 0h0m32.8 0h0m32.8 0h0m32.8 0h0m32.8 0h0m32.8 0h0m32.8 0h0m32.8 0h0m32.8 0h0m32.8 0h0m32.8 0h0m32.8 0h0m32.8 0h0m32.8 0h0m-442.8 16.4h0m32.8 0h0m32.8 0h0m32.8 0h0m32.8 0h0m32.8 0h0m32.8 0h0m32.8 0h0m32.8 0h0m32.8 0h0m32.8 0h0m32.8 0h0m32.8 0h0m32.8 0h0m32.8 0h0m-475.6 16.5h0m32.8 0h0m32.8 0h0m32.8 0h0m32.8 0h0m32.8 0h0m32.8 0h0m32.8 0h0m32.8 0h0m32.8 0h0m32.8 0h0m32.8 0h0m32.8 0h0m32.8 0h0m32.8 0h0m-442.8 16.4h0m32.8 0h0m32.8 0h0m32.8 0h0m32.8 0h0m32.8 0h0m32.8 0h0m32.8 0h0m32.8 0h0m32.8 0h0m32.8 0h0m32.8 0h0m32.8 0h0m32.8 0h0m-442.8 16.4h0m32.8 0h0m32.8 0h0m32.8 0h0m32.8 0h0m32.8 0h0m32.8 0h0m32.8 0h0m32.8 0h0m32.8 0h0m32.8 0h0m32.8 0h0m32.8 0h0m32.8 0h0m-410 16.5h0m32.8 0h0m32.8 0h0m32.8 0h0m32.8 0h0m32.8 0h0m32.8 0h0m32.8 0h0m32.8 0h0m32.8 0h0m32.8 0h0m32.8 0h0m32.8 0h0m-410 16.4h0m32.8 0h0m32.8 0h0m32.8 0h0m32.8 0h0m32.8 0h0m32.8 0h0m32.8 0h0m32.8 0h0m32.8 0h0m32.8 0h0m32.8 0h0m32.8 0h0m-377.2 16.4h0m32.8 0h0m32.8 0h0m32.8 0h0m32.8 0h0m32.8 0h0m32.8 0h0m32.8 0h0m32.8 0h0m32.8 0h0m32.8 0h0m32.8 0h0m-377.2 16.5h0m32.8 0h0m32.8 0h0m32.8 0h0m32.8 0h0m32.8 0h0m32.8 0h0m32.8 0h0m32.8 0h0m32.8 0h0m32.8 0h0m32.8 0h0m32.8 0h0m-377.2 16.4h0m32.8 0h0m32.8 0h0m32.8 0h0m32.8 0h0m32.8 0h0m32.8 0h0m32.8 0h0m32.8 0h0m32.8 0h0m32.8 0h0m32.8 0h0m-377.2 16.4h0m32.8 0h0m32.8 0h0m32.8 0h0m32.8 0h0m32.8 0h0m32.8 0h0m32.8 0h0m32.8 0h0m32.8 0h0m32.8 0h0m32.8 0h0m-344.4 16.5h0m32.8 0h0m32.8 0h0m32.8 0h0m32.8 0h0m32.8 0h0m32.8 0h0m32.8 0h0m32.8 0h0m32.8 0h0m32.8 0h0m-344.4 16.4h0m32.8 0h0m32.8 0h0m32.8 0h0m32.8 0h0m32.8 0h0m32.8 0h0m32.8 0h0m32.8 0h0m32.8 0h0m32.8 0h0m32.8 0h0m32.8 0h0m-377.2 16.4h0m32.8 0h0m32.8 0h0m32.8 0h0m32.8 0h0m32.8 0h0m32.8 0h0m32.8 0h0m32.8 0h0m32.8 0h0m32.8 0h0m32.8 0h0m-377.2 16.4h0m32.8 0h0m32.8 0h0m32.8 0h0m32.8 0h0m32.8 0h0m32.8 0h0m32.8 0h0m32.8 0h0m32.8 0h0m32.8 0h0m32.8 0h0m32.8 0h0m-377.2 16.5h0m32.8 0h0m32.8 0h0m32.8 0h0m32.8 0h0m32.8 0h0m32.8 0h0m32.8 0h0m32.8 0h0m32.8 0h0m32.8 0h0m32.8 0h0m-377.2 16.4h0m32.8 0h0m32.8 0h0m32.8 0h0m32.8 0h0m32.8 0h0m32.8 0h0m32.8 0h0m32.8 0h0m32.8 0h0m32.8 0h0m32.8 0h0m-344.4 16.4h0m32.8 0h0m32.8 0h0m32.8 0h0m32.8 0h0m32.8 0h0m32.8 0h0m32.8 0h0m32.8 0h0m32.8 0h0m32.8 0h0m32.8 0h0m-377.2 16.5h0m32.8 0h0m32.8 0h0m32.8 0h0m32.8 0h0m32.8 0h0m32.8 0h0m32.8 0h0m32.8 0h0m32.8 0h0m32.8 0h0m32.8 0h0m32.8 0h0m-377.2 16.4h0m32.8 0h0m32.8 0h0m32.8 0h0m32.8 0h0m32.8 0h0m32.8 0h0m32.8 0h0m32.8 0h0m32.8 0h0m32.8 0h0m32.8 0h0m-377.2 16.4h0m32.8 0h0m32.8 0h0m32.8 0h0m32.8 0h0m32.8 0h0m32.8 0h0m32.8 0h0m32.8 0h0m32.8 0h0m32.8 0h0m32.8 0h0m32.8 0h0m-377.2 16.4h0m32.8 0h0m32.8 0h0m32.8 0h0m32.8 0h0m32.8 0h0m32.8 0h0m32.8 0h0m32.8 0h0m32.8 0h0m32.8 0h0m32.8 0h0m32.8 0h0m-410 16.5h0m32.8 0h0m32.8 0h0m32.8 0h0m32.8 0h0m32.8 0h0m32.8 0h0m32.8 0h0m32.8 0h0m32.8 0h0m32.8 0h0m32.8 0h0m32.8 0h0m32.8 0h0m-410 16.4h0m32.8 0h0m32.8 0h0m32.8 0h0m32.8 0h0m32.8 0h0m32.8 0h0m32.8 0h0m32.8 0h0m32.8 0h0m32.8 0h0m32.8 0h0m32.8 0h0m-410 16.4h0m32.8 0h0m32.8 0h0m32.8 0h0m32.8 0h0m32.8 0h0m32.8 0h0m32.8 0h0m32.8 0h0m32.8 0h0m32.8 0h0m32.8 0h0m32.8 0h0m32.8 0h0" stroke="#000" stroke-width="8.5" stroke-linecap="round" fill="none"/>
</g>
<path class="tk" d="M131.3 2003.4v16.5M131.3 2655.4v16.5M272.1 2003.4v16.5M272.1 2655.4v16.5M412.8 2003.4v16.5M412.8 2655.4v16.5M553.6 2003.4v16.5M553.6 2655.4v16.5M114.8 2090.5h16.5M624 2090.5h16.5M114.8 2231.7h16.5M624 2231.7h16.5M114.8 2373h16.5M624 2373h16.5M114.8 2514.2h16.5M624 2514.2h16.5M114.8 2655.4h16.5M624 2655.4h16.5"/>
<rect class="fr" x="131.3" y="2019.9" width="492.7" height="635.5"/>
<text x="129" y="1978" font-size="50">g) PRCPTOT</text>
<text x="89.5" y="2104.8" font-size="40" text-anchor="end">4N</text>
<text x="89.5" y="2246.1" font-size="40" text-anchor="end">0</text>
<text x="89.5" y="2387.3" font-size="40" text-anchor="end">4S</text>
<text x="89.5" y="2528.5" font-size="40" text-anchor="end">8S</text>
<text x="89.5" y="2669.7" font-size="40" text-anchor="end">12S</text>
<text x="131.3" y="2731" font-size="40" text-anchor="middle">28E</text>
<text x="272.1" y="2731" font-size="40" text-anchor="middle">32E</text>
<text x="412.8" y="2731" font-size="40" text-anchor="middle">36E</text>
<text x="553.6" y="2731" font-size="40" text-anchor="middle">40E</text>
<text x="377.6" y="2770.5" font-size="48.5" text-anchor="middle">mm</text>
<g class="cbx">
<path d="M128.8 2777L81.2 2794.5L128.8 2812Z" fill="#ffac75"/>
<rect x="128.8" y="2777" width="49.7" height="35" fill="#ffd699"/>
<rect x="178.6" y="2777" width="49.7" height="35" fill="#fff1bc"/>
<rect x="228.3" y="2777" width="49.7" height="35" fill="#eaffff"/>
<rect x="278" y="2777" width="49.7" height="35" fill="#bcf9ff"/>
<rect x="327.8" y="2777" width="49.7" height="35" fill="#99eaff"/>
<rect x="377.5" y="2777" width="49.7" height="35" fill="#75d3ff"/>
<rect x="427.3" y="2777" width="49.7" height="35" fill="#56b0ff"/>
<rect x="477" y="2777" width="49.7" height="35" fill="#3d87ff"/>
<rect x="526.8" y="2777" width="49.7" height="35" fill="#2857ff"/>
<rect x="576.5" y="2777" width="49.7" height="35" fill="#181cf7"/>
<path d="M626.3 2777L674.3 2794.5L626.3 2812Z" fill="#2400d8"/>
</g>
<text x="128.8" y="2860" font-size="48" text-anchor="middle">-10</text>
<text x="228.3" y="2860" font-size="48" text-anchor="middle">0</text>
<text x="327.8" y="2860" font-size="48" text-anchor="middle">10</text>
<text x="427.3" y="2860" font-size="48" text-anchor="middle">20</text>
<text x="526.8" y="2860" font-size="48" text-anchor="middle">30</text>
<text x="626.3" y="2860" font-size="48" text-anchor="middle">40</text>
</g>
<g id="p_h">
<g clip-path="url(#c_h)">
<rect x="805.8" y="2019.9" width="493.2" height="635.5" fill="#eaffff"/>
<path d="M1299.4 2357.9l-16.2 2.3l-2.4 8.5l-3.1 1.2l-11.1 0l-27.9 6.4l-11.1 .4l-11.1-2.1l-11.1-5.4l-22.3-20.6l-5.5-2.4l-5.6-.1l-22.3 5.1l-11.1 .1l-11.1-2l-11.1-7.2l-1.8-7.3l6-11.2l6.9-6.1l26.3-10.9l15.7-22.5l2.6-5.6l.7-11.3l-6.4-15.6l-5.5-5.6l-5.6-2.3l-22.2-2l-22.3-7.7l-11.1 2.5l-22.3-2.7l-16.7 3.5l-11.1-2.9l-8.7-6.7l-5.7-11.2l-12.8-11.3l-4.2-22.6l-6.5-11.2l-21.3-17l-13.1-14.9l-11.1-9.7l-5.6-2.3l-11.1 1.7l-16.7 11.5l-16.1-3.2l10.4-33.8l-2.4-62l-4-22.2l378.7 0z" fill="#bcf9ff" fill-rule="evenodd"/>
<path d="M1066.3 2064.7l5.6-.2l11.1 3.3l27.8 18.2l11.1 1.5l16.7-2.7l5.6 1.5l6.6 6.1l6.3 22.6l3.8 4.2l22.2 10.2l11 8.1l20.2 28.2l5.8 11.3l-1.3 28.2l-2.3 7.1l-5.6 6.3l-5.5 .8l-5.6-4.9l-8-20.6l-8.7-11.3l-33.4-1.9l-5.5 .6l-11.1 5.7l-5.6-1.7l-1.5-2.7l-1.5-16.9l-3-5.6l-5.1-3.5l-11.2-.6l-27.8 6.6l-34.3-2.5l-5.2-16.9l5.6-16.9l1.6-22.6l3.7-22.5l6.4-11zM1277.7 2123.6l21.7 5.7l0 29l-27.3 .1l-5.5-2.7l-5.4-6.9l-2.5-11.3l2.3-7.4l5.6-4.9zM1299.4 2089l-16.2-2.6l-22.2 2.6l-11.1-1.7l-36.3-23l-.1-17l1.7-5.6l9.7-11.3l4.1-10.9l70.4 0z" fill="#99eaff" fill-rule="evenodd"/>
<path d="M1244.4 2620.1l4.6-12.4l-6.4-8.8l-10.5-5.3l-12.4-8.8l-1.7-12.4l-5.3-15.9l-3.5-12.3l-6-17.7l3.5-12.3l-2.8-10.6l5.3-14.1l2.4-10.6l-7.7-5.3l-7.1-8.8l-8.8-10.6l-1.7-12.4l6.3-17.7l4.9-14.1l4.6-13.7l7.1-7.5l8.1-14.1l6-14.1l8.8-14.1l1.7-8.8l3.5-12.4l10.6-5.3l12.3-7.1l3.6-8.8l10.5-3.5l9.2-10.3l6.7-10.9l8.8-12.4l21.1 0l0 409.6l-74.6 0l.7-42.4zM1223.3 2406.5l-6-1.8l-1.1 10.6l2.5 8.8l3.5-5.2zM1210.9 2459.5l1.8-8.9l-5.3-8.8l-3.5-7.1l-2.8 8.9l4.5 10.6zM1218 2514.2l7-7.1l-1.7-5.3l-8.8 10.6z" fill="#fff" fill-rule="evenodd"/>
<path class="ct" d="M1299 2267l-8.8 12.4l-6.7 10.9l-9.2 10.3l-10.5 3.5l-3.6 8.8l-12.3 7.1l-10.6 5.3l-3.5 12.4l-1.7 8.8l-8.8 14.1l-6 14.1l-8.1 14.1l-7.1 7.5l-4.6 13.7l-4.9 14.1l-6.3 17.7l1.7 12.4l8.8 10.6l7.1 8.8l7.7 5.3l-2.4 10.6l-5.3 14.1l2.8 10.6l-3.5 12.3l6 17.7l3.5 12.3l5.3 15.9l1.7 12.4l12.4 8.8l10.5 5.3l6.4 8.8l-4.6 12.4l1.8 14.1l-.7 21.2M1217.3 2404.7l6 1.8l-1.1 12.4l-3.5 5.2l-2.5-8.8l1.1-10.6M1203.9 2434.7l3.5 7.1l5.3 8.8l-1.8 8.9l-5.3-5.3l-4.5-10.6l2.8-8.9M1223.3 2501.8l1.7 5.3l-7 7.1l-3.5-1.8l8.8-10.6M945 2233.5l5.2-1.8l7.1-3.5l5.3 2.8l5.3-5.6l5.2 2.8l5.3-5.3l5.3 1.8l5.3-7.8l3.5 4.2l5.3-1.7l3.5 6l7.1-.7l5.2 5.3l3.6-1.8l3.5 6.4l7 1.4l8.8-2.5l8.9 3.5l-1.8 5.3l-10.6 0l-8.8 3.6l-3.5 7l.7 10.6l-6 10.6l-5.3 8.8l-3.5 10.6l-5.3 7.1l5.3 5.3l7 1.7l-3.5 5.3l-10.5-3.5l-7.1 8.8l-7-1.7l-5.3 5.3l-3.5 14.1l-3.6-12.4l-7-5.3l-8.8 3.6l-5.3-5.3l-7 7l-5.3-8.8l-3.6-10.6l1.8-12.3l1.8-14.2l-2.8-10.6l2.8-10.6l-1.8-10.5l7.1-12.4M853.4 2350l8.8 37.1l5.2 21.2l3.6 21.1l12.3 24.8l12.3 22.9l7.1 23l8.8 21.1l5.3 17.7l-14.1 1.8l-8.8-19.5l-10.6-28.2l-15.9-21.2l-14-24.7l-3.6-31.8l-5.2-31.8l3.5-24.7l5.3-8.8M1015.4 2567.1l12.3 5.3l10.6 23l1.8 24.7l10.5 19.4l-1.7 15.9M1015.4 2567.1l1.8 17.7l7 21.2l3.5 24.7l-3.5 24.7M1082.3 2069.3l7.1 1.8l5.3 12.4l0 21.1l8.8 17.7l8.8 17.6l-3.5 7.1l-7.1-8.8l-10.5-12.4l-3.6-21.2l-7-17.6l1.7-17.7M888.6 2192.9l15.8-23l14.1-15.8l8.8-5.3l-1.7 8.8l-10.6 17.6l-12.3 14.2l-8.8 5.3l-5.3-1.8M856.9 2240.6l8.8-5.3l5.3 7l-5.3 10.6l-7.1-1.7l-1.7-10.6M841 2290l8.8 3.5l1.8 12.4l-7 12.3l-7.1-1.7l1.8-14.2l1.7-12.3M957.3 2171.7l10.6-5.3l7 8.8l8.8-7l12.3 1.7l-3.5 8.9l1.8 7l-10.6 1.8l-5.3-5.3l-10.5 0l-5.3-5.3l-5.3-5.3M939.7 2500.1l8.8 5.3l12.3 12.3l10.6 12.4l-3.5 5.3l-10.6-7.1l-10.6-10.6l-7-8.8l0-8.8M821.7 2533.6l15.8-1.8l8.8 14.2l-5.3 17.6l-14.1-3.5l-7-10.6l1.8-15.9M858.6 2616.6l12.4 3.5l1.7 14.1l-10.5 3.5l-5.3-10.5l1.7-10.6M1043.6 2364.1l8.8-7l10.6-5.3l-1.8 5.3l-10.6 7l-7 0M1078.8 2351.8l3.5 1.7l0 10.6l-3.5 1.8l0-14.1M1087.6 2309.4l3.6 3.5l-1.8 10.6l-3.5-3.5l1.7-10.6"/>
<path class="bd" d="M805.8 2077.8l14.1 2.1l12.3-7l8.8 2.8l12.4-7.1l8.8 4.3l8.8 4.9l12.3 12.7l12.3 12l12.4 5l14.1-9.2l10.5 3.5l14.1 4.2l14.1-5.6l14.1-2.1l14.1-.7l14.1-2.1l14.1-11.3M1017.2 2084.2l17.6-18.4l17.6-19.4l8.8-8.8l-3.5-7.1l-5.3-10.6M1061.2 2037.6l10.6 3.5l7 3.5l3.5 12.4l3.6 12.3l8.8 5.3l24.6 1.1l14.1 9.5l14.1 8.8l14.1 9.2l14.1 .7l17.6 3.6l19.4 2.8l10.6-12.7l19.3-10.6l14.1-5.7l12.4 10.6l26.4-.3l3.5-2.9M1295.5 2091.6l-17.6 23.6l-14.1 17l0 129.5l19.7 28.6M1017.2 2084.2l5.3 11.6l8.8 8.8l1.7 14.2l10.6 12.3l7 14.1l1.8 17.7l-5.3 15.9l-8.8 14.1l-10.6 14.1l-7 10.6l-5.3 7.1M1018.9 2268.1l33.5 18.4l35.2 19.4l35.3 21.2l21.1 11.3l5.3 11.6l-3.5 7.1l7 5.3l22.9 15.9l26.4 18M892.1 2269.5l10.6-2.5l35.9 0M908 2107.5l-5.3 18.3l1.7 19.4l15.9 8.9M890.3 2189.4l-7 10.6l-8.8 10.6l-3.5 17.6l-7.1 17.7l-1.7 17.6l0 15.9M862.2 2279.4l12.3 3.5l8.8-5.3l8.8-8.1M892.1 2269.5l10.6 11.7l3.5 19.4l-1.8 14.1l-8.8 1.8M895.6 2316.5l-12.3-1.8l-8.8 1.8l-1.8 12.3l-17.6 2.5l-12.3-7.8l-6-3.5M836.8 2320l7.8-14.1l1.7-14.1l7.1-7.1l8.8-5.3M895.6 2316.5l-3.5 12.3l14.1 15.9l-10.6 12.4l-12.3 17.6l-8.8 10.6l-10.6 3.9M836.8 2320l6 12.4l6 15.8l1 19.5l5.3 21.1M805.8 2535.4l10.6-1.8l21.1-2.5l24.7-4.6l24.6-3.5l15.9-1.8M825.2 2556.5l3.5 19.5l-1.8 19.4l1.8 14.1l-5.3 17.7l-3.5 17.6l0 10.6M916.8 2535.4l15.8 8.8l14.1 7l17.6 7.1l15.9 5.3M980.2 2563.6l12.3 3.5l14.1 3.6l8.8-2.9M980.2 2563.6l10.6 8.8l3.5 12.4l8.8 14.1l-7.1 14.1l-5.2 14.2l1.7 14.1l-1.7 14.1M1050.6 2640.2l15.9 1.1l14.1-10.6l14.1 10.6l14.1 3.5l17.6-1.8l14.1-1.7l14.1-10.6l14.1 0l17.6-1.8l17.6-7l17.6-7.1l10.6-5.3l10.5-9.9M1050.6 2640.2l-10.5 1.1l-1.8 14.1"/>
<path d="M805.8 2408.3l0-35.3l0-35.3l0-35.4l0-35.3l0-35.3l0-35.3l0-35.3l0-35.3l0-35.3l0-35.3l0-35.3l493.2 0l0 35.3l0 35.3l0 35.3l0 35.3l0 35.3l0 35.3l0 35.3l-8.8 12.4l-6.7 10.9l-9.2 10.3l-10.5 3.5l-3.6 8.8l-12.3 7.1l-10.6 5.3l-3.5 12.4l-5.3 0l0 14.4l-5.2 8.5l-6 14.1l-8.1 14.1l-7.1 7.5l-4 12l-4.8 0l0 13.8l-.7 2l-6.3 17.7l1.7 12.4l5.3 6.3l0 18.4l18.3 0l-2.4 10.6l-5.3 14.1l2.8 10.6l-3.5 12.3l6 17.7l3.5 12.3l5.3 15.9l1.7 12.4l12.4 8.8l10.5 5.3l6.4 8.8l-4.6 12.4l1.8 14.1l-.4 21.2l-263.9 0l0-35.3l0-35.3l0-35.3l35.3 0l0-35.3l35.2 0l0-35.3l0-35.3l0-35.3l0-35.3l35.2 0l0-35.3l-70.4 0l0 35.3l-35.3 0l0 35.3l-35.2 0l0 35.3l-35.2 0l0 35.3l-35.2 0l0 35.3l-70.5 0l0-35.3l0-35.3zM1216.9 2408.3l.4-3.6l6 1.8l-.2 1.8zM1225 2507.1l-7 7.1l-3.5-1.8l8.8-10.6z" fill="url(#h_h)" fill-rule="evenodd"/>
<path d="M829.5 2022.9h0m-16.4 16.4h0m180.4 410.8h0m65.6 0h0m-49.2 16.4h0m32.8 0h0m32.8 0h0m-114.8 16.4h0m32.8 0h0m32.8 0h0m-49.2 16.5h0m65.6 0h0m-16.4 16.4h0m16.4 16.4h0m-16.4 16.5h0m-180.4 16.4h0m65.6 0h0m-49.2 16.4h0m65.6 0h0m65.6 0h0m-82 16.4h0m32.8 0h0m-16.4 16.5h0" stroke="#1a1af0" stroke-width="8.5" stroke-linecap="round" fill="none"/>
<path d="M862.3 2022.9h0m32.8 0h0m32.8 0h0m32.8 0h0m32.8 0h0m32.8 0h0m32.8 0h0m32.8 0h0m32.8 0h0m32.8 0h0m32.8 0h0m32.8 0h0m32.8 0h0m32.8 0h0m-442.8 16.4h0m32.8 0h0m32.8 0h0m32.8 0h0m32.8 0h0m32.8 0h0m32.8 0h0m32.8 0h0m32.8 0h0m32.8 0h0m32.8 0h0m32.8 0h0m32.8 0h0m32.8 0h0m-442.8 16.5h0m32.8 0h0m32.8 0h0m32.8 0h0m32.8 0h0m32.8 0h0m32.8 0h0m32.8 0h0m32.8 0h0m32.8 0h0m32.8 0h0m32.8 0h0m32.8 0h0m32.8 0h0m32.8 0h0m-475.6 16.4h0m32.8 0h0m32.8 0h0m32.8 0h0m32.8 0h0m32.8 0h0m32.8 0h0m32.8 0h0m32.8 0h0m32.8 0h0m32.8 0h0m32.8 0h0m32.8 0h0m32.8 0h0m32.8 0h0m-442.8 16.4h0m32.8 0h0m32.8 0h0m32.8 0h0m32.8 0h0m32.8 0h0m32.8 0h0m32.8 0h0m32.8 0h0m32.8 0h0m32.8 0h0m32.8 0h0m32.8 0h0m32.8 0h0m32.8 0h0m-475.6 16.5h0m32.8 0h0m32.8 0h0m32.8 0h0m32.8 0h0m32.8 0h0m32.8 0h0m32.8 0h0m32.8 0h0m32.8 0h0m32.8 0h0m32.8 0h0m32.8 0h0m32.8 0h0m32.8 0h0m-442.8 16.4h0m32.8 0h0m32.8 0h0m32.8 0h0m32.8 0h0m32.8 0h0m32.8 0h0m32.8 0h0m32.8 0h0m32.8 0h0m32.8 0h0m32.8 0h0m32.8 0h0m32.8 0h0m32.8 0h0m-475.6 16.4h0m32.8 0h0m32.8 0h0m32.8 0h0m32.8 0h0m32.8 0h0m32.8 0h0m32.8 0h0m32.8 0h0m32.8 0h0m32.8 0h0m32.8 0h0m32.8 0h0m32.8 0h0m32.8 0h0m-442.8 16.4h0m32.8 0h0m32.8 0h0m32.8 0h0m32.8 0h0m32.8 0h0m32.8 0h0m32.8 0h0m32.8 0h0m32.8 0h0m32.8 0h0m32.8 0h0m32.8 0h0m32.8 0h0m32.8 0h0m-475.6 16.5h0m32.8 0h0m32.8 0h0m32.8 0h0m32.8 0h0m32.8 0h0m32.8 0h0m32.8 0h0m32.8 0h0m32.8 0h0m32.8 0h0m32.8 0h0m32.8 0h0m32.8 0h0m32.8 0h0m-442.8 16.4h0m32.8 0h0m32.8 0h0m32.8 0h0m32.8 0h0m32.8 0h0m32.8 0h0m32.8 0h0m32.8 0h0m32.8 0h0m32.8 0h0m32.8 0h0m32.8 0h0m32.8 0h0m32.8 0h0m-442.8 16.4h0m32.8 0h0m32.8 0h0m32.8 0h0m32.8 0h0m32.8 0h0m32.8 0h0m32.8 0h0m32.8 0h0m32.8 0h0m32.8 0h0m32.8 0h0m32.8 0h0m32.8 0h0m-410 16.5h0m32.8 0h0m32.8 0h0m32.8 0h0m32.8 0h0m32.8 0h0m32.8 0h0m32.8 0h0m32.8 0h0m32.8 0h0m32.8 0h0m32.8 0h0m32.8 0h0m32.8 0h0m-442.8 16.4h0m32.8 0h0m32.8 0h0m32.8 0h0m32.8 0h0m32.8 0h0m32.8 0h0m32.8 0h0m32.8 0h0m32.8 0h0m32.8 0h0m32.8 0h0m32.8 0h0m32.8 0h0m-410 16.4h0m32.8 0h0m32.8 0h0m32.8 0h0m32.8 0h0m32.8 0h0m32.8 0h0m32.8 0h0m32.8 0h0m32.8 0h0m32.8 0h0m32.8 0h0m32.8 0h0m32.8 0h0m-475.6 16.4h0m32.8 0h0m32.8 0h0m32.8 0h0m32.8 0h0m32.8 0h0m32.8 0h0m32.8 0h0m32.8 0h0m32.8 0h0m32.8 0h0m32.8 0h0m32.8 0h0m32.8 0h0m32.8 0h0m-442.8 16.5h0m32.8 0h0m32.8 0h0m32.8 0h0m32.8 0h0m32.8 0h0m32.8 0h0m32.8 0h0m32.8 0h0m32.8 0h0m32.8 0h0m32.8 0h0m32.8 0h0m32.8 0h0m32.8 0h0m-475.6 16.4h0m32.8 0h0m32.8 0h0m32.8 0h0m32.8 0h0m32.8 0h0m32.8 0h0m32.8 0h0m32.8 0h0m32.8 0h0m32.8 0h0m32.8 0h0m32.8 0h0m32.8 0h0m32.8 0h0m-442.8 16.4h0m32.8 0h0m32.8 0h0m32.8 0h0m32.8 0h0m32.8 0h0m32.8 0h0m32.8 0h0m32.8 0h0m32.8 0h0m32.8 0h0m32.8 0h0m32.8 0h0m32.8 0h0m-442.8 16.5h0m32.8 0h0m32.8 0h0m32.8 0h0m32.8 0h0m32.8 0h0m32.8 0h0m32.8 0h0m32.8 0h0m32.8 0h0m32.8 0h0m32.8 0h0m32.8 0h0m-377.2 16.4h0m32.8 0h0m32.8 0h0m32.8 0h0m32.8 0h0m32.8 0h0m65.6 0h0m32.8 0h0m32.8 0h0m32.8 0h0m32.8 0h0m32.8 0h0m-410 16.4h0m32.8 0h0m32.8 0h0m32.8 0h0m32.8 0h0m32.8 0h0m32.8 0h0m65.6 0h0m32.8 0h0m32.8 0h0m32.8 0h0m32.8 0h0m-377.2 16.5h0m32.8 0h0m32.8 0h0m32.8 0h0m32.8 0h0m98.4 0h0m32.8 0h0m32.8 0h0m32.8 0h0m32.8 0h0m-377.2 16.4h0m32.8 0h0m32.8 0h0m32.8 0h0m32.8 0h0m32.8 0h0m98.4 0h0m32.8 0h0m32.8 0h0m32.8 0h0m-344.4 16.4h0m32.8 0h0m32.8 0h0m32.8 0h0m32.8 0h0m98.4 0h0m32.8 0h0m32.8 0h0m32.8 0h0m32.8 0h0m-377.2 16.5h0m32.8 0h0m32.8 0h0m32.8 0h0m32.8 0h0m32.8 0h0m98.4 0h0m32.8 0h0m32.8 0h0m32.8 0h0m-344.4 16.4h0m32.8 0h0m32.8 0h0m32.8 0h0m32.8 0h0m65.6 0h0m65.6 0h0m32.8 0h0m32.8 0h0m32.8 0h0m-377.2 16.4h0m32.8 0h0m32.8 0h0m32.8 0h0m32.8 0h0m32.8 0h0m131.2 0h0m32.8 0h0m32.8 0h0m-344.4 16.4h0m32.8 0h0m32.8 0h0m32.8 0h0m164 0h0m32.8 0h0m32.8 0h0m32.8 0h0m-377.2 16.5h0m32.8 0h0m32.8 0h0m32.8 0h0m32.8 0h0m65.6 0h0m98.4 0h0m32.8 0h0m32.8 0h0m32.8 0h0m-377.2 16.4h0m32.8 0h0m32.8 0h0m32.8 0h0m32.8 0h0m32.8 0h0m65.6 0h0m32.8 0h0m32.8 0h0m32.8 0h0m32.8 0h0m-377.2 16.4h0m32.8 0h0m32.8 0h0m32.8 0h0m32.8 0h0m32.8 0h0m32.8 0h0m65.6 0h0m32.8 0h0m32.8 0h0m32.8 0h0m32.8 0h0m-377.2 16.5h0m32.8 0h0m32.8 0h0m32.8 0h0m32.8 0h0m32.8 0h0m65.6 0h0m32.8 0h0m32.8 0h0m32.8 0h0m32.8 0h0m-377.2 16.4h0m65.6 0h0m65.6 0h0m32.8 0h0m32.8 0h0m32.8 0h0m32.8 0h0m32.8 0h0m32.8 0h0m32.8 0h0m32.8 0h0m-377.2 16.4h0m65.6 0h0m65.6 0h0m65.6 0h0m32.8 0h0m32.8 0h0m32.8 0h0m32.8 0h0m32.8 0h0m32.8 0h0m-410 16.4h0m164 0h0m32.8 0h0m32.8 0h0m32.8 0h0m32.8 0h0m32.8 0h0m32.8 0h0m32.8 0h0m32.8 0h0m-410 16.5h0m131.2 0h0m32.8 0h0m32.8 0h0m32.8 0h0m32.8 0h0m32.8 0h0m32.8 0h0m32.8 0h0m32.8 0h0m-311.6 16.4h0m32.8 0h0m32.8 0h0m32.8 0h0m32.8 0h0m32.8 0h0m32.8 0h0m32.8 0h0m32.8 0h0m32.8 0h0m32.8 0h0m-311.6 16.4h0m32.8 0h0m32.8 0h0m32.8 0h0m32.8 0h0m32.8 0h0m32.8 0h0m32.8 0h0m32.8 0h0m32.8 0h0" stroke="#000" stroke-width="8.5" stroke-linecap="round" fill="none"/>
<path d="M1026.3 2351.5h0m16.4 16.4h0m16.4 115h0m16.4 16.5h0" stroke="#3d87ff" stroke-width="8.5" stroke-linecap="round" fill="none"/>
<path d="M845.9 2597.9h0m16.4 16.5h0" stroke="#75d3ff" stroke-width="8.5" stroke-linecap="round" fill="none"/>
</g>
<path class="tk" d="M805.8 2003.4v16.5M805.8 2655.4v16.5M946.7 2003.4v16.5M946.7 2655.4v16.5M1087.6 2003.4v16.5M1087.6 2655.4v16.5M1228.5 2003.4v16.5M1228.5 2655.4v16.5M789.3 2090.5h16.5M1299 2090.5h16.5M789.3 2231.7h16.5M1299 2231.7h16.5M789.3 2373h16.5M1299 2373h16.5M789.3 2514.2h16.5M1299 2514.2h16.5M789.3 2655.4h16.5M1299 2655.4h16.5"/>
<rect class="fr" x="805.8" y="2019.9" width="493.2" height="635.5"/>
<text x="803.8" y="1978" font-size="50">h) R95p</text>
<text x="764.5" y="2104.8" font-size="40" text-anchor="end">4N</text>
<text x="764.5" y="2246.1" font-size="40" text-anchor="end">0</text>
<text x="764.5" y="2387.3" font-size="40" text-anchor="end">4S</text>
<text x="764.5" y="2528.5" font-size="40" text-anchor="end">8S</text>
<text x="764.5" y="2669.7" font-size="40" text-anchor="end">12S</text>
<text x="805.8" y="2731" font-size="40" text-anchor="middle">28E</text>
<text x="946.7" y="2731" font-size="40" text-anchor="middle">32E</text>
<text x="1087.6" y="2731" font-size="40" text-anchor="middle">36E</text>
<text x="1228.5" y="2731" font-size="40" text-anchor="middle">40E</text>
<text x="1052.4" y="2770.5" font-size="48.5" text-anchor="middle">mm</text>
<g class="cbx">
<path d="M803.3 2777L756.4 2794.5L803.3 2812Z" fill="#ffac75"/>
<rect x="803.3" y="2777" width="49.7" height="35" fill="#ffd699"/>
<rect x="853" y="2777" width="49.7" height="35" fill="#fff1bc"/>
<rect x="902.8" y="2777" width="49.7" height="35" fill="#eaffff"/>
<rect x="952.5" y="2777" width="49.7" height="35" fill="#bcf9ff"/>
<rect x="1002.2" y="2777" width="49.7" height="35" fill="#99eaff"/>
<rect x="1051.9" y="2777" width="49.7" height="35" fill="#75d3ff"/>
<rect x="1101.7" y="2777" width="49.7" height="35" fill="#56b0ff"/>
<rect x="1151.4" y="2777" width="49.7" height="35" fill="#3d87ff"/>
<rect x="1201.1" y="2777" width="49.7" height="35" fill="#2857ff"/>
<rect x="1250.9" y="2777" width="49.7" height="35" fill="#181cf7"/>
<path d="M1300.6 2777L1349 2794.5L1300.6 2812Z" fill="#2400d8"/>
</g>
<text x="803.3" y="2860" font-size="48" text-anchor="middle">-0.2</text>
<text x="902.8" y="2860" font-size="48" text-anchor="middle">0</text>
<text x="1002.2" y="2860" font-size="48" text-anchor="middle">0.2</text>
<text x="1101.7" y="2860" font-size="48" text-anchor="middle">0.4</text>
<text x="1201.1" y="2860" font-size="48" text-anchor="middle">0.6</text>
<text x="1300.6" y="2860" font-size="48" text-anchor="middle">0.8</text>
</g>
<g id="p_i">
<g clip-path="url(#c_i)">
<rect x="1480.9" y="2019.9" width="484.2" height="622.5" fill="#eaffff"/>
<path d="M1895.4 2019.6l5.6 16.1l2 11.1l-2.5 9.3l-5.5 5l-32.7 13.1l-21.9 12.7l-10.9 4.2l-10.9 1.3l-32.8-2.1l-10.9 4.4l-5.3 7.3l-3.7 11l-5.1 33.2l-6.4 22.1l.2 5.5l2.1 5.5l7.3 9.6l5.4 3.7l16.4 5.5l12.6 19.9l3.9 11l-.9 16.6l2 11l13.5 22.1l.9 5.5l-1.7 16.6l5.9 11l6.2 5.5l17.7 8l27.3-1.8l27.3 4.8l21.8 1.2l16.4 14.5l5.5 1.9l21.2 .3l0 296.5l-484.8 0l0-623.1z" fill="#bcf9ff" fill-rule="evenodd"/>
<path d="M1858.7 2505.1l4.1 5.5l15.8 1.4l16.4 7.5l4.8 7.7l-1.4 5.5l-7 5.5l-7.3 1.6l-14.9-1.6l-12.4-4.5l-4.8-6.5l-1.5-16.6l.8-4.5l5.5-8.3l1.9 1.8zM1813.1 2392.2l8.8 2.4l7.6 5.4l3.5 5.7l3.4 11l1.1 11.1l-1.4 5.5l-4.1 5.5l-8 3.5l-10.9 .2l-5.5-2.3l-12.3-12.4l-6.2-11.1l.6-11l7-10l5.5-2.8zM1572.8 2126l16.4 3.1l5.5 2.5l3.5 3.5l.9 16.6l-9.9 10.4l-9.4 6.2l-7.7 11l-8.5 5.5l-12.6 3.8l-5.5 3.8l-1.9 3.5l.9 11l10 22.1l6.8 33.1l-1.2 16.6l-6.1 27.6l.5 11l6.1 11.1l6.8 4.4l10.9 .3l21.8-4.5l5.5 1.3l5.5 5.7l16.5 25.9l.1 5.5l-11.2 12.8l-5.4 3.3l-7.1 .5l.4 5.5l11.9 5.5l22.1 6.5l8.1 4.6l2.8 3.5l2.1 7.5l-1.1 16.6l1.7 11l10.6 22.1l8.5 28.1l5.5 4.4l10.9-1.6l5.5 .8l10.9 13.7l5.4-1.9l5.5-8.3l5.5-2.2l16.4 .1l10.9 2.2l6.1 3.4l5.4 5.5l2.5 5.5l-1.2 11.1l-7.4 8.8l-18.2 13.3l-4.2 5.5l-1.3 5.5l2.3 5.5l19.2 11.1l4.2 5.5l1.6 5.5l-3 5.5l-14.8 5.6l-5.1 5.5l-5.3 11l-2.9 27.2l-63.5 0l3-10.6l-1-5.5l-25.6-31.5l-5.5-.4l-27.3 17.5l-10.9 4.5l-27.3-3.6l-11 2.7l-5.6 5.2l-1.8 5.6l-.4 16.1l-68 0l0-487.5l21.2-2.4l27.3 6.8l16.4-1.6l2.1-.8l4.2-16.5l4.6-7.8l5.5-4.7zM1611.1 2551.3l6.9 9l9.4 6.4l5.5 1.5l5.5-4.7l1.3-8.7l-1.6-5.5l-5.2-5.7l-10.9-3.4l-5.5 .1l-6 3.4zM1676.6 2143.5l32.7 .9l11 3.5l3.1 3.8l-.6 16.6l2 11l9.1 16.6l8.2 26l5.5 7.5l15.6 10.6l3.6 5.6l1 11l-3.4 11.1l-5.9 9.4l-10.9 6.9l-5.5 1.1l-16.4-3.5l-10.9 .9l-5.5 2.4l-5.4 4.6l-10.9 15.1l-21.9 12.7l-32.7 5.2l-11-.9l-10.9-3.3l-5.4-3.6l-4.6-8.4l-4-38.6l5.1-49.7l3.5-14.5l6.9-7.6l9.4-3.8l27.3-3.1l11.3-4.2l6-11l.7-27.6z" fill="#99eaff" fill-rule="evenodd"/>
<path d="M1703.9 2596.8l5.4 14.8l0 17.7l-5.4 9.2l-5.5-.3l-2.5-6.1l-2.9-31.5l5.4-5zM1501.8 2495.8l5.5 3.8l6 11l1 11l-1.5 5.7l-5.5 8.6l-5.5 4.1l-5.4 1.7l-15.8-.5l0-37l10.3-7.6l5.5-1.5zM1534.6 2434.9l10.9 7.1l5.5 7.3l1.3 6.1l-1.3 4.8l-4.7 6.2l-6.2 4.2l-11 2.4l-5.4-1l-6.5-5.6l-2-5.5l0-11l3-7.8l5.5-5.8l5.4-1.9zM1507.3 2194.4l10.9 14.3l2.9 9.3l2.4 22l14.1 16.6l5.7 22.1l-3.2 15.6l-11.1 17.5l-1.5 5.5l-.2 22.1l-3.6 19.9l-5.5 9.8l-5.4 3.8l-5.5 1.1l-26.7-4.9l0-173.7l15.8-5.5l5.4 1zM1643.8 2213.1l43.7 7l5.5 4l1.2 10.4l-3.4 16.6l-.8 27.6l-5.3 11l-7.3 5.6l-11.7 5.3l-27.3 6.5l-11-2.8l-9.2-9l-5.8-16.6l-1-22.1l2.4-16.6l7.4-16.5l11.7-9.1z" fill="#75d3ff" fill-rule="evenodd"/>
<path d="M1490.9 2223.5l5.5 4.1l7.3 23.5l18.6 22.1l2.1 5.5l-3 11l-10.6 16.6l-3.5 33.2l-5.5 7.9l-5.4 2.2l-15.8-2.5l0-105.7l3.4-12.4zM1632.9 2226.4l10.9-1.5l10.7 4.1l15.2 11l5.1 11.1l2.6 22.1l-.9 5.5l-3.7 5.5l-7.1 4.9l-16.4 6.5l-10.9 2l-5.5-1.4l-5.5-4.1l-5.4-7.9l-3.2-11l-.6-11.1l.8-11l3-11.2l5.4-8.9z" fill="#56b0ff" fill-rule="evenodd"/>
<path d="M1632.9 2238.3l5.5-2.7l5.4 .6l6.5 3.8l8 11.1l4.8 16.6l.3 5.5l-2.2 5.5l-6.8 5.5l-10.6 4.1l-5.4 .1l-5.5-2.5l-5.3-7.2l-1.6-5.5l.4-22.1l1.6-5.5z" fill="#3d87ff" fill-rule="evenodd"/>
<path d="M1638.4 2253.9l5.4 4.8l1 3.4l1 5.6l-2 6.8l-5.4 .6l-1.5-1.9l-1.1-11.1z" fill="#2857ff" fill-rule="evenodd"/>
<path d="M1911.5 2607.8l4.5-12.1l-6.2-8.6l-10.4-5.2l-12.1-8.7l-1.7-12.1l-5.2-15.5l-3.5-12.1l-5.9-17.3l3.5-12.1l-2.8-10.4l5.2-13.8l2.4-10.4l-7.6-5.2l-6.9-8.6l-8.6-10.4l-1.8-12.1l6.3-17.3l4.8-13.9l4.5-13.4l6.9-7.3l8-13.8l5.8-13.9l8.7-13.8l1.7-8.6l3.5-12.2l10.4-5.1l12.1-7l3.4-8.6l10.4-3.5l9-10l6.6-10.7l8.6-12.1l20.8 0l0 401.2l-73.4 0l.7-41.5zM1890.7 2398.6l-5.8-1.7l-1.1 10.3l2.4 8.7l3.5-5.2zM1878.6 2450.5l1.8-8.7l-5.2-8.6l-3.5-6.9l-2.7 8.6l4.4 10.4zM1885.6 2504.1l6.9-6.9l-1.8-5.2l-8.6 10.3z" fill="#fff" fill-rule="evenodd"/>
<path class="ct" d="M1965.1 2262l-8.6 12.1l-6.6 10.7l-9 10l-10.4 3.5l-3.4 8.6l-12.1 7l-10.4 5.1l-3.5 12.2l-1.7 8.6l-8.7 13.8l-5.8 13.9l-8 13.8l-6.9 7.3l-4.5 13.4l-4.8 13.9l-6.3 17.3l1.8 12.1l8.6 10.4l6.9 8.6l7.6 5.2l-2.4 10.4l-5.2 13.8l2.8 10.4l-3.5 12.1l5.9 17.3l3.5 12.1l5.2 15.5l1.7 12.1l12.1 8.7l10.4 5.2l6.2 8.6l-4.5 12.1l1.7 13.9l-.7 20.7M1884.9 2396.9l5.8 1.7l-1 12.1l-3.5 5.2l-2.4-8.7l1.1-10.3M1871.7 2426.3l3.5 6.9l5.2 8.6l-1.8 8.7l-5.2-5.2l-4.4-10.4l2.7-8.6M1890.7 2492l1.8 5.2l-6.9 6.9l-3.5-1.8l8.6-10.3M1617.5 2229.1l5.2-1.7l6.9-3.5l5.2 2.8l5.2-5.5l5.2 2.7l5.2-5.1l5.2 1.7l5.1-7.6l3.5 4.1l5.2-1.7l3.5 5.9l6.9-.7l5.2 5.2l3.4-1.8l3.5 6.3l6.9 1.4l8.6-2.5l8.7 3.5l-1.7 5.2l-10.4 0l-8.7 3.4l-3.4 7l.7 10.3l-5.9 10.4l-5.2 8.6l-3.5 10.4l-5.1 6.9l5.1 5.2l7 1.8l-3.5 5.1l-10.4-3.4l-6.9 8.6l-6.9-1.7l-5.2 5.2l-3.5 13.8l-3.4-12.1l-6.9-5.2l-8.7 3.5l-5.2-5.2l-6.9 6.9l-5.2-8.6l-3.4-10.4l1.7-12.1l1.7-13.8l-2.7-10.4l2.7-10.4l-1.7-10.4l6.9-12.1M1527.6 2343.3l8.6 36.3l5.2 20.7l3.5 20.8l12.1 24.2l12.1 22.5l6.9 22.4l8.7 20.8l5.1 17.3l-13.8 1.7l-8.6-19l-10.4-27.7l-15.6-20.7l-13.8-24.2l-3.5-31.2l-5.2-31.1l3.5-24.2l5.2-8.6M1686.7 2555.9l12.1 5.2l10.4 22.5l1.7 24.2l10.4 19l-1.8 15.6M1686.7 2555.9l1.7 17.3l6.9 20.8l3.5 24.2l-3.5 24.2M1752.4 2068.3l6.9 1.7l5.2 12.2l0 20.7l8.6 17.3l8.7 17.3l-3.5 6.9l-6.9-8.6l-10.4-12.1l-3.4-20.8l-6.9-17.3l1.7-17.3M1562.2 2189.4l15.5-22.5l13.9-15.6l8.6-5.2l-1.7 8.7l-10.4 17.3l-12.1 13.8l-8.6 5.2l-5.2-1.7M1531 2236l8.7-5.1l5.2 6.9l-5.2 10.4l-6.9-1.8l-1.8-10.4M1515.5 2284.5l8.6 3.4l1.8 12.1l-7 12.1l-6.9-1.7l1.8-13.8l1.7-12.1M1629.6 2168.6l10.4-5.2l6.9 8.7l8.7-6.9l12.1 1.7l-3.5 8.6l1.7 6.9l-10.3 1.8l-5.2-5.2l-10.4 0l-5.2-5.2l-5.2-5.2M1612.3 2490.2l8.7 5.2l12.1 12.1l10.4 12.1l-3.5 5.2l-10.4-6.9l-10.4-10.4l-6.9-8.6l0-8.7M1496.5 2523.1l15.5-1.7l8.7 13.8l-5.2 17.3l-13.8-3.5l-7-10.3l1.8-15.6M1532.8 2604.4l12.1 3.4l1.7 13.9l-10.4 3.4l-5.2-10.4l1.8-10.3M1714.4 2357.1l8.6-6.9l10.4-5.2l-1.8 5.2l-10.3 6.9l-6.9 0M1748.9 2345l3.5 1.7l0 10.4l-3.5 1.7l0-13.8M1757.6 2303.5l3.4 3.4l-1.7 10.4l-3.4-3.4l1.7-10.4"/>
<path class="bd" d="M1480.9 2076.6l13.8 2.1l12.1-6.9l8.7 2.7l12.1-6.9l8.6 4.2l8.7 4.8l12.1 12.5l12.1 11.7l12.1 4.9l13.8-9l10.4 3.4l13.8 4.2l13.9-5.5l13.8-2.1l13.8-.7l13.9-2.1l13.8-11.1M1688.4 2082.8l17.3-17.9l17.3-19.1l8.6-8.6l-3.4-6.9l-5.2-10.4M1731.6 2037.2l10.4 3.5l6.9 3.4l3.5 12.1l3.5 12.1l8.6 5.2l24.2 1l13.8 9.4l13.9 8.6l13.8 9l13.8 .7l17.3 3.5l19.1 2.7l10.3-12.4l19.1-10.4l13.8-5.5l12.1 10.4l25.9-.4l3.5-2.8M1961.6 2090.1l-17.3 23.2l-13.8 16.6l0 126.9l19.4 28M1688.4 2082.8l5.2 11.5l8.6 8.6l1.8 13.8l10.4 12.1l6.9 13.9l1.7 17.3l-5.2 15.5l-8.6 13.9l-10.4 13.8l-6.9 10.4l-5.2 6.9M1690.1 2263l32.9 18l34.6 19l34.6 20.8l20.7 11l5.2 11.5l-3.4 6.9l6.9 5.2l22.4 15.5l26 17.7M1565.6 2264.4l10.4-2.4l35.3 0M1581.2 2105.7l-5.2 18l1.7 19l15.6 8.6M1563.9 2185.9l-6.9 10.4l-8.7 10.4l-3.4 17.2l-6.9 17.3l-1.8 17.3l0 15.6M1536.2 2274.1l12.1 3.4l8.7-5.1l8.6-8M1565.6 2264.4l10.4 11.4l3.5 19l-1.8 13.9l-8.6 1.7M1569.1 2310.4l-12.1-1.7l-8.7 1.7l-1.7 12.1l-17.3 2.4l-12.1-7.6l-5.9-3.4M1511.3 2313.9l7.6-13.9l1.8-13.8l6.9-6.9l8.6-5.2M1569.1 2310.4l-3.5 12.1l13.9 15.6l-10.4 12.1l-12.1 17.3l-8.7 10.3l-10.3 3.8M1511.3 2313.9l5.9 12.1l5.9 15.5l1 19l5.2 20.8M1480.9 2524.8l10.4-1.7l20.7-2.4l24.2-4.5l24.2-3.5l15.6-1.7M1499.9 2545.6l3.5 19l-1.7 19l1.7 13.8l-5.2 17.3l-3.5 17.3l0 10.4M1589.8 2524.8l15.6 8.7l13.8 6.9l17.3 6.9l15.6 5.2M1652.1 2552.5l12.1 3.4l13.8 3.5l8.7-2.8M1652.1 2552.5l10.4 8.6l3.4 12.1l8.7 13.9l-6.9 13.8l-5.2 13.8l1.7 13.9l-1.7 13.8M1721.3 2627.5l15.5 1.1l13.9-10.4l13.8 10.4l13.8 3.4l17.3-1.7l13.9-1.7l13.8-10.4l13.8 0l17.3-1.7l17.3-7l17.3-6.9l10.4-5.2l10.4-9.6M1721.3 2627.5l-10.4 1.1l-1.7 13.8"/>
<path d="M1480.9 2538.7l0-34.6l0-34.6l0-34.6l0-34.6l0-34.6l0-34.5l0-34.6l0-34.6l0-34.6l0-34.6l0-34.6l0-34.5l0-34.6l0-34.6l0-34.6l484.2 0l0 34.6l0 34.6l0 34.6l0 34.5l0 34.6l0 34.6l0 34.6l-8.6 12.1l-6.6 10.7l-9 10l-10.4 3.5l-3.4 8.6l-12.1 7l-10.4 5.1l-3.5 12.2l-1.7 8.6l-8.7 13.8l-5.8 13.9l-8 13.8l-6.9 7.3l-4.5 13.4l-4.8 13.9l-6.3 17.3l1.8 12.1l8.6 10.4l6.9 8.6l7.6 5.2l-2.4 10.4l-5.2 13.8l2.8 10.4l-3.5 12.1l5.9 17.3l3.5 12.1l5.2 15.5l1.7 12.1l12.1 8.7l10.4 5.2l6.2 8.6l-4.5 12.1l1.7 13.9l-.3 20.7l-432 0l0-34.6l0-34.6zM1550.1 2262l0 34.6l69.1 0l0-34.6l0-34.6l0-34.6l-69.1 0l0 34.6zM1883.8 2407.2l1.1-10.3l5.8 1.7l-1 12.1l-3.5 5.2zM1871.7 2426.3l3.5 6.9l5.2 8.6l-1.8 8.7l-5.2-5.2l-4.4-10.4zM1892.5 2497.2l-6.9 6.9l-3.5-1.8l8.6-10.3z" fill="url(#h_i)" fill-rule="evenodd"/>
<path d="M1483.9 2022.1h0m32.8 0h0m32.8 0h0m32.8 0h0m32.8 0h0m32.8 0h0m32.8 0h0m32.8 0h0m32.8 0h0m32.8 0h0m32.8 0h0m32.8 0h0m32.8 0h0m32.8 0h0m32.8 0h0m-442.8 16.4h0m32.8 0h0m32.8 0h0m32.8 0h0m32.8 0h0m32.8 0h0m32.8 0h0m32.8 0h0m32.8 0h0m32.8 0h0m32.8 0h0m32.8 0h0m32.8 0h0m32.8 0h0m32.8 0h0m-475.6 16.5h0m32.8 0h0m32.8 0h0m32.8 0h0m32.8 0h0m32.8 0h0m32.8 0h0m32.8 0h0m32.8 0h0m32.8 0h0m32.8 0h0m32.8 0h0m32.8 0h0m32.8 0h0m32.8 0h0m-442.8 16.4h0m32.8 0h0m32.8 0h0m32.8 0h0m32.8 0h0m32.8 0h0m32.8 0h0m32.8 0h0m32.8 0h0m32.8 0h0m32.8 0h0m32.8 0h0m32.8 0h0m32.8 0h0m32.8 0h0m-475.6 16.4h0m32.8 0h0m32.8 0h0m32.8 0h0m32.8 0h0m32.8 0h0m32.8 0h0m32.8 0h0m32.8 0h0m32.8 0h0m32.8 0h0m32.8 0h0m32.8 0h0m32.8 0h0m32.8 0h0m-442.8 16.4h0m32.8 0h0m32.8 0h0m32.8 0h0m32.8 0h0m32.8 0h0m32.8 0h0m32.8 0h0m32.8 0h0m32.8 0h0m32.8 0h0m32.8 0h0m32.8 0h0m32.8 0h0m32.8 0h0m-475.6 16.5h0m32.8 0h0m32.8 0h0m32.8 0h0m32.8 0h0m32.8 0h0m32.8 0h0m32.8 0h0m32.8 0h0m32.8 0h0m32.8 0h0m32.8 0h0m32.8 0h0m32.8 0h0m32.8 0h0m-442.8 16.4h0m32.8 0h0m32.8 0h0m32.8 0h0m32.8 0h0m32.8 0h0m32.8 0h0m32.8 0h0m32.8 0h0m32.8 0h0m32.8 0h0m32.8 0h0m32.8 0h0m32.8 0h0m32.8 0h0m-475.6 16.4h0m32.8 0h0m32.8 0h0m32.8 0h0m32.8 0h0m32.8 0h0m32.8 0h0m32.8 0h0m32.8 0h0m32.8 0h0m32.8 0h0m32.8 0h0m32.8 0h0m32.8 0h0m32.8 0h0m-442.8 16.5h0m32.8 0h0m32.8 0h0m32.8 0h0m32.8 0h0m32.8 0h0m32.8 0h0m32.8 0h0m32.8 0h0m32.8 0h0m32.8 0h0m32.8 0h0m32.8 0h0m32.8 0h0m32.8 0h0m-475.6 16.4h0m32.8 0h0m32.8 0h0m32.8 0h0m32.8 0h0m32.8 0h0m32.8 0h0m32.8 0h0m32.8 0h0m32.8 0h0m32.8 0h0m32.8 0h0m32.8 0h0m32.8 0h0m32.8 0h0m-442.8 16.4h0m32.8 0h0m32.8 0h0m32.8 0h0m32.8 0h0m32.8 0h0m32.8 0h0m32.8 0h0m32.8 0h0m32.8 0h0m32.8 0h0m32.8 0h0m32.8 0h0m32.8 0h0m32.8 0h0m-475.6 16.5h0m32.8 0h0m32.8 0h0m32.8 0h0m32.8 0h0m32.8 0h0m32.8 0h0m32.8 0h0m32.8 0h0m32.8 0h0m32.8 0h0m32.8 0h0m32.8 0h0m32.8 0h0m32.8 0h0m-442.8 16.4h0m32.8 0h0m32.8 0h0m32.8 0h0m32.8 0h0m32.8 0h0m32.8 0h0m32.8 0h0m32.8 0h0m32.8 0h0m32.8 0h0m32.8 0h0m32.8 0h0m32.8 0h0m32.8 0h0m-475.6 16.4h0m32.8 0h0m32.8 0h0m32.8 0h0m32.8 0h0m32.8 0h0m32.8 0h0m32.8 0h0m32.8 0h0m32.8 0h0m32.8 0h0m32.8 0h0m32.8 0h0m32.8 0h0m32.8 0h0m-442.8 16.5h0m32.8 0h0m32.8 0h0m32.8 0h0m32.8 0h0m32.8 0h0m32.8 0h0m32.8 0h0m32.8 0h0m32.8 0h0m32.8 0h0m32.8 0h0m32.8 0h0m32.8 0h0m32.8 0h0m-475.6 16.4h0m32.8 0h0m32.8 0h0m32.8 0h0m32.8 0h0m32.8 0h0m32.8 0h0m32.8 0h0m32.8 0h0m32.8 0h0m32.8 0h0m32.8 0h0m32.8 0h0m32.8 0h0m32.8 0h0m-442.8 16.4h0m32.8 0h0m32.8 0h0m32.8 0h0m32.8 0h0m32.8 0h0m32.8 0h0m32.8 0h0m32.8 0h0m32.8 0h0m32.8 0h0m32.8 0h0m32.8 0h0m32.8 0h0m-442.8 16.4h0m32.8 0h0m32.8 0h0m32.8 0h0m32.8 0h0m32.8 0h0m32.8 0h0m32.8 0h0m32.8 0h0m32.8 0h0m32.8 0h0m32.8 0h0m32.8 0h0m32.8 0h0m-410 16.5h0m32.8 0h0m32.8 0h0m32.8 0h0m32.8 0h0m32.8 0h0m32.8 0h0m32.8 0h0m32.8 0h0m32.8 0h0m32.8 0h0m32.8 0h0m32.8 0h0m-410 16.4h0m32.8 0h0m32.8 0h0m32.8 0h0m32.8 0h0m32.8 0h0m32.8 0h0m32.8 0h0m32.8 0h0m32.8 0h0m32.8 0h0m32.8 0h0m32.8 0h0m-377.2 16.4h0m32.8 0h0m32.8 0h0m32.8 0h0m32.8 0h0m32.8 0h0m32.8 0h0m32.8 0h0m32.8 0h0m32.8 0h0m32.8 0h0m32.8 0h0m-377.2 16.5h0m32.8 0h0m32.8 0h0m32.8 0h0m32.8 0h0m32.8 0h0m32.8 0h0m32.8 0h0m32.8 0h0m32.8 0h0m32.8 0h0m32.8 0h0m32.8 0h0m-377.2 16.4h0m32.8 0h0m32.8 0h0m32.8 0h0m32.8 0h0m32.8 0h0m32.8 0h0m32.8 0h0m32.8 0h0m32.8 0h0m32.8 0h0m32.8 0h0m32.8 0h0m-410 16.4h0m32.8 0h0m32.8 0h0m32.8 0h0m32.8 0h0m32.8 0h0m32.8 0h0m32.8 0h0m32.8 0h0m32.8 0h0m32.8 0h0m32.8 0h0m-344.4 16.5h0m32.8 0h0m32.8 0h0m32.8 0h0m32.8 0h0m32.8 0h0m32.8 0h0m32.8 0h0m32.8 0h0m32.8 0h0m32.8 0h0m-344.4 16.4h0m32.8 0h0m32.8 0h0m32.8 0h0m32.8 0h0m32.8 0h0m32.8 0h0m32.8 0h0m32.8 0h0m32.8 0h0m32.8 0h0m32.8 0h0m32.8 0h0m-377.2 16.4h0m32.8 0h0m32.8 0h0m32.8 0h0m32.8 0h0m32.8 0h0m32.8 0h0m32.8 0h0m32.8 0h0m32.8 0h0m32.8 0h0m32.8 0h0m-377.2 16.4h0m32.8 0h0m32.8 0h0m32.8 0h0m32.8 0h0m32.8 0h0m32.8 0h0m32.8 0h0m32.8 0h0m32.8 0h0m32.8 0h0m32.8 0h0m32.8 0h0m-377.2 16.5h0m32.8 0h0m32.8 0h0m32.8 0h0m32.8 0h0m32.8 0h0m32.8 0h0m32.8 0h0m32.8 0h0m32.8 0h0m32.8 0h0m32.8 0h0m32.8 0h0m-410 16.4h0m32.8 0h0m32.8 0h0m32.8 0h0m32.8 0h0m32.8 0h0m32.8 0h0m32.8 0h0m32.8 0h0m32.8 0h0m32.8 0h0m32.8 0h0m-344.4 16.4h0m32.8 0h0m32.8 0h0m32.8 0h0m32.8 0h0m32.8 0h0m32.8 0h0m32.8 0h0m32.8 0h0m32.8 0h0m32.8 0h0m32.8 0h0m-377.2 16.5h0m32.8 0h0m32.8 0h0m32.8 0h0m32.8 0h0m32.8 0h0m32.8 0h0m32.8 0h0m32.8 0h0m32.8 0h0m32.8 0h0m32.8 0h0m32.8 0h0m-377.2 16.4h0m32.8 0h0m32.8 0h0m32.8 0h0m32.8 0h0m32.8 0h0m32.8 0h0m32.8 0h0m32.8 0h0m32.8 0h0m32.8 0h0m32.8 0h0m-377.2 16.4h0m32.8 0h0m32.8 0h0m32.8 0h0m32.8 0h0m32.8 0h0m32.8 0h0m32.8 0h0m32.8 0h0m32.8 0h0m32.8 0h0m32.8 0h0m32.8 0h0m-377.2 16.5h0m32.8 0h0m32.8 0h0m32.8 0h0m32.8 0h0m32.8 0h0m32.8 0h0m32.8 0h0m32.8 0h0m32.8 0h0m32.8 0h0m32.8 0h0m32.8 0h0m-410 16.4h0m32.8 0h0m32.8 0h0m32.8 0h0m32.8 0h0m32.8 0h0m32.8 0h0m32.8 0h0m32.8 0h0m32.8 0h0m32.8 0h0m32.8 0h0m32.8 0h0m32.8 0h0m-410 16.4h0m32.8 0h0m32.8 0h0m32.8 0h0m32.8 0h0m32.8 0h0m32.8 0h0m32.8 0h0m32.8 0h0m32.8 0h0m32.8 0h0m32.8 0h0m32.8 0h0" stroke="#000" stroke-width="8.5" stroke-linecap="round" fill="none"/>
</g>
<path class="tk" d="M1480.9 2003.7v16.2M1480.9 2642.4v16.2M1619.2 2003.7v16.2M1619.2 2642.4v16.2M1757.6 2003.7v16.2M1757.6 2642.4v16.2M1895.9 2003.7v16.2M1895.9 2642.4v16.2M1464.7 2089.1h16.2M1965.1 2089.1h16.2M1464.7 2227.4h16.2M1965.1 2227.4h16.2M1464.7 2365.7h16.2M1965.1 2365.7h16.2M1464.7 2504.1h16.2M1965.1 2504.1h16.2M1464.7 2642.4h16.2M1965.1 2642.4h16.2"/>
<rect class="fr" x="1480.9" y="2019.9" width="484.2" height="622.5"/>
<text x="1478.9" y="1980.5" font-size="49.5">i) R20mm</text>
<text x="1723" y="1988" font-size="49.5" text-anchor="middle">.</text>
<text x="1440.9" y="2103.2" font-size="39.5" text-anchor="end">4N</text>
<text x="1440.9" y="2241.5" font-size="39.5" text-anchor="end">0</text>
<text x="1440.9" y="2379.9" font-size="39.5" text-anchor="end">4S</text>
<text x="1440.9" y="2518.2" font-size="39.5" text-anchor="end">8S</text>
<text x="1440.9" y="2656.5" font-size="39.5" text-anchor="end">12S</text>
<text x="1480.9" y="2716" font-size="39.5" text-anchor="middle">28E</text>
<text x="1619.2" y="2716" font-size="39.5" text-anchor="middle">32E</text>
<text x="1757.6" y="2716" font-size="39.5" text-anchor="middle">36E</text>
<text x="1895.9" y="2716" font-size="39.5" text-anchor="middle">40E</text>
<text x="1723" y="2765.5" font-size="49" text-anchor="middle">days</text>
<g class="cbx">
<path d="M1479.9 2781.5L1433.4 2799.2L1479.9 2817Z" fill="#ffac75"/>
<rect x="1479.9" y="2781.5" width="48.6" height="35.5" fill="#ffd699"/>
<rect x="1528.5" y="2781.5" width="48.6" height="35.5" fill="#fff1bc"/>
<rect x="1577.1" y="2781.5" width="48.6" height="35.5" fill="#eaffff"/>
<rect x="1625.8" y="2781.5" width="48.6" height="35.5" fill="#bcf9ff"/>
<rect x="1674.4" y="2781.5" width="48.6" height="35.5" fill="#99eaff"/>
<rect x="1723" y="2781.5" width="48.6" height="35.5" fill="#75d3ff"/>
<rect x="1771.6" y="2781.5" width="48.6" height="35.5" fill="#56b0ff"/>
<rect x="1820.2" y="2781.5" width="48.6" height="35.5" fill="#3d87ff"/>
<rect x="1868.9" y="2781.5" width="48.6" height="35.5" fill="#2857ff"/>
<rect x="1917.5" y="2781.5" width="48.6" height="35.5" fill="#181cf7"/>
<path d="M1966.1 2781.5L2013.5 2799.2L1966.1 2817Z" fill="#2400d8"/>
</g>
<text x="1479.9" y="2862.5" font-size="48" text-anchor="middle">-0.4</text>
<text x="1577.1" y="2862.5" font-size="48" text-anchor="middle">0</text>
<text x="1674.4" y="2862.5" font-size="48" text-anchor="middle">0.4</text>
<text x="1771.6" y="2862.5" font-size="48" text-anchor="middle">0.8</text>
<text x="1868.9" y="2862.5" font-size="48" text-anchor="middle">1.2</text>
<text x="1966.1" y="2862.5" font-size="48" text-anchor="middle">1.6</text>
</g>
<g id="p_j">
<g clip-path="url(#c_j)">
<rect x="131.3" y="2968.9" width="482.7" height="621.8" fill="#ffac75"/>
<path d="M265.4 2968.6l-3.6 16.1l1.9 5.5l10.3 5.6l19.7 5.4l5.5 4.1l3 7l2.5 16.5l3.6 5.6l18.1 10l7.7 6.5l10.4 22.1l9.1 13.3l5.4 4.8l10.9 5.5l3.2 3.9l-.3 16.6l1.4 5.5l6.6 8.7l16.3 13.1l3.7 5.8l7.2 23.8l9.4 20.3l.2 11l-6.7 22.1l2.1 5.5l5.4 5.5l11.4 8.3l16.3 18l10.9 5.1l10.9-.2l5.5-2.1l16.3-16.2l5.4-3.2l5.5-.7l5.4 2l5.5 7.6l10.3 25.6l1.1 5.5l-5.3 16.5l4.8 5.9l5.4 0l10.9-7.2l5.4-.6l27.3 12.1l42.9 .9l0 275.3l-483.3 0l0-622.4zM570.8 3194.3l1.8 5.5l-1.2 4.3l-5.5 3l-5.4-7.3l1.9-5.5l3.5-1.7z" fill="#ffd699" fill-rule="evenodd"/>
<path d="M226.5 2968.6l.4 27.2l-3.2 22l2.4 11l7.7 16.7l9.2 5.4l18 5.4l21.8 13.8l23.4 2.9l5.8 5.5l3.2 11l-3.5 5.5l-7.4 5.5l8.4 16.6l8.2 8.1l5.5 2.2l16.3-3.1l10.9 3.6l23.2 22.3l6.9 11l-.3 11l-4.6 16.6l-3.3 5.5l-5.6 2.9l-16.3 3.9l-16.3 15.2l-2.9 16.6l2.9 12.9l4.6 3.7l17.1 4.1l10.9 .3l21.8-2.8l10.7 3.9l8.6 5.5l8.9 11l1.7 16.6l1.7 5.5l4 5.5l5.5 22.1l2.5 5.5l6.7 5.5l20.5 7l38.1 4.6l8.8 4.9l13 14.2l16.3 .8l16.3-15.1l5.5-2.6l10.9-1.7l12.3 4.4l9.4 13.8l21.2 1.2l0 227.3l-483.3 0l0-622.4zM250.2 3219.5l-3.9 7.9l3.9 7.9l5.4 1.9l5.4-1.6l2.6-2.7l-.6-5.5l-7.4-7.4zM299.2 3264.8l-23 12.2l-5.1 5.6l-1.7 5.5l.9 5.5l4.2 5.5l18.3 11l11.8 9.5l5.4 1l10.9-3.5l21.5-12.5l5-5.5l2.6-5.5l-18.2-26.5l-16.3-2.2z" fill="#fff1bc" fill-rule="evenodd"/>
<path d="M386.3 3312.9l10.8-1l5.5 3.5l3.3 5.8l1.3 5.5l-2 11l-10.7 16.6l-1.5 5.5l4.8 11l15.7 17l1.4 10.6l-10 33.1l.1 5.5l2.8 5.5l11.1 9.8l5.5 1.7l5.4-1.9l15.6-20.6l6.2-4.3l5.4-1.4l16.4 .2l27.2-13.6l27.2-6.4l21.8 .1l10.9-3.1l27.2 .5l16 16.9l10.6 3.8l0 166.8l-483.3 0l0-79.3l21.2 8.4l10.9-.2l5.4-3.8l10.9-14.8l31.2-14.7l6.9-5l8.6-11.5l.9-5.5l-1.2-5.5l-9.8-16.6l-1.6-5.5l3.1-6.9l10.9-4.7l21.8-1.5l5.4-2l5.4-4l6.6-8.5l1.9-5.5l1.5-16.5l6.4-4.3l16.3-3.5l7.4-3.3l9.6-16.5l15.7-13.1l9.3-14.5l5.8-5.5l12.1-5.2l16.3-2.3zM293.7 3176.9l16.3 7.6l10.9 3.2l1.5 6.6l-6.9 9.1l-5.5 4l-16.3 5.9l-10.9-2.7l-5.5-5.3l-4-11l3.8-11l5.7-5.5l5.5-1.6zM201.9 2968.6l-3.6 32.7l-1 27.5l-7.9 27.6l.9 11.1l8.1 16.5l.3 5.5l-5.2 22.1l-4.2 33.1l3.8 11l10 16.5l5.9 22.1l15.3 22.1l1.3 11l-1 22.1l8.5 22l2.1 33.1l-1.7 5.5l-5.4 5.6l-10.6 1.9l-16.3-1.4l-5.5 2.4l-23.1 24.6l-12.3 27.6l-8.1 4.3l-5.5 .1l-15.7-4.9l0-401.7z" fill="#eaffff" fill-rule="evenodd"/>
<path d="M359 3380.2l10.9-1l5.5 1.8l16.3 10.6l3.6 6.8l-.7 5.5l-2.9 4.9l-10.9 11.6l-4.9 11.1l0 11l3.6 11l-2.6 5.6l-13.2 11l14 11l2.2 5.5l-5.3 22.1l-12.4 11l3.4 5.5l4.3 4.2l5.5 2l3.1-6.2l5.4-5.5l29.6-12.3l10.9-13.5l5.4-4.2l16.3-6.9l10.9-1.2l5.5 1.2l7.3 3.8l5.5 5.5l2.2 5.6l1.3 19.2l3.7 8.3l7.2 4.2l16.3 1.9l5.6 5l2.8 11l.4 22.1l7 21.6l-390.8 0l0-43.3l21.2 9.9l27.2 .6l5.4-1.5l5.5-5.3l8.4-26.2l7.9-9.9l21.8-12l21.8-5.8l5.4-2.9l5.4-5.7l11.4-24.3l-1.1-27.6l2.1-5.5l9.4-12.1l5.5-4.6l10.9-4l27.2 .7l5.4-4.4l10.9-17.4z" fill="#bcf9ff" fill-rule="evenodd"/>
<path d="M293.7 3486.3l10.9 7l5.8 9.9l.5 11l-3 11l-3.3 5.3l-10.9 4.2l-10.9 .5l-10.9-2.7l-7.7-7.3l18.6-33.3l5.5-5z" fill="#99eaff" fill-rule="evenodd"/>
<path d="M337.7 3200l-4.6-5.9l-1.9-5.9l-3-6.6l-6.7-4.4l-8.4-1.7l-8.7-.9l-8.8 1.4l-6 5.7l-2 7l-2.9 5.5l-5.6 5.8l-2.3 7.8l5.1 6.5l8 3.8l7.2 3.1l7.7 2.2l8-.9l7.1-2.5l8.1-1.8l8.9-3.3l4.1-7.1z" fill="#eaffff"/>
<path d="M284.6 3139.9l-.3-3.5l-2.9-2.6l-4-1.3l-3-1.5l-3.1-2.7l-4.4-1.3l-4.3 1.6l-2.7 2.8l-2.4 2.6l-1.8 2.8l-.1 3.1l.9 2.9l.5 3.3l1.4 3.6l4 2l4.8-.8l3.8-1.3l3.7-.3l4.1-.7l3.1-2.3l1.5-3.1z" fill="#eaffff"/>
<path d="M578.3 3186.5l-.7-7l-1.8-6.5l-3.8-3.9l-4.2-1.5l-3.5-2.9l-4.4-4.1l-5.1 .3l-3.3 6.2l-1.4 7.2l-1.5 6l-1.3 6.2l.6 6.6l1.8 6l2 6.5l3.2 6l5 1l4.4-4.1l3.4-3.6l4.1-1.3l4.4-3.1l2.2-6.6z" fill="#ffd699"/>
<path d="M560.6 3556.2l4.4-12.1l-6.2-8.7l-10.3-5.2l-12.1-8.6l-1.7-12.1l-5.2-15.5l-3.4-12.1l-5.9-17.3l3.5-12.1l-2.8-10.3l5.2-13.9l2.4-10.3l-7.6-5.2l-6.9-8.6l-8.6-10.4l-1.7-12.1l6.2-17.3l4.8-13.8l4.5-13.5l6.9-7.2l7.9-13.8l5.9-13.8l8.6-13.9l1.7-8.6l3.5-12.1l10.3-5.2l12.1-6.9l3.4-8.6l10.4-3.5l8.9-10l6.6-10.7l8.6-12.1l20.7 0l0 400.7l-73.1 0l.7-41.4zM539.9 3347.2l-5.9-1.8l-1 10.4l2.4 8.6l3.4-5.1zM527.8 3399l1.7-8.7l-5.1-8.6l-3.5-6.9l-2.8 8.6l4.5 10.4zM534.7 3452.5l6.9-6.9l-1.7-5.2l-8.6 10.4z" fill="#fff" fill-rule="evenodd"/>
<path class="ct" d="M614 3210.7l-8.6 12.1l-6.6 10.7l-8.9 10l-10.4 3.5l-3.4 8.6l-12.1 6.9l-10.3 5.2l-3.5 12.1l-1.7 8.6l-8.6 13.9l-5.9 13.8l-7.9 13.8l-6.9 7.2l-4.5 13.5l-4.8 13.8l-6.2 17.3l1.7 12.1l8.6 10.4l6.9 8.6l7.6 5.2l-2.4 10.3l-5.2 13.9l2.8 10.3l-3.5 12.1l5.9 17.3l3.4 12.1l5.2 15.5l1.7 12.1l12.1 8.6l10.3 5.2l6.2 8.7l-4.4 12.1l1.7 13.8l-.7 20.7M534 3345.4l5.9 1.8l-1.1 12.1l-3.4 5.1l-2.4-8.6l1-10.4M520.9 3374.8l3.5 6.9l5.1 8.6l-1.7 8.7l-5.2-5.2l-4.5-10.4l2.8-8.6M539.9 3440.4l1.7 5.2l-6.9 6.9l-3.4-1.7l8.6-10.4M267.5 3177.9l5.2-1.7l6.9-3.5l5.1 2.8l5.2-5.6l5.2 2.8l5.1-5.2l5.2 1.8l5.2-7.6l3.4 4.1l5.2-1.7l3.5 5.8l6.9-.6l5.1 5.1l3.5-1.7l3.4 6.2l6.9 1.4l8.6-2.4l8.7 3.4l-1.8 5.2l-10.3 0l-8.6 3.5l-3.5 6.9l.7 10.4l-5.9 10.3l-5.1 8.7l-3.5 10.3l-5.1 6.9l5.1 5.2l6.9 1.7l-3.4 5.2l-10.4-3.4l-6.9 8.6l-6.9-1.7l-5.1 5.2l-3.5 13.8l-3.4-12.1l-6.9-5.2l-8.6 3.5l-5.2-5.2l-6.9 6.9l-5.2-8.7l-3.4-10.3l1.7-12.1l1.7-13.8l-2.7-10.4l2.7-10.4l-1.7-10.3l6.9-12.1M177.8 3291.9l8.7 36.3l5.1 20.7l3.5 20.7l12.1 24.2l12 22.5l6.9 22.4l8.6 20.7l5.2 17.3l-13.8 1.7l-8.6-19l-10.3-27.6l-15.6-20.7l-13.8-24.2l-3.4-31.1l-5.2-31.1l3.5-24.2l5.1-8.6M336.4 3504.3l12.1 5.2l10.4 22.5l1.7 24.2l10.3 19l-1.7 15.5M336.4 3504.3l1.8 17.3l6.9 20.7l3.4 24.2l-3.4 24.2M402 3017.3l6.9 1.7l5.1 12.1l0 20.7l8.6 17.3l8.7 17.3l-3.5 6.9l-6.9-8.7l-10.3-12.1l-3.5-20.7l-6.9-17.3l1.8-17.2M212.3 3138.2l15.5-22.5l13.8-15.5l8.7-5.2l-1.8 8.6l-10.3 17.3l-12.1 13.8l-8.6 5.2l-5.2-1.7M181.3 3184.8l8.6-5.2l5.2 6.9l-5.2 10.4l-6.9-1.7l-1.7-10.4M165.8 3233.2l8.6 3.4l1.7 12.1l-6.9 12.1l-6.9-1.7l1.8-13.8l1.7-12.1M279.6 3117.4l10.3-5.1l6.9 8.6l8.6-6.9l12.1 1.7l-3.5 8.6l1.8 7l-10.4 1.7l-5.2-5.2l-10.3 0l-5.2-5.2l-5.1-5.2M262.3 3438.7l8.6 5.2l12.1 12.1l10.3 12.1l-3.4 5.1l-10.3-6.9l-10.4-10.3l-6.9-8.7l0-8.6M146.8 3471.5l15.5-1.7l8.7 13.8l-5.2 17.3l-13.8-3.5l-6.9-10.3l1.7-15.6M183 3552.7l12.1 3.5l1.7 13.8l-10.3 3.4l-5.2-10.3l1.7-10.4M364 3305.7l8.6-6.9l10.4-5.2l-1.7 5.2l-10.4 6.9l-6.9 0M398.5 3293.6l3.5 1.7l0 10.4l-3.5 1.7l0-13.8M407.1 3252.2l3.5 3.4l-1.7 10.4l-3.5-3.5l1.7-10.3"/>
<path class="bd" d="M131.3 3025.6l13.8 2l12.1-6.9l8.6 2.8l12-6.9l8.7 4.1l8.6 4.9l12.1 12.4l12 11.7l12.1 4.9l13.8-9l10.3 3.4l13.8 4.2l13.8-5.5l13.8-2.1l13.8-.7l13.8-2.1l13.8-11M338.2 3031.8l17.2-18l17.2-19l8.7-8.6l-3.5-6.9l-5.2-10.4M381.3 2986.2l10.3 3.4l6.9 3.5l3.5 12.1l3.4 12.1l8.6 5.1l24.2 1.1l13.8 9.3l13.7 8.6l13.8 9l13.8 .7l17.3 3.5l18.9 2.7l10.4-12.4l18.9-10.4l13.8-5.5l12.1 10.4l25.9-.4l3.4-2.7M610.6 3039l-17.3 23.2l-13.8 16.6l0 126.7l19.3 28M338.2 3031.8l5.1 11.4l8.7 8.6l1.7 13.8l10.3 12.1l6.9 13.8l1.7 17.3l-5.1 15.5l-8.6 13.9l-10.4 13.8l-6.9 10.3l-5.2 7M339.9 3211.7l32.7 18l34.5 19l34.5 20.7l20.7 11.1l5.2 11.4l-3.5 6.9l6.9 5.2l22.4 15.5l25.9 17.6M215.8 3213.1l10.3-2.4l35.2 0M231.3 3054.6l-5.2 17.9l1.7 19l15.6 8.7M214 3134.7l-6.8 10.4l-8.7 10.3l-3.4 17.3l-6.9 17.3l-1.7 17.3l0 15.5M186.5 3222.8l12 3.5l8.7-5.2l8.6-8M215.8 3213.1l10.3 11.4l3.5 19l-1.8 13.8l-8.6 1.8M219.2 3259.1l-12-1.8l-8.7 1.8l-1.7 12.1l-17.2 2.4l-12.1-7.6l-5.9-3.5M161.6 3262.5l7.6-13.8l1.8-13.8l6.8-6.9l8.7-5.2M219.2 3259.1l-3.4 12.1l13.8 15.5l-10.4 12.1l-12 17.3l-8.7 10.3l-10.3 3.8M161.6 3262.5l5.9 12.1l5.9 15.6l1 19l5.2 20.7M131.3 3473.2l10.3-1.7l20.7-2.4l24.2-4.5l24.1-3.4l15.5-1.8M150.3 3494l3.4 19l-1.7 19l1.7 13.8l-5.2 17.3l-3.4 17.2l0 10.4M239.9 3473.2l15.5 8.7l13.8 6.9l17.3 6.9l15.5 5.2M302 3500.9l12 3.4l13.8 3.5l8.6-2.8M302 3500.9l10.3 8.6l3.5 12.1l8.6 13.8l-6.9 13.8l-5.2 13.9l1.7 13.8l-1.7 13.8M370.9 3575.8l15.5 1.1l13.8-10.4l13.8 10.4l13.8 3.4l17.3-1.7l13.7-1.7l13.8-10.4l13.8 0l17.3-1.7l17.2-6.9l17.2-6.9l10.4-5.2l10.3-9.7M370.9 3575.8l-10.3 1.1l-1.7 13.8"/>
<path d="M269.2 3590.7l0-34.5l34.5 0l0 34.5zM338.2 3556.2l68.9 0l0-34.6l0-34.5l69 0l0 34.5l0 34.6l0 34.5l-137.9 0zM131.3 3452.5l34.5 0l0 34.6l-34.5 0zM234.7 3487.1l-34.4 0l0-34.6l34.4 0zM234.7 3418l34.5 0l0 34.5l-34.5 0zM338.2 3210.7l34.4 0l0-34.5l34.5 0l0 34.5l0 34.6l-68.9 0zM131.3 3038l69 0l0 34.5l-34.5 0l0 34.6l0 34.5l0 34.6l-34.5 0l0-34.6l0-34.5l0-34.6zM338.2 3072.5l-34.5 0l0-34.5l-34.5 0l0-34.6l0-34.5l344.8 0l0 34.5l0 34.6l0 34.5l0 34.6l0 34.5l0 34.6l0 34.5l-8.6 12.1l-6.6 10.7l-8.9 10l-5.2 1.8l-5.2 0l0 1.7l-3.4 8.6l-12.1 6.9l-10.3 5.2l-3.5 12.1l-5.2 0l0 14.2l-5.1 8.3l-5.2 12l-24.1 0l0 34.6l-69 0l0-34.6l-34.5 0l0-34.5l0-34.5l103.5 0l0-34.6l-34.5 0l0-34.5l34.5 0l0-34.6l68.9 0l0-34.5l-137.9 0l0-34.6l-34.5 0l0 34.6l-68.9 0z" fill="url(#h_j)" fill-rule="evenodd"/>
<path d="M272.8 2974.7h0m32.8 0h0m32.8 0h0m32.8 0h0m32.8 0h0m32.8 0h0m32.8 0h0m32.8 0h0m32.8 0h0m32.8 0h0m32.8 0h0m-311.6 16.4h0m32.8 0h0m32.8 0h0m32.8 0h0m32.8 0h0m32.8 0h0m32.8 0h0m32.8 0h0m32.8 0h0m32.8 0h0m-311.6 16.5h0m32.8 0h0m32.8 0h0m32.8 0h0m32.8 0h0m32.8 0h0m32.8 0h0m32.8 0h0m32.8 0h0m32.8 0h0m32.8 0h0m-311.6 16.4h0m32.8 0h0m32.8 0h0m32.8 0h0m32.8 0h0m32.8 0h0m32.8 0h0m32.8 0h0m32.8 0h0m32.8 0h0m-311.6 16.4h0m32.8 0h0m32.8 0h0m32.8 0h0m32.8 0h0m32.8 0h0m32.8 0h0m32.8 0h0m32.8 0h0m32.8 0h0m32.8 0h0m-278.8 16.5h0m32.8 0h0m32.8 0h0m32.8 0h0m32.8 0h0m32.8 0h0m32.8 0h0m32.8 0h0m32.8 0h0m-278.8 16.4h0m32.8 0h0m32.8 0h0m32.8 0h0m32.8 0h0m32.8 0h0m32.8 0h0m32.8 0h0m32.8 0h0m32.8 0h0m-278.8 16.4h0m32.8 0h0m32.8 0h0m32.8 0h0m32.8 0h0m32.8 0h0m32.8 0h0m32.8 0h0m32.8 0h0m-278.8 16.4h0m32.8 0h0m32.8 0h0m32.8 0h0m32.8 0h0m32.8 0h0m32.8 0h0m32.8 0h0m32.8 0h0m32.8 0h0m-246 16.5h0m32.8 0h0m32.8 0h0m32.8 0h0m32.8 0h0m32.8 0h0m32.8 0h0m32.8 0h0m-246 16.4h0m32.8 0h0m32.8 0h0m32.8 0h0m32.8 0h0m32.8 0h0m32.8 0h0m32.8 0h0m32.8 0h0m-180.4 16.4h0m32.8 0h0m32.8 0h0m32.8 0h0m32.8 0h0m32.8 0h0m-147.6 16.5h0m32.8 0h0m32.8 0h0m32.8 0h0m32.8 0h0m32.8 0h0m-180.4 16.4h0m32.8 0h0m32.8 0h0m32.8 0h0m32.8 0h0m32.8 0h0m-147.6 16.4h0m32.8 0h0m32.8 0h0m32.8 0h0m32.8 0h0m32.8 0h0m-213.2 16.5h0m32.8 0h0m32.8 0h0m32.8 0h0m32.8 0h0m32.8 0h0m32.8 0h0m-180.4 16.4h0m32.8 0h0m32.8 0h0m32.8 0h0m32.8 0h0m32.8 0h0m-147.6 16.4h0m32.8 0h0m32.8 0h0m32.8 0h0m32.8 0h0m-114.8 16.4h0m32.8 0h0m32.8 0h0m32.8 0h0m-114.8 16.5h0m98.4 0h0m-16.4 16.4h0m32.8 0h0m-16.4 16.4h0m-16.4 16.5h0m-131.2 65.7h0m-16.4 16.4h0m-16.4 16.4h0m-16.4 16.5h0m-16.4 16.4h0m32.8 0h0m-49.2 16.4h0m32.8 0h0m-49.2 16.5h0m32.8 0h0m32.8 0h0m-82 16.4h0m32.8 0h0m32.8 0h0m98.4 0h0m-180.4 16.4h0m32.8 0h0m32.8 0h0m32.8 0h0m98.4 0h0m32.8 0h0m-246 16.5h0m65.6 0h0m32.8 0h0m32.8 0h0m65.6 0h0m32.8 0h0m32.8 0h0m-311.6 16.4h0m98.4 0h0m32.8 0h0m32.8 0h0m32.8 0h0m65.6 0h0m32.8 0h0m-278.8 16.4h0m98.4 0h0m32.8 0h0m32.8 0h0m32.8 0h0m32.8 0h0m32.8 0h0m32.8 0h0" stroke="#000" stroke-width="8.5" stroke-linecap="round" fill="none"/>
<path d="M240 3007.6h0m16.4 16.4h0m32.8 32.9h0m98.4 98.5h0m16.4 16.5h0m-147.6 16.4h0m131.2 0h0m-147.6 16.4h0m164 0h0m-147.6 16.5h0m-16.4 16.4h0m82 49.3h0m131.2 0h0m16.4 16.4h0m16.4 16.4h0m-131.2 197.2h0m98.4 0h0m-196.8 32.9h0m131.2 0h0m-180.4 16.4h0m32.8 0h0m164 0h0m-246 16.4h0m65.6 0h0m32.8 0h0" stroke="#1a1af0" stroke-width="8.5" stroke-linecap="round" fill="none"/>
<path d="M354.8 3254h0m-16.4 16.4h0m32.8 0h0m114.8 16.5h0m-180.4 16.4h0m147.6 16.4h0m-98.4 65.8h0m82 115h0m-65.6 32.8h0m32.8 0h0m-213.2 16.5h0m311.6 16.4h0" stroke="#3d87ff" stroke-width="8.5" stroke-linecap="round" fill="none"/>
<path d="M436.8 3303.3h0m32.8 32.9h0" stroke="#75d3ff" stroke-width="8.5" stroke-linecap="round" fill="none"/>
</g>
<path class="tk" d="M131.3 2952.7v16.2M131.3 3590.7v16.2M269.2 2952.7v16.2M269.2 3590.7v16.2M407.1 2952.7v16.2M407.1 3590.7v16.2M545 2952.7v16.2M545 3590.7v16.2M115.1 3038h16.2M614 3038h16.2M115.1 3176.2h16.2M614 3176.2h16.2M115.1 3314.3h16.2M614 3314.3h16.2M115.1 3452.5h16.2M614 3452.5h16.2M115.1 3590.7h16.2M614 3590.7h16.2"/>
<rect class="fr" x="131.3" y="2968.9" width="482.7" height="621.8"/>
<text x="128.7" y="2929.5" font-size="49">j) CDD</text>
<text x="89.5" y="3052.1" font-size="39.5" text-anchor="end">4N</text>
<text x="89.5" y="3190.3" font-size="39.5" text-anchor="end">0</text>
<text x="89.5" y="3328.5" font-size="39.5" text-anchor="end">4S</text>
<text x="89.5" y="3466.7" font-size="39.5" text-anchor="end">8S</text>
<text x="89.5" y="3604.8" font-size="39.5" text-anchor="end">12S</text>
<text x="131.3" y="3664.5" font-size="39.5" text-anchor="middle">28E</text>
<text x="269.2" y="3664.5" font-size="39.5" text-anchor="middle">32E</text>
<text x="407.1" y="3664.5" font-size="39.5" text-anchor="middle">36E</text>
<text x="545" y="3664.5" font-size="39.5" text-anchor="middle">40E</text>
<text x="372.6" y="3713" font-size="49" text-anchor="middle">days</text>
<g class="cbx">
<path d="M128.8 3730.7L81.4 3748.2L128.8 3765.7Z" fill="#ffac75"/>
<rect x="128.8" y="3730.7" width="48.6" height="35" fill="#ffd699"/>
<rect x="177.4" y="3730.7" width="48.6" height="35" fill="#fff1bc"/>
<rect x="226" y="3730.7" width="48.6" height="35" fill="#eaffff"/>
<rect x="274.7" y="3730.7" width="48.6" height="35" fill="#bcf9ff"/>
<rect x="323.3" y="3730.7" width="48.6" height="35" fill="#99eaff"/>
<rect x="371.9" y="3730.7" width="48.6" height="35" fill="#75d3ff"/>
<rect x="420.5" y="3730.7" width="48.6" height="35" fill="#56b0ff"/>
<rect x="469.1" y="3730.7" width="48.6" height="35" fill="#3d87ff"/>
<rect x="517.8" y="3730.7" width="48.6" height="35" fill="#2857ff"/>
<rect x="566.4" y="3730.7" width="48.6" height="35" fill="#181cf7"/>
<path d="M615 3730.7L662.5 3748.2L615 3765.7Z" fill="#2400d8"/>
</g>
<text x="128.8" y="3811.5" font-size="48" text-anchor="middle">-1</text>
<text x="226" y="3811.5" font-size="48" text-anchor="middle">0</text>
<text x="323.3" y="3811.5" font-size="48" text-anchor="middle">1</text>
<text x="420.5" y="3811.5" font-size="48" text-anchor="middle">2</text>
<text x="517.8" y="3811.5" font-size="48" text-anchor="middle">3</text>
<text x="615" y="3811.5" font-size="48" text-anchor="middle">4</text>
</g>
<g id="p_k">
<g clip-path="url(#c_k)">
<rect x="805.8" y="2967.8" width="484.2" height="622.9" fill="#ffac75"/>
<path d="M810.4 3217.4l21.8-14.5l9.2-9.3l2-5.5l-.1-5.5l-7.8-16.6l-.6-5.5l2.5-5.6l10.5-5.5l22.5-2.1l5.2-3.4l3.4-5.5l8.9-22.1l-.4-5.6l-11.2-22.1l1-11l8.6-27.6l6.4-5.5l19.3-.1l5.6-5.5l2.4-5.5l1.5-11.1l-.9-11l-5.3-11.1l-6.3-2.5l-16.3-1.9l-12.4-6.6l-9.3-11.1l-.9-5.5l1.1-5.1l419.5 0l0 623.5l-484.8 0l0-372.1z" fill="#ffd699" fill-rule="evenodd"/>
<path d="M1059 3591l-.7-10.6l3.3-11.1l-3.1-11l-7.9-10l-10.9-4.5l-5.5 .9l-26 30.2l-1.2 5.5l1.3 10.6l-202.8 0l0-193.1l10.3-.7l5.5-3.7l9.1-23.1l5.8-27.6l-3.1-22.1l-1.4-38.7l3.7-22.1l-6.3-22.1l-.3-5.5l2-5.5l23.2-21.3l11-19l5.4-5.9l5.5-2.2l16.4-.7l5.4-2.2l5.5-6.8l7.7-19.3l8.7-10.4l10.9-3.6l49.1 1.5l9.8-4.1l2-11l-11.9-27.6l-5.3-7.5l-15.9-14.6l-3.7-5.6l-1.8-16.5l-7.1-22.1l-1.5-11.1l3.9-33.2l0-16.1l342.2 0l0 623.5z" fill="#fff1bc" fill-rule="evenodd"/>
<path d="M1285.4 3516.9l-10.9-.3l-10.9 4.2l-5.5 4.3l-13.2 16.6l-8.6 4l-21.8 3l-16.4 4.6l-5.5-.8l-6.5-5.3l-5.4-16.6l-4.5-8.5l-21.8-14.9l-7.6-9.7l-2.7-38.7l7.9-22.1l0-5.5l-4.5-5.5l-9.5-1.2l-5.5 1.4l-8.2 5.3l-8.1 9.1l-23.5 7.5l-3.8 3.1l-11 16.1l-16.3-.9l-11-3.1l-7-4.2l-9.4-12.1l-5.4-1.9l-10.9 13.7l-11-4.2l-10.9-1.1l-5.4 1l-8.7 4.6l-4.1 5.5l-1.4 5.6l1.7 11l12.5 29.2l13.9 15l4.8 11.1l-2.2 11l-5.6 7.1l-5.5 3.5l-5.4 1l-11-3.1l-21.8-17.7l-21.8-1.4l-11 3.3l-16.4 17.4l-27.3 6.8l-5.6 5.2l-1.8 5.6l-.4 16.1l-68 0l0-138.6l10.3-7.9l21.5-7.8l2.1-5.5l-1.7-16.6l.8-11l10.1-29.5l7.5-9.2l19.8-7.5l2.7-9.1l1.8-16.6l-4.5-14.5l-5.5-4.9l-16.4-4l-4.6-9.7l0-5.5l4.1-11.1l13.2-16.6l2.3-5.5l.4-5.5l-3.3-16.6l1.8-5.5l16.5-22.1l24.2-11.9l16.4-14.2l5.5-2.8l5.5 1.6l21.8 19.7l5.5 3.5l10.9 3.3l21.8 1.9l8.8-1.1l7.6-3.5l6.3-7.6l-.4-5.5l-11.8-33.1l0-5.6l6.7-22.1l-.8-11l-14.9-33.2l-12.4-17.7l-5-9.9l-.9-11l4-22.1l-9.8-22.2l2.4-11l16-16.6l1.7-10.6l296.8 0l0 551.3z" fill="#eaffff" fill-rule="evenodd"/>
<path d="M897.7 3455.2l10.9 .5l2.5 3.1l1.1 5.5l-3.6 13.3l-5.4 7.7l-5.5 3.7l-5.4-.8l-5.5-5.1l-4.6-7.7l-1-5.5l2-5.6l3.6-4zM925 3431.1l6.5 5.6l-6.5 4.8l-5.4-3.4l0-1.9zM1290.3 3369.9l-21.2 1.5l-2.4 4.5l-3.2 16.6l-5.4 5.3l-21.8 .1l-5.5-2.5l-5.4-5.9l-10.5-19.1l-11.4-.5l-5.4 1.4l-12.7 10.2l-31 19.1l-10.9 4.6l-16.4 2.5l-16.4-2.3l-16.4 .6l-7.4-2.4l-4.8-5.6l-.5-5.5l1.9-5.5l7.2-11.1l4.1-11l-1.1-11.1l-2.3-5.5l-2.5-1.8l-5.5-1.3l-16.4 2l-10.9 4.5l-5.4 7.7l-5.5 18.1l-5.5 5.8l-10.9 3.1l-32.8-11l-38.1-27.1l-16.5-7.6l-9.2-9l-2.3-5.5l-.2-11l9.1-16.6l1.3-5.5l-3.5-5.6l-17.9-11l-6.7-11.1l-1-11l1.4-22.1l1-5.5l3.4-5.6l8.2-6.7l5.5-.7l5.5 2.4l15.3 16.1l17.4 6.2l5.5 3l7.3 7.4l14.5 7.4l5.5 1.2l5.4-.9l5.5-9l10.9-8.9l5.8-11.9l12.9-16.6l2.2-22.1l-2.6-16.6l20-14.1l5.4 1.5l4.6-9.5l3.2-22.1l-2.1-11l-5.6-5.6l-5.5-2.2l-22.5-3.3l-10.8-27.6l-12.4-22.1l-.6-5.5l5-16.6l-3.2-22.1l.8-7.4l5.4-5.2l16.4-5.3l6.6-4.2l7.4-11.1l4-10.6l232.6 0z" fill="#bcf9ff" fill-rule="evenodd"/>
<path d="M1290.3 3035.5l-15.8-2l-10.9 3.6l-10.9 7.3l-2.7 5.6l1.5 5.5l12.1 16.6l1.9 5.5l1.2 16.6l5 11l8.3 6.8l10.3 1l0 232.5l-21.2 .2l-21.9 9l-5.4 0l-21.9-10.4l-16.4-1.2l-34.8 10.7l-14.3 7.9l-21.9 .8l-10.9-2.9l-3.2-5.8l-1-22.1l-1.7-5.5l-5-5.5l-5.5-2.5l-10.9-.3l-21.8 8l-5.5 .3l-5.4-4l-1.8-23.6l-8.5-27.6l-.3-5.6l6.7-22.1l4.3-22.1l6.2-16.5l11.8-16.6l11.7-22.1l2.3-11.1l-1.2-16.5l1.5-12.7l5.5-8.9l16.4-10.4l5-6.7l7.1-27.6l-1.2-13.7l-14.9-30.5l-.1-5.6l2.4-5.5l6.9-5.5l22.1-11l6.8-5.6l4.8-5.5l5.7-11.1l0-10.6l129.5 0z" fill="#99eaff" fill-rule="evenodd"/>
<path d="M1094.3 3207.1l5.5-2.1l5.4 4.8l3.5 11.4l-.1 11.1l-2.2 5.5l-6.6 5.6l-5.5-2l-5.4-6.5l-3.5-8.1l2.3-11.1z" fill="#75d3ff" fill-rule="evenodd"/>
<path d="M897.7 3242.9l-.9-7.9l-3.8-6.8l-6.3-4l-5.6-3.6l-5.8-5.8l-8.1-3.7l-7.7 3.7l-4.3 8l-3.1 6.8l-4.1 5.9l-2.2 7.4l1.2 7.7l2.4 7.5l3.3 7.9l6.8 5l8.4-1.4l6.7-3.7l6.4-.7l8.2-.5l6.5-5.2l2.1-8.4z" fill="#fff1bc"/>
<path d="M896.6 3289.6l-.2-7.3l-3.9-5.9l-5.7-2.8l-4.4-2.8l-4.5-5.3l-6.3-3.3l-6.2 3l-3.9 6.3l-3 5.8l-2.8 5.7l-.6 6.6l1.4 6.4l1.1 6.6l2.1 7.7l5.4 4.5l6.9-1.4l5.5-3.3l5.1-.9l6.1-1.1l4.7-4.6l2.1-6.8z" fill="#fff1bc"/>
<path d="M831.6 3265.4l-.1-16.7l-3.8-11.7l-4.5-5.2l-3.2-7.3l-3.3-10.7l-4.7-4.1l-4.4 6l-3.6 9.4l-3.2 11l-1.4 14.5l1.1 14.8l1.1 12.6l-.1 15.1l1.3 17.2l4.3 8.6l5.1-2.3l4.3-4.1l4.1-2.4l3.8-6.5l2.5-11.4l2.3-12.3z" fill="#ffd699"/>
<path d="M816.7 3268.9l-.4-10.3l-.2-11.7l-1.6-10.4l-2.6-6.2l-2.8-4.3l-3.2-2.1l-2.9 5.4l-1.6 11.3l-1.2 9.5l-2.2 7.6l-2 11.2l.4 13.1l2.2 9.8l2.4 7.4l2.3 6.7l2.8 2.3l2.8-2.1l2.7-1.2l3.4-1.5l2.7-8.4l.2-13.9z" fill="#ffac75"/>
<path d="M1236.4 3556.1l4.5-12.1l-6.2-8.7l-10.4-5.2l-12.1-8.6l-1.7-12.1l-5.2-15.6l-3.5-12.1l-5.9-17.3l3.5-12.1l-2.8-10.4l5.2-13.8l2.4-10.4l-7.6-5.2l-6.9-8.7l-8.6-10.4l-1.8-12.1l6.3-17.3l4.8-13.8l4.5-13.5l6.9-7.3l8-13.8l5.8-13.9l8.7-13.8l1.7-8.7l3.5-12.1l10.4-5.2l12.1-6.9l3.4-8.6l10.4-3.5l9-10l6.6-10.7l8.6-12.2l20.8 0l0 401.5l-73.4 0l.7-41.6zM1215.6 3346.7l-5.8-1.7l-1.1 10.4l2.4 8.6l3.5-5.2zM1203.5 3398.6l1.8-8.6l-5.2-8.7l-3.5-6.9l-2.7 8.7l4.4 10.3zM1210.5 3452.3l6.9-6.9l-1.8-5.2l-8.6 10.3z" fill="#fff" fill-rule="evenodd"/>
<path class="ct" d="M1290 3210l-8.6 12.2l-6.6 10.7l-9 10l-10.4 3.5l-3.4 8.6l-12.1 6.9l-10.4 5.2l-3.5 12.1l-1.7 8.7l-8.7 13.8l-5.8 13.9l-8 13.8l-6.9 7.3l-4.5 13.5l-4.8 13.8l-6.3 17.3l1.8 12.1l8.6 10.4l6.9 8.7l7.6 5.2l-2.4 10.4l-5.2 13.8l2.8 10.4l-3.5 12.1l5.9 17.3l3.5 12.1l5.2 15.6l1.7 12.1l12.1 8.6l10.4 5.2l6.2 8.7l-4.5 12.1l1.7 13.8l-.7 20.8M1209.8 3345l5.8 1.7l-1 12.1l-3.5 5.2l-2.4-8.6l1.1-10.4M1196.6 3374.4l3.5 6.9l5.2 8.7l-1.8 8.6l-5.2-5.2l-4.4-10.3l2.7-8.7M1215.6 3440.2l1.8 5.2l-6.9 6.9l-3.5-1.8l8.6-10.3M942.4 3177.2l5.2-1.8l6.9-3.4l5.2 2.7l5.2-5.5l5.2 2.8l5.2-5.2l5.2 1.7l5.1-7.6l3.5 4.2l5.2-1.8l3.5 5.9l6.9-.7l5.2 5.2l3.4-1.7l3.5 6.2l6.9 1.4l8.6-2.4l8.7 3.4l-1.7 5.2l-10.4 0l-8.7 3.5l-3.4 6.9l.7 10.4l-5.9 10.4l-5.2 8.6l-3.5 10.4l-5.1 6.9l5.1 5.2l7 1.7l-3.5 5.2l-10.4-3.4l-6.9 8.6l-6.9-1.7l-5.2 5.2l-3.5 13.8l-3.4-12.1l-6.9-5.2l-8.7 3.5l-5.2-5.2l-6.9 6.9l-5.2-8.6l-3.4-10.4l1.7-12.1l1.7-13.9l-2.7-10.4l2.7-10.3l-1.7-10.4l6.9-12.1M852.5 3291.4l8.6 36.3l5.2 20.8l3.5 20.7l12.1 24.2l12.1 22.5l6.9 22.5l8.7 20.8l5.1 17.3l-13.8 1.7l-8.6-19l-10.4-27.7l-15.6-20.7l-13.8-24.3l-3.5-31.1l-5.2-31.2l3.5-24.2l5.2-8.6M1011.6 3504.2l12.1 5.2l10.4 22.5l1.7 24.2l10.4 19l-1.8 15.6M1011.6 3504.2l1.7 17.3l6.9 20.8l3.5 24.2l-3.5 24.2M1077.3 3016.2l6.9 1.8l5.2 12.1l0 20.8l8.6 17.3l8.7 17.3l-3.5 6.9l-6.9-8.7l-10.4-12.1l-3.4-20.7l-6.9-17.3l1.7-17.4M887.1 3137.4l15.5-22.5l13.9-15.6l8.6-5.2l-1.7 8.7l-10.4 17.3l-12.1 13.8l-8.6 5.2l-5.2-1.7M855.9 3184.1l8.7-5.2l5.2 6.9l-5.2 10.4l-6.9-1.7l-1.8-10.4M840.4 3232.5l8.6 3.5l1.8 12.1l-7 12.1l-6.9-1.7l1.8-13.9l1.7-12.1M954.5 3116.6l10.4-5.2l6.9 8.7l8.7-7l12.1 1.8l-3.5 8.6l1.7 6.9l-10.3 1.8l-5.2-5.2l-10.4 0l-5.2-5.2l-5.2-5.2M937.2 3438.4l8.7 5.2l12.1 12.1l10.4 12.2l-3.5 5.1l-10.4-6.9l-10.4-10.4l-6.9-8.6l0-8.7M821.4 3471.3l15.5-1.7l8.7 13.8l-5.2 17.3l-13.8-3.4l-7-10.4l1.8-15.6M857.7 3552.6l12.1 3.5l1.7 13.8l-10.4 3.5l-5.2-10.4l1.8-10.4M1039.3 3305.2l8.6-6.9l10.4-5.2l-1.8 5.2l-10.3 6.9l-6.9 0M1073.8 3293.1l3.5 1.7l0 10.4l-3.5 1.7l0-13.8M1082.5 3251.6l3.4 3.4l-1.7 10.4l-3.4-3.5l1.7-10.3"/>
<path class="bd" d="M805.8 3024.6l13.8 2l12.1-6.9l8.7 2.8l12.1-6.9l8.6 4.1l8.7 4.9l12.1 12.4l12.1 11.8l12.1 4.8l13.8-9l10.4 3.5l13.8 4.1l13.9-5.5l13.8-2.1l13.8-.7l13.9-2l13.8-11.1M1013.3 3030.8l17.3-18l17.3-19l8.6-8.7l-3.4-6.9l-5.2-10.4M1056.5 2985.1l10.4 3.5l6.9 3.4l3.5 12.1l3.5 12.1l8.6 5.2l24.2 1.1l13.8 9.3l13.9 8.7l13.8 9l13.9 .7l17.2 3.4l19.1 2.8l10.3-12.5l19.1-10.3l13.8-5.6l12.1 10.4l25.9-.4l3.5-2.7M1286.5 3038l-17.3 23.2l-13.8 16.6l0 127l19.4 28.1M1013.3 3030.8l5.2 11.4l8.6 8.7l1.8 13.8l10.4 12.1l6.9 13.8l1.7 17.4l-5.2 15.5l-8.6 13.9l-10.4 13.8l-6.9 10.4l-5.2 6.9M1015 3211.1l32.9 18l34.6 19l34.6 20.8l20.7 11l5.2 11.5l-3.4 6.9l6.9 5.2l22.5 15.5l25.9 17.7M890.5 3212.5l10.4-2.5l35.3 0M906.1 3053.6l-5.2 18l1.7 19l15.6 8.7M888.8 3133.9l-6.9 10.4l-8.7 10.4l-3.4 17.3l-6.9 17.3l-1.8 17.3l0 15.6M861.1 3222.2l12.1 3.4l8.7-5.2l8.6-7.9M890.5 3212.5l10.4 11.4l3.5 19l-1.8 13.9l-8.6 1.7M894 3258.5l-12.1-1.7l-8.7 1.7l-1.7 12.1l-17.3 2.4l-12.1-7.6l-5.9-3.5M836.2 3261.9l7.6-13.8l1.8-13.8l6.9-7l8.6-5.1M894 3258.5l-3.5 12.1l13.9 15.6l-10.4 12.1l-12.1 17.3l-8.7 10.4l-10.3 3.8M836.2 3261.9l5.9 12.2l5.9 15.5l1 19.1l5.2 20.7M805.8 3473l10.4-1.7l20.7-2.4l24.2-4.5l24.2-3.5l15.6-1.7M824.8 3493.8l3.5 19l-1.7 19.1l1.7 13.8l-5.2 17.3l-3.5 17.3l0 10.4M914.7 3473l15.6 8.7l13.8 6.9l17.3 6.9l15.6 5.2M977 3500.7l12.1 3.5l13.8 3.4l8.7-2.7M977 3500.7l10.4 8.7l3.4 12.1l8.7 13.8l-6.9 13.9l-5.2 13.8l1.7 13.9l-1.7 13.8M1046.2 3575.8l15.5 1.1l13.9-10.4l13.8 10.4l13.8 3.4l17.3-1.7l13.9-1.7l13.8-10.4l13.8 0l17.3-1.8l17.3-6.9l17.3-6.9l10.4-5.2l10.4-9.7M1046.2 3575.8l-10.4 1.1l-1.7 13.8"/>
<path d="M875 3417.7l69.1 0l0-34.6l0-34.6l-34.5 0l0-34.6l0-34.7l0-34.6l0-34.6l69.1 0l0 34.6l34.6 0l0-34.6l34.6 0l0-34.6l34.6 0l0-34.6l0-34.6l-34.6 0l0-34.6l0-34.6l-34.6 0l0-34.6l0-34.6l69.2 0l0 34.6l34.6 0l0 34.6l0 34.6l34.6 0l0 34.6l69.1 0l0-34.6l-34.6 0l0-34.6l-34.5 0l0-34.6l69.1 0l0-34.6l69.2 0l0 34.6l0 34.6l0 34.6l0 34.6l0 34.6l0 34.6l0 34.6l-8.6 12.2l-6.6 10.7l-9 10l-5.2 1.7l-5.2 0l0 1.8l-3.4 8.6l-12.1 6.9l-10.4 5.2l-3.5 12.1l-5.2 0l0 14.2l-5.2 8.3l-5.8 13.9l-8 13.8l-6.9 7.3l-3.9 11.8l-4.8 0l0 13.6l-.6 1.9l-6.3 17.3l1.8 12.1l8.6 10.4l6.9 8.7l7.6 5.2l-18 0l0 34.6l-34.5 0l0-34.6l-34.6 0l0-34.6l-34.6 0l0-34.6l-34.6 0l0 34.6l0 34.6l-34.6 0l0 34.6l-69.2 0l0 34.6l-34.5 0l0 34.6l-34.6 0l0-34.6l0-34.6zM1209.4 3348.5l.4-3.5l5.8 1.7l-.1 1.8zM1201.1 3383.1l4.2 6.9l-1.8 8.6l-5.2-5.2l-4.4-10.3zM805.8 3210l0-34.6l0-34.6l0-34.6l0-34.6l0-34.6l34.6 0l0-34.6l103.7 0l0 34.6l0 34.6l34.6 0l0 34.6l0 34.6l-69.1 0l0 34.6l-34.6 0l0 34.6l-34.6 0l0 34.6l-34.6 0z" fill="url(#h_k)" fill-rule="evenodd"/>
<path d="M829.5 2973.6h0m32.8 0h0m295.2 0h0m32.8 0h0m32.8 0h0m32.8 0h0m32.8 0h0m-475.6 16.4h0m32.8 0h0m328 0h0m32.8 0h0m32.8 0h0m32.8 0h0m-442.8 16.5h0m32.8 0h0m32.8 0h0m32.8 0h0m131.2 0h0m32.8 0h0m32.8 0h0m32.8 0h0m32.8 0h0m32.8 0h0m32.8 0h0m32.8 0h0m-475.6 16.4h0m32.8 0h0m32.8 0h0m32.8 0h0m164 0h0m32.8 0h0m32.8 0h0m32.8 0h0m32.8 0h0m32.8 0h0m32.8 0h0m-442.8 16.4h0m32.8 0h0m32.8 0h0m164 0h0m32.8 0h0m32.8 0h0m32.8 0h0m32.8 0h0m32.8 0h0m32.8 0h0m32.8 0h0m-475.6 16.5h0m32.8 0h0m32.8 0h0m196.8 0h0m32.8 0h0m32.8 0h0m32.8 0h0m32.8 0h0m32.8 0h0m32.8 0h0m-442.8 16.4h0m32.8 0h0m32.8 0h0m164 0h0m32.8 0h0m32.8 0h0m32.8 0h0m32.8 0h0m32.8 0h0m32.8 0h0m32.8 0h0m-475.6 16.4h0m32.8 0h0m32.8 0h0m196.8 0h0m32.8 0h0m32.8 0h0m32.8 0h0m32.8 0h0m32.8 0h0m32.8 0h0m-442.8 16.4h0m32.8 0h0m32.8 0h0m164 0h0m32.8 0h0m32.8 0h0m32.8 0h0m32.8 0h0m32.8 0h0m32.8 0h0m32.8 0h0m-475.6 16.5h0m32.8 0h0m98.4 0h0m164 0h0m32.8 0h0m32.8 0h0m32.8 0h0m32.8 0h0m32.8 0h0m-442.8 16.4h0m32.8 0h0m98.4 0h0m131.2 0h0m32.8 0h0m32.8 0h0m32.8 0h0m32.8 0h0m32.8 0h0m32.8 0h0m-475.6 16.4h0m32.8 0h0m262.4 0h0m32.8 0h0m32.8 0h0m32.8 0h0m32.8 0h0m32.8 0h0m-442.8 16.5h0m32.8 0h0m229.6 0h0m32.8 0h0m32.8 0h0m32.8 0h0m32.8 0h0m32.8 0h0m32.8 0h0m-475.6 16.4h0m262.4 0h0m32.8 0h0m32.8 0h0m32.8 0h0m32.8 0h0m32.8 0h0m32.8 0h0m-442.8 16.4h0m262.4 0h0m32.8 0h0m32.8 0h0m32.8 0h0m32.8 0h0m32.8 0h0m32.8 0h0m-377.2 16.5h0m164 0h0m32.8 0h0m32.8 0h0m32.8 0h0m32.8 0h0m32.8 0h0m-311.6 16.4h0m131.2 0h0m32.8 0h0m32.8 0h0m32.8 0h0m32.8 0h0m32.8 0h0m-311.6 16.4h0m32.8 0h0m32.8 0h0m98.4 0h0m32.8 0h0m32.8 0h0m32.8 0h0m32.8 0h0m-278.8 16.4h0m32.8 0h0m98.4 0h0m32.8 0h0m32.8 0h0m32.8 0h0m32.8 0h0m-246 16.5h0m65.6 0h0m32.8 0h0m32.8 0h0m32.8 0h0m32.8 0h0m32.8 0h0m32.8 0h0m-246 16.4h0m32.8 0h0m32.8 0h0m32.8 0h0m32.8 0h0m32.8 0h0m32.8 0h0m32.8 0h0m-246 16.4h0m65.6 0h0m32.8 0h0m32.8 0h0m32.8 0h0m32.8 0h0m32.8 0h0m32.8 0h0m-246 16.5h0m32.8 0h0m32.8 0h0m32.8 0h0m32.8 0h0m32.8 0h0m32.8 0h0m32.8 0h0m-147.6 16.4h0m-16.4 16.4h0m131.2 0h0" stroke="#000" stroke-width="8.5" stroke-linecap="round" fill="none"/>
<path d="M895.1 2973.6h0m-16.4 16.4h0m196.8 131.5h0m-16.4 16.4h0m49.2 246.5h0m65.6 0h0m-82 16.4h0m65.6 0h0m-49.2 16.4h0m65.6 0h0" stroke="#3d87ff" stroke-width="8.5" stroke-linecap="round" fill="none"/>
<path d="M1091.9 2973.6h0m16.4 16.4h0m-180.4 49.3h0m98.4 0h0m-114.8 16.5h0m131.2 0h0m-16.4 16.4h0m16.4 16.4h0m-16.4 16.4h0m-147.6 16.5h0m98.4 0h0m-82 16.4h0m-16.4 16.4h0m196.8 0h0m-180.4 16.5h0m164 0h0m0 32.8h0m-16.4 16.5h0m229.6 0h0m-246 16.4h0m229.6 0h0m-213.2 16.4h0m-16.4 16.4h0m-49.2 16.5h0m0 32.8h0m196.8 32.9h0m-246 82.1h0m-16.4 16.5h0" stroke="#1a1af0" stroke-width="8.5" stroke-linecap="round" fill="none"/>
</g>
<path class="tk" d="M805.8 2951.6v16.2M805.8 3590.7v16.2M944.1 2951.6v16.2M944.1 3590.7v16.2M1082.5 2951.6v16.2M1082.5 3590.7v16.2M1220.8 2951.6v16.2M1220.8 3590.7v16.2M789.6 3037h16.2M1290 3037h16.2M789.6 3175.4h16.2M1290 3175.4h16.2M789.6 3313.9h16.2M1290 3313.9h16.2M789.6 3452.3h16.2M1290 3452.3h16.2M789.6 3590.7h16.2M1290 3590.7h16.2"/>
<rect class="fr" x="805.8" y="2967.8" width="484.2" height="622.9"/>
<text x="803.8" y="2928" font-size="49">k) CWD</text>
<text x="764.5" y="3051.2" font-size="39.5" text-anchor="end">4N</text>
<text x="764.5" y="3189.6" font-size="39.5" text-anchor="end">0</text>
<text x="764.5" y="3328" font-size="39.5" text-anchor="end">4S</text>
<text x="764.5" y="3466.4" font-size="39.5" text-anchor="end">8S</text>
<text x="764.5" y="3604.8" font-size="39.5" text-anchor="end">12S</text>
<text x="805.8" y="3664.5" font-size="39.5" text-anchor="middle">28E</text>
<text x="944.1" y="3664.5" font-size="39.5" text-anchor="middle">32E</text>
<text x="1082.5" y="3664.5" font-size="39.5" text-anchor="middle">36E</text>
<text x="1220.8" y="3664.5" font-size="39.5" text-anchor="middle">40E</text>
<text x="1047.9" y="3713" font-size="49" text-anchor="middle">days</text>
<g class="cbx">
<path d="M803.3 3730.7L755.5 3748.2L803.3 3765.7Z" fill="#ffac75"/>
<rect x="803.3" y="3730.7" width="48.8" height="35" fill="#ffd699"/>
<rect x="852.1" y="3730.7" width="48.8" height="35" fill="#fff1bc"/>
<rect x="901" y="3730.7" width="48.8" height="35" fill="#eaffff"/>
<rect x="949.8" y="3730.7" width="48.8" height="35" fill="#bcf9ff"/>
<rect x="998.6" y="3730.7" width="48.8" height="35" fill="#99eaff"/>
<rect x="1047.4" y="3730.7" width="48.8" height="35" fill="#75d3ff"/>
<rect x="1096.3" y="3730.7" width="48.8" height="35" fill="#56b0ff"/>
<rect x="1145.1" y="3730.7" width="48.8" height="35" fill="#3d87ff"/>
<rect x="1193.9" y="3730.7" width="48.8" height="35" fill="#2857ff"/>
<rect x="1242.8" y="3730.7" width="48.8" height="35" fill="#181cf7"/>
<path d="M1291.6 3730.7L1338.5 3748.2L1291.6 3765.7Z" fill="#2400d8"/>
</g>
<text x="803.3" y="3811.5" font-size="48" text-anchor="middle">-1</text>
<text x="901" y="3811.5" font-size="48" text-anchor="middle">0</text>
<text x="998.6" y="3811.5" font-size="48" text-anchor="middle">1</text>
<text x="1096.3" y="3811.5" font-size="48" text-anchor="middle">2</text>
<text x="1193.9" y="3811.5" font-size="48" text-anchor="middle">3</text>
<text x="1291.6" y="3811.5" font-size="48" text-anchor="middle">4</text>
</g>
<g id="p_l">
<g clip-path="url(#c_l)">
<rect x="1481.4" y="2967.6" width="483.6" height="623.1" fill="#bcf9ff"/>
<path d="M1965.3 3518.8l-10.3-2.7l-10.9 2.1l-10.9 6.9l-17.7 33.2l1.4 16.5l10.7 16.2l-446.5 0l0-623.7l484.2 0z" fill="#99eaff" fill-rule="evenodd"/>
<path d="M1929.2 2967.3l6.3 21.7l5.2 5.5l8.8 2.8l15.8-3.1l0 467.6l-4.8 4.4l-16.4 .6l-21.8-9.7l-21.8-13.7l-10.9-1l-11 5.1l-36.1 22.3l-4.5 5.6l-7.8 27.6l0 16.6l4.8 7.2l5.5 2.4l16.3 2l5.7 5l2.7 11l.4 22.1l7 21.7l-391.5 0l0-541l10.3-.1l8-5.6l14.6-16.6l3.8-11.1l-.7-5.5l-3-5.5l-6.3-5.5l-16.4-6.8l-10.3-.7l0-25.3zM1540.2 3221.1l-1.6 5.5l1.8 5.6l5.5 5l10.9 7.5l5.5 1.9l5.5-2.9l2.7-11.5l-3.6-11.1l-4.6-3.3l-5.5-.8l-10.9 1.4zM1791.7 3071.9l-11.2 1.3l-5.5 4.5l-2.7 5.2l-.8 5.6l2.3 5.5l6.7 3.5l9.3-3.5l5-5.5l1.7-5.6l-.4-5.5zM1774.4 3381.4l-4.8 2.4l-11.5 19.7l-4.2 11.1l-1.8 11l1.2 11.1l8.9 22.1l4.3 16.6l3.1 7.2l5.4 4.2l5.5-1.8l5.4-5.4l12.3-26.3l4.1-3.3l16.3-3.6l5.5-3.1l3.9-6.6l1.2-5.6l-.6-5.5l-4.5-7l-21-9.6l-14.7-22.1l-7.9-5.1z" fill="#75d3ff" fill-rule="evenodd"/>
<path d="M1685.9 3458.8l7.3 2.3l10.9 9.5l5.5 2l21.8 .4l5.4 1.1l5.5 3.5l10.9 26.1l5.5 21.4l.8 11.1l-3.8 5.5l-8 2.2l-8.8-2.2l-5.5-5.5l-7.5-13.8l-5.4-5.2l-25-8.7l-6.2-5.5l-2.5-5.5l-2.2-16.6l-4.5-16.6zM1860.1 2967.3l-.5 10.6l3.1 5.6l13.3 11l.4 16.6l-9.4 11l-3 11.1l2.1 5.5l14 11.1l7.5 11l2.2 11.1l1.4 38.7l-1.6 11l-2.9 5.6l-8.1 7.2l-19.9 9.3l-1.8 5.6l.6 5.5l2 5.5l8.7 11.1l7 5.5l8.9 3.9l10.9 3l4.7-1.4l11.7-11.1l5.3 16.7l9.9 5.5l3.3 5.5l7.9 27.6l-1.2 5.6l-4.2 5.5l-10.1 7.3l-5.5 .4l-5.4-2.6l-4.5-5.1l-8.1-22.1l-3.8-5.9l-5.4-2.3l-21.9 2.3l-21.8-8.1l-10.9-1l-5.4 2.5l-5.6 7l-3.5 16.5l1.4 11.1l2.2 3.8l5.5 3.3l21.8 1.4l5.4 2.4l5.5 7.6l10.3 25.7l.5 5.5l-10.8 13.8l-3.5 8.3l-.2 5.6l5.1 22.1l-6.9 33.1l-4.4 11.1l-6.1 5.5l-5.8 2.4l-10.9 .7l-8.7-3.1l-8.7-16.6l-4.5-5l-10.9-3.8l-5.4-3.7l-10.9-15.1l-5.5-3.7l-10.9 .3l-27.3 8.9l-7.9 5.6l-7.7 22.1l-4.1 5.5l-34.8 26.4l-6 6.8l-5.7 11l-2.1 11.1l.4 11l-3 4.4l-16.3 5.1l-27.3 .5l-5.5 5l-9.3 29.2l1 5.6l8.3 10.3l17.5 11.8l.2 16.6l-.4 5.5l-9.9 11l-5.4 11.1l-5.2 27.2l-132.5 0l0-514.4l15.8-5.3l10.9-1.2l21.8 6.1l5.4 .1l10.9-4.6l5.6-5.3l10.8-18l5.5-3.2l21.8 5.6l10.9-.7l5.4-1.9l6.2-3.9l3.6-5.6l5-22.1l6.6-11l6.1-5.6l32.5-20.9l2.9-6.7l0-5.1zM1780.5 3039.8l-5.5 4.9l-18.7 38.2l.1 11.1l5.1 11l8.1 9l5.4 2.6l27.3-1.3l10.9 4.4l5.4-.8l11-5.1l3.5-3.2l-3.4-22.1l.8-27.7l-1.7-5.5l-10.2-10.2l-10.9-5.1l-16.3-2.2zM1622.3 3101.2l-16.4 8.7l-10.9 1.6l-27.2-10l-5.5-.4l-10.1 3.9l-4.6 5.6l-6.9 22.1l-1.2 11l6.3 22.1l.1 11.1l-5.4 6.4l-16.4-1.9l-5.4 1l-6.4 5.6l-.7 5.5l7.2 16.6l6.7 44.2l4.1 7.5l5.4 4.1l27.3 11.8l5.5 .4l5.4-3.7l5.5-11.9l4.8-19.3l2.4-38.7l15.8-33.1l4.2-5.6l5.5-3.6l32.7-7.5l8.6-5.4l13.2-15.7l0-6.4l-2.3-5.6l-24.9-21.9l-5.5-1.9zM1605.9 3354.5l-4.9 4.8l-2.4 5.5l2.4 16.6l-3.2 16.6l-.3 11l4.2 11.1l4.2 4l5.5 1l10.9-3.7l12.6-6.8l15.1-11.1l6.3-11l3.4-16.6l-1.6-5.6l-4-5.5l-15.4-11.9l-16.4-2l-10.9 1.3z" fill="#56b0ff" fill-rule="evenodd"/>
<path d="M1496.9 3214.4l5.4 2.3l5.9 9.9l1 33.2l3.9 11.1l5.6 6.3l21.8 15.7l10.1 16.6l3.3 16.6l-.8 33.2l2 11l3.7 5.6l14.4 8.5l7.4 8.1l2.2 11l-3.2 33.2l6.1 22.1l1.1 11l-2.7 7.8l-5.4 7.9l-5.5 4.4l-17.9 7.6l-.9 5.5l3.2 11l-.8 6.4l-21.8-3.1l-10.9 .9l-5.4 4.7l-6.9 18.8l-4 6.2l-5.7 4.8l-21 10.1l0-344zM1802.3 3272.5l16.3 2.5l11.3 6.9l3.3 5.5l-.4 11.1l-3.4 5.5l-5.3 4l-10.9 3.1l-10.9-.9l-10.9-3.7l-11.3-8l-1.2-5.5l2.8-11.1l7.4-5.5zM1746.4 2967.3l2.2 27.2l8.2 16.6l2 11l-2.5 27.7l-16.2 33.1l-1.3 5.6l2.4 16.5l4.9 11.1l23.5 19l16.3 10.9l5.6 8.8l-.1 8.2l-10.9 10.5l-16.4 31.3l-5.4 3.5l-21.9 3l-16.3 5.7l-16.4 19.3l-10.9 16.2l-10.9 6.3l-27.3 23.1l-5.4 3.1l-10.9 2.6l-32.8-5.4l-5.4-3.1l-5.5-7.7l-2.1-11.6l6-44.2l9.8-27.6l8.1-11.1l8.6-5.5l13.3-3.8l21.8-2.4l10.7-4.9l5.6-7.5l9.5-20.1l0-11.1l-3.1-5.5l-19-16.6l-9.1-11l-3.3-11.1l1.7-5.5l7-5.6l21.8-6.9l27.9-26.2l14.5-22.1l1.6-22.1l7.5-21.7z" fill="#3d87ff" fill-rule="evenodd"/>
<path d="M1502.3 3444l5.5 3.8l6 11l1 11l-1.6 5.7l-5.4 8.6l-5.5 4.1l-5.4 1.7l-15.8-.5l0-37l10.3-7.6l5.5-1.5zM1529.6 3361.4l4.5 8.9l1.6 16.6l10.2 7.6l16.4 4.6l2.6 4.4l-2.6 4.9l-5.5 1.4l-16.3-.6l-5.3-5.7l-13-33.2l.1-5.5l1.8-3.2zM1528.7 3320.6l.2 5.5l-2.4 5.6l-2.4 3.4l-5.4 1.8l-5.1-5.2l-.3-5.6l2.6-5.5l2.8-3.5l5.4-2.2zM1709.6 3127.6l32.7 7.1l10.9 8l6.9 12.1l.5 5.5l-4.4 11.1l-8.5 8.5l-16.3 11.4l-27.3 9.3l-5.4 6.7l-9.9 24.9l-3.8 5.5l-16 11.1l-24.9 22.8l-10.9 2.1l-9.4-2.8l-9.9-5.6l-4.6-5.5l-1.6-5.5l.9-27.7l3.6-22.1l7.2-16.5l8.4-7.9l7.1-3.2l9.2-1.3l27.3 .7l10.6-4.9l5.7-6.6l11-25.3l5.4-8.2z" fill="#2857ff" fill-rule="evenodd"/>
<path d="M1638.7 3184.5l10.9 .7l23.9 8.3l3.3 5.5l1.2 22.1l-1.3 5.5l-4.1 5.6l-17.6 11.1l-16.3 15.3l-5.5 .5l-5.4-4l-3.2-6.3l-4.6-22.2l-.2-11l1.7-11.1l4.3-11l5.2-5.5zM1731.4 3146.6l5.4 .7l5.5 4l2.1 3.5l.3 5.5l-3.3 5.5l-10 5.8l-10.9-1.7l-5.3-4.1l-.7-5.5l6-8.2z" fill="#181cf7" fill-rule="evenodd"/>
<path d="M1638.7 3197.1l5.4 .3l5.5 4.9l7.1 13.3l.7 5.5l-2.9 5.5l-4.9 3.7l-5.5 3.1l-5.4 .4l-5.5-6.2l-1.9-12l1.9-12.2z" fill="#2400d8" fill-rule="evenodd"/>
<rect x="1785.4" y="3047.2" width="32.8" height="32.9" fill="#fff"/>
<rect x="1923.5" y="2976.3" width="41.5" height="60.6" fill="#fff"/>
<rect x="1927" y="3036.8" width="20.7" height="41.5" fill="#fff"/>
<rect x="1906.3" y="3099.1" width="48.4" height="31.2" fill="#fff"/>
<rect x="1852.7" y="3218.6" width="32.8" height="36.3" fill="#fff"/>
<rect x="1509" y="3566.5" width="32.8" height="20.8" fill="#fff"/>
<rect x="1595.4" y="3583.8" width="34.5" height="10.4" fill="#fff"/>
<path d="M1911.5 3556.1l4.4-12.1l-6.2-8.7l-10.3-5.2l-12.1-8.6l-1.7-12.1l-5.2-15.6l-3.5-12.1l-5.9-17.4l3.5-12.1l-2.8-10.4l5.2-13.8l2.4-10.4l-7.6-5.2l-6.9-8.6l-8.6-10.4l-1.7-12.1l6.2-17.3l4.8-13.9l4.5-13.5l6.9-7.3l8-13.8l5.8-13.8l8.7-13.9l1.7-8.7l3.4-12.1l10.4-5.2l12.1-6.9l3.5-8.6l10.3-3.5l9-10l6.6-10.8l8.6-12.1l20.7 0l0 401.6l-73.2 0l.7-41.6zM1890.7 3346.7l-5.8-1.8l-1.1 10.4l2.4 8.7l3.5-5.2zM1878.6 3398.6l1.8-8.7l-5.2-8.6l-3.5-7l-2.7 8.7l4.5 10.4zM1885.6 3452.2l6.9-6.9l-1.8-5.2l-8.6 10.4z" fill="#fff" fill-rule="evenodd"/>
<path class="ct" d="M1965 3209.9l-8.6 12.1l-6.6 10.8l-9 10l-10.3 3.5l-3.5 8.6l-12.1 6.9l-10.4 5.2l-3.4 12.1l-1.7 8.7l-8.7 13.9l-5.8 13.8l-8 13.8l-6.9 7.3l-4.5 13.5l-4.8 13.9l-6.2 17.3l1.7 12.1l8.6 10.4l6.9 8.6l7.6 5.2l-2.4 10.4l-5.2 13.8l2.8 10.4l-3.5 12.1l5.9 17.4l3.5 12.1l5.2 15.6l1.7 12.1l12.1 8.6l10.3 5.2l6.2 8.7l-4.4 12.1l1.7 13.8l-.7 20.8M1884.9 3344.9l5.8 1.8l-1 12.1l-3.5 5.2l-2.4-8.7l1.1-10.4M1871.7 3374.3l3.5 7l5.2 8.6l-1.8 8.7l-5.1-5.2l-4.5-10.4l2.7-8.7M1890.7 3440.1l1.8 5.2l-6.9 6.9l-3.5-1.7l8.6-10.4M1617.8 3177l5.2-1.7l6.9-3.5l5.2 2.8l5.2-5.5l5.2 2.7l5.2-5.2l5.1 1.8l5.2-7.6l3.5 4.1l5.2-1.7l3.4 5.9l6.9-.7l5.2 5.2l3.5-1.8l3.4 6.3l6.9 1.4l8.7-2.5l8.6 3.5l-1.7 5.2l-10.4 0l-8.6 3.4l-3.5 7l.7 10.4l-5.9 10.3l-5.2 8.7l-3.4 10.4l-5.2 6.9l5.2 5.2l6.9 1.7l-3.5 5.2l-10.3-3.4l-6.9 8.6l-6.9-1.7l-5.2 5.2l-3.5 13.8l-3.4-12.1l-6.9-5.2l-8.7 3.5l-5.1-5.2l-7 6.9l-5.1-8.7l-3.5-10.3l1.7-12.2l1.8-13.8l-2.8-10.4l2.8-10.4l-1.8-10.4l6.9-12.1M1528 3291.3l8.7 36.3l5.2 20.8l3.4 20.8l12.1 24.2l12.1 22.5l6.9 22.5l8.6 20.8l5.2 17.3l-13.8 1.7l-8.6-19l-10.4-27.7l-15.5-20.8l-13.9-24.2l-3.4-31.2l-5.2-31.1l3.5-24.3l5.1-8.6M1686.9 3504.2l12.1 5.2l10.4 22.5l1.7 24.2l10.4 19l-1.8 15.6M1686.9 3504.2l1.8 17.3l6.9 20.7l3.4 24.3l-3.4 24.2M1752.6 3016.1l6.9 1.7l5.2 12.1l0 20.8l8.6 17.3l8.6 17.3l-3.4 6.9l-6.9-8.6l-10.4-12.2l-3.5-20.7l-6.9-17.3l1.8-17.3M1562.6 3137.2l15.5-22.5l13.8-15.6l8.7-5.1l-1.8 8.6l-10.3 17.3l-12.1 13.9l-8.6 5.2l-5.2-1.8M1531.5 3184l8.6-5.2l5.2 6.9l-5.2 10.4l-6.9-1.8l-1.7-10.3M1515.9 3232.4l8.7 3.5l1.7 12.1l-6.9 12.1l-6.9-1.7l1.7-13.9l1.7-12.1M1629.9 3116.5l10.4-5.2l6.9 8.6l8.6-6.9l12.1 1.7l-3.4 8.7l1.7 6.9l-10.4 1.7l-5.1-5.2l-10.4 0l-5.2-5.2l-5.2-5.1M1612.7 3438.4l8.6 5.2l12.1 12.1l10.4 12.1l-3.5 5.2l-10.4-6.9l-10.3-10.4l-6.9-8.7l0-8.6M1496.9 3471.3l15.6-1.8l8.6 13.9l-5.2 17.3l-13.8-3.5l-6.9-10.4l1.7-15.5M1533.2 3552.6l12.1 3.5l1.7 13.8l-10.3 3.5l-5.2-10.4l1.7-10.4M1714.6 3305.1l8.6-6.9l10.4-5.2l-1.8 5.2l-10.3 6.9l-6.9 0M1749.1 3293l3.5 1.7l0 10.4l-3.5 1.7l0-13.8M1757.7 3251.5l3.5 3.4l-1.7 10.4l-3.5-3.5l1.7-10.3"/>
<path class="bd" d="M1481.4 3024.4l13.8 2l12.1-6.9l8.6 2.8l12.1-6.9l8.7 4.1l8.6 4.9l12.1 12.4l12.1 11.8l12.1 4.8l13.8-9l10.4 3.5l13.8 4.2l13.8-5.6l13.8-2.1l13.8-.6l13.8-2.1l13.9-11.1M1688.7 3030.6l17.2-18l17.3-19l8.6-8.7l-3.4-6.9l-5.2-10.4M1731.8 2984.9l10.4 3.5l6.9 3.4l3.5 12.1l3.4 12.2l8.7 5.2l24.1 1l13.8 9.3l13.9 8.7l13.8 9l13.8 .7l17.3 3.4l19 2.8l10.3-12.4l19-10.4l13.8-5.6l12.1 10.4l25.9-.3l3.5-2.8M1961.5 3037.9l-17.2 23.2l-13.8 16.6l0 127l19.3 28.1M1688.7 3030.6l5.1 11.4l8.7 8.7l1.7 13.8l10.4 12.1l6.9 13.9l1.7 17.3l-5.2 15.6l-8.6 13.8l-10.4 13.9l-6.9 10.4l-5.2 6.9M1690.4 3211l32.8 18l34.5 19l34.6 20.8l20.7 11l5.2 11.5l-3.5 6.9l6.9 5.2l22.5 15.6l25.9 17.6M1566 3212.3l10.4-2.4l35.2 0M1581.6 3053.4l-5.2 18l1.7 19.1l15.6 8.6M1564.3 3133.8l-6.9 10.3l-8.6 10.4l-3.5 17.3l-6.9 17.3l-1.7 17.4l0 15.5M1536.7 3222l12.1 3.5l8.6-5.2l8.6-8M1566 3212.3l10.4 11.5l3.4 19l-1.7 13.8l-8.6 1.8M1569.5 3258.4l-12.1-1.8l-8.6 1.8l-1.8 12.1l-17.2 2.4l-12.1-7.6l-5.9-3.5M1511.8 3261.8l7.6-13.8l1.7-13.9l6.9-6.9l8.7-5.2M1569.5 3258.4l-3.5 12.1l13.8 15.6l-10.3 12.1l-12.1 17.3l-8.6 10.4l-10.4 3.8M1511.8 3261.8l5.9 12.2l5.8 15.5l1.1 19.1l5.2 20.7M1481.4 3473l10.4-1.7l20.7-2.5l24.2-4.5l24.1-3.4l15.6-1.7M1500.4 3493.8l3.5 19l-1.8 19.1l1.8 13.8l-5.2 17.3l-3.5 17.3l0 10.4M1590.2 3473l15.6 8.7l13.8 6.9l17.2 6.9l15.6 5.2M1652.4 3500.7l12.1 3.5l13.8 3.4l8.6-2.7M1652.4 3500.7l10.4 8.7l3.4 12.1l8.6 13.8l-6.9 13.9l-5.1 13.8l1.7 13.9l-1.7 13.8M1721.5 3575.8l15.5 1.1l13.8-10.4l13.9 10.4l13.8 3.4l17.2-1.7l13.9-1.7l13.8-10.4l13.8 0l17.3-1.8l17.2-6.9l17.3-6.9l10.4-5.2l10.3-9.7M1721.5 3575.8l-10.4 1.1l-1.7 13.8"/>
<path d="M1481.4 3486.8l0-34.6l0-34.6l0-34.6l0-34.6l0-34.6l0-34.7l0-34.6l0-34.6l0-34.6l0-34.6l0-34.6l0-34.7l0-34.6l0-34.6l0-34.6l449.1 0l0 34.6l0 34.6l0 34.6l34.5 0l0 34.7l0 34.6l0 34.6l0 34.6l-8.6 12.1l-6.6 10.8l-9 10l-5.2 1.7l-5.1 0l0 1.8l-3.5 8.6l-12.1 6.9l-10.4 5.2l-3.4 12.1l-5.2 0l0 14.2l-5.2 8.4l-5.8 13.8l-8 13.8l-6.9 7.3l-4.5 13.5l-4.8 13.9l-6.2 17.3l1.7 12.1l8.6 10.4l6.9 8.6l7.6 5.2l-2.4 10.4l-5.2 13.8l2.8 10.4l-3.5 12.1l5.9 17.4l3.5 12.1l5.2 15.6l1.7 12.1l-25.9 0l0 34.6l-34.6 0l0 34.6l-345.4 0l0-34.6l0-34.6zM1895.9 3244.5l0-34.6l-34.5 0l0 34.6zM1930.5 3140.7l0-34.6l-34.6 0l0 34.6zM1826.8 3036.8l-34.5 0l0 34.6l34.5 0zM1883.8 3355.3l1.1-10.4l5.8 1.8l-1 12.1l-3.5 5.2zM1871.7 3374.3l3.5 7l5.2 8.6l-1.8 8.7l-5.1-5.2l-4.5-10.4zM1892.5 3445.3l-6.9 6.9l-3.5-1.7l8.6-10.4z" fill="url(#h_l)" fill-rule="evenodd"/>
<path d="M1501.5 3086.9h0m32.8 0h0m32.8 0h0m-82 16.4h0m32.8 0h0m32.8 0h0m32.8 0h0m-82 16.5h0m32.8 0h0m32.8 0h0m32.8 0h0m32.8 0h0m32.8 0h0m-180.4 16.4h0m32.8 0h0m32.8 0h0m32.8 0h0m32.8 0h0m32.8 0h0m32.8 0h0m-180.4 16.4h0m32.8 0h0m32.8 0h0m32.8 0h0m32.8 0h0m32.8 0h0m32.8 0h0m32.8 0h0m-246 16.5h0m32.8 0h0m32.8 0h0m32.8 0h0m32.8 0h0m32.8 0h0m32.8 0h0m32.8 0h0m32.8 0h0m-246 16.4h0m32.8 0h0m32.8 0h0m32.8 0h0m32.8 0h0m32.8 0h0m32.8 0h0m32.8 0h0m32.8 0h0m-278.8 16.4h0m32.8 0h0m32.8 0h0m32.8 0h0m32.8 0h0m32.8 0h0m32.8 0h0m32.8 0h0m32.8 0h0m32.8 0h0m-278.8 16.4h0m32.8 0h0m32.8 0h0m32.8 0h0m32.8 0h0m32.8 0h0m32.8 0h0m65.6 0h0m32.8 0h0m-311.6 16.5h0m65.6 0h0m32.8 0h0m32.8 0h0m32.8 0h0m32.8 0h0m32.8 0h0m65.6 0h0m32.8 0h0m-311.6 16.4h0m32.8 0h0m32.8 0h0m32.8 0h0m32.8 0h0m32.8 0h0m32.8 0h0m65.6 0h0m32.8 0h0m-311.6 16.4h0m32.8 0h0m32.8 0h0m32.8 0h0m32.8 0h0m32.8 0h0m32.8 0h0m32.8 0h0m65.6 0h0m32.8 0h0m-311.6 16.5h0m32.8 0h0m32.8 0h0m196.8 0h0m32.8 0h0m-311.6 16.4h0m32.8 0h0m32.8 0h0m32.8 0h0m196.8 0h0m32.8 0h0m-49.2 16.4h0m32.8 0h0m-16.4 16.5h0m32.8 0h0m-49.2 16.4h0m32.8 0h0m32.8 0h0m-49.2 16.4h0m32.8 0h0m32.8 0h0m-82 16.5h0m32.8 0h0m32.8 0h0m-49.2 16.4h0m32.8 0h0m32.8 0h0m-82 16.4h0m32.8 0h0m32.8 0h0m-82 16.4h0m32.8 0h0m32.8 0h0m32.8 0h0m-114.8 16.5h0m32.8 0h0m32.8 0h0m32.8 0h0m-82 16.4h0m32.8 0h0m-49.2 16.4h0m32.8 0h0" stroke="#000" stroke-width="8.5" stroke-linecap="round" fill="none"/>
<path d="M1517.9 3234.8h0" stroke="#1a1af0" stroke-width="8.5" stroke-linecap="round" fill="none"/>
</g>
<path class="tk" d="M1481.4 2951.4v16.2M1481.4 3590.7v16.2M1619.6 2951.4v16.2M1619.6 3590.7v16.2M1757.7 2951.4v16.2M1757.7 3590.7v16.2M1895.9 2951.4v16.2M1895.9 3590.7v16.2M1465.2 3036.8h16.2M1965 3036.8h16.2M1465.2 3175.3h16.2M1965 3175.3h16.2M1465.2 3313.8h16.2M1965 3313.8h16.2M1465.2 3452.2h16.2M1965 3452.2h16.2M1465.2 3590.7h16.2M1965 3590.7h16.2"/>
<rect class="fr" x="1481.4" y="2967.6" width="483.6" height="623.1"/>
<text x="1477.5" y="2926.8" font-size="49">l) SDII</text>
<text x="1440.9" y="3051" font-size="39.5" text-anchor="end">4N</text>
<text x="1440.9" y="3189.4" font-size="39.5" text-anchor="end">0</text>
<text x="1440.9" y="3327.9" font-size="39.5" text-anchor="end">4S</text>
<text x="1440.9" y="3466.4" font-size="39.5" text-anchor="end">8S</text>
<text x="1440.9" y="3604.8" font-size="39.5" text-anchor="end">12S</text>
<text x="1481.4" y="3664.5" font-size="39.5" text-anchor="middle">28E</text>
<text x="1619.6" y="3664.5" font-size="39.5" text-anchor="middle">32E</text>
<text x="1757.7" y="3664.5" font-size="39.5" text-anchor="middle">36E</text>
<text x="1895.9" y="3664.5" font-size="39.5" text-anchor="middle">40E</text>
<text x="1723.2" y="3713" font-size="48.5" text-anchor="middle">mm/day</text>
<g class="cbx">
<path d="M1479.9 3730.7L1432.4 3748.2L1479.9 3765.7Z" fill="#ffac75"/>
<rect x="1479.9" y="3730.7" width="48.6" height="35" fill="#ffd699"/>
<rect x="1528.5" y="3730.7" width="48.6" height="35" fill="#fff1bc"/>
<rect x="1577.1" y="3730.7" width="48.6" height="35" fill="#eaffff"/>
<rect x="1625.8" y="3730.7" width="48.6" height="35" fill="#bcf9ff"/>
<rect x="1674.4" y="3730.7" width="48.6" height="35" fill="#99eaff"/>
<rect x="1723" y="3730.7" width="48.6" height="35" fill="#75d3ff"/>
<rect x="1771.6" y="3730.7" width="48.6" height="35" fill="#56b0ff"/>
<rect x="1820.2" y="3730.7" width="48.6" height="35" fill="#3d87ff"/>
<rect x="1868.9" y="3730.7" width="48.6" height="35" fill="#2857ff"/>
<rect x="1917.5" y="3730.7" width="48.6" height="35" fill="#181cf7"/>
<path d="M1966.1 3730.7L2014.5 3748.2L1966.1 3765.7Z" fill="#2400d8"/>
</g>
<text x="1479.9" y="3811.5" font-size="48" text-anchor="middle">-0.4</text>
<text x="1577.1" y="3811.5" font-size="48" text-anchor="middle">0</text>
<text x="1674.4" y="3811.5" font-size="48" text-anchor="middle">0.4</text>
<text x="1771.6" y="3811.5" font-size="48" text-anchor="middle">0.8</text>
<text x="1868.9" y="3811.5" font-size="48" text-anchor="middle">1.2</text>
<text x="1966.1" y="3811.5" font-size="48" text-anchor="middle">1.6</text>
</g>
</svg></body></html>
